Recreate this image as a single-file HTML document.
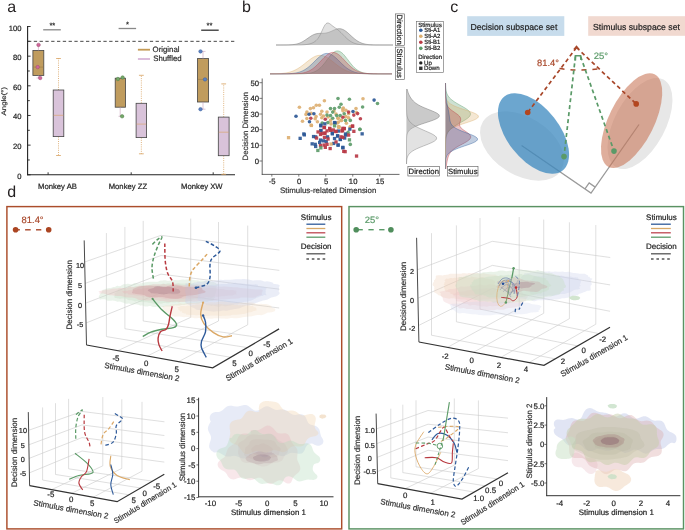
<!DOCTYPE html>
<html><head><meta charset="utf-8"><style>
html,body{margin:0;padding:0;background:#fff;overflow:hidden;width:685px;height:530px;}
svg{display:block;will-change:transform;}
text{font-family:"Liberation Sans",sans-serif;text-rendering:geometricPrecision;}
</style></head><body>
<svg width="685" height="530" viewBox="0 0 685 530" font-family="Liberation Sans, sans-serif">
<defs><filter id="bl" x="-20%" y="-40%" width="140%" height="180%"><feGaussianBlur stdDeviation="0.8"/></filter></defs>
<rect width="685" height="530" fill="#fff"/>
<text x="7.30" y="11.90" font-size="16" text-anchor="start" fill="#231f20" >a</text>
<line x1="27.60" y1="26.00" x2="27.60" y2="175.30" stroke="#222" stroke-width="1.1" />
<line x1="27.10" y1="174.70" x2="235.00" y2="174.70" stroke="#222" stroke-width="1.1" />
<line x1="27.60" y1="174.80" x2="30.60" y2="174.80" stroke="#222" stroke-width="0.9" />
<text x="21.40" y="178.80" font-size="7.6" text-anchor="end" fill="#222"  stroke="#222" stroke-width="0.2">0</text>
<line x1="27.60" y1="159.97" x2="29.80" y2="159.97" stroke="#222" stroke-width="0.9" />
<line x1="27.60" y1="145.14" x2="30.60" y2="145.14" stroke="#222" stroke-width="0.9" />
<text x="21.40" y="149.14" font-size="7.6" text-anchor="end" fill="#222"  stroke="#222" stroke-width="0.2">20</text>
<line x1="27.60" y1="130.31" x2="29.80" y2="130.31" stroke="#222" stroke-width="0.9" />
<line x1="27.60" y1="115.48" x2="30.60" y2="115.48" stroke="#222" stroke-width="0.9" />
<text x="21.40" y="119.48" font-size="7.6" text-anchor="end" fill="#222"  stroke="#222" stroke-width="0.2">40</text>
<line x1="27.60" y1="100.65" x2="29.80" y2="100.65" stroke="#222" stroke-width="0.9" />
<line x1="27.60" y1="85.82" x2="30.60" y2="85.82" stroke="#222" stroke-width="0.9" />
<text x="21.40" y="89.82" font-size="7.6" text-anchor="end" fill="#222"  stroke="#222" stroke-width="0.2">60</text>
<line x1="27.60" y1="70.99" x2="29.80" y2="70.99" stroke="#222" stroke-width="0.9" />
<line x1="27.60" y1="56.16" x2="30.60" y2="56.16" stroke="#222" stroke-width="0.9" />
<text x="21.40" y="60.16" font-size="7.6" text-anchor="end" fill="#222"  stroke="#222" stroke-width="0.2">80</text>
<line x1="27.60" y1="41.33" x2="29.80" y2="41.33" stroke="#222" stroke-width="0.9" />
<line x1="27.60" y1="26.50" x2="30.60" y2="26.50" stroke="#222" stroke-width="0.9" />
<text x="21.40" y="30.50" font-size="7.6" text-anchor="end" fill="#222"  stroke="#222" stroke-width="0.2">100</text>
<line x1="48.10" y1="174.70" x2="48.10" y2="172.30" stroke="#222" stroke-width="0.9" />
<line x1="131.20" y1="174.70" x2="131.20" y2="172.30" stroke="#222" stroke-width="0.9" />
<line x1="213.20" y1="174.70" x2="213.20" y2="172.30" stroke="#222" stroke-width="0.9" />
<line x1="28.00" y1="41.33" x2="234.50" y2="41.33" stroke="#333" stroke-width="0.9" stroke-dasharray="3.3 2.5"/>
<text transform="translate(5.8,101.2) rotate(-90)" font-size="6.6" text-anchor="middle" fill="#333" textLength="28.4" lengthAdjust="spacingAndGlyphs" stroke="#333" stroke-width="0.2">Angle(°)</text>
<text x="57.50" y="188.70" font-size="7.7" text-anchor="middle" fill="#222"  stroke="#222" stroke-width="0.2">Monkey AB</text>
<text x="127.90" y="188.70" font-size="7.7" text-anchor="middle" fill="#222"  stroke="#222" stroke-width="0.2">Monkey ZZ</text>
<text x="201.80" y="188.70" font-size="7.7" text-anchor="middle" fill="#222"  stroke="#222" stroke-width="0.2">Monkey XW</text>
<line x1="43.20" y1="29.80" x2="60.80" y2="29.80" stroke="#888" stroke-width="1.3" />
<text x="52.30" y="28.00" font-size="7.5" text-anchor="middle" fill="#222"  stroke="#222" stroke-width="0.2">**</text>
<line x1="118.60" y1="28.50" x2="136.10" y2="28.50" stroke="#888" stroke-width="1.3" />
<text x="127.40" y="26.60" font-size="7.5" text-anchor="middle" fill="#222"  stroke="#222" stroke-width="0.2">*</text>
<line x1="201.20" y1="30.20" x2="218.70" y2="30.20" stroke="#333" stroke-width="1.3" />
<text x="209.50" y="28.30" font-size="7.5" text-anchor="middle" fill="#222"  stroke="#222" stroke-width="0.2">**</text>
<line x1="137.90" y1="49.70" x2="150.00" y2="49.70" stroke="#c49a55" stroke-width="1.8" />
<text x="152.60" y="52.30" font-size="7.8" text-anchor="start" fill="#2a2a2a"  stroke="#2a2a2a" stroke-width="0.2">Original</text>
<line x1="137.90" y1="59.00" x2="150.00" y2="59.00" stroke="#d8b6d8" stroke-width="1.8" />
<text x="153.20" y="60.80" font-size="7.8" text-anchor="start" fill="#2a2a2a"  stroke="#2a2a2a" stroke-width="0.2">Shuffled</text>
<line x1="58.50" y1="90.00" x2="58.50" y2="58.50" stroke="#d8a160" stroke-width="0.8" stroke-dasharray="1 1.2"/>
<line x1="56.10" y1="58.50" x2="60.90" y2="58.50" stroke="#d8a160" stroke-width="0.8" />
<line x1="58.50" y1="136.60" x2="58.50" y2="155.50" stroke="#d8a160" stroke-width="0.8" stroke-dasharray="1 1.2"/>
<line x1="56.10" y1="155.50" x2="60.90" y2="155.50" stroke="#d8a160" stroke-width="0.8" />
<rect x="53.20" y="90.00" width="10.60" height="46.60" fill="#d9c3da" stroke="#444" stroke-width="0.8"/>
<line x1="53.60" y1="115.30" x2="63.40" y2="115.30" stroke="#d8a160" stroke-width="0.6" />
<line x1="141.35" y1="103.30" x2="141.35" y2="75.30" stroke="#d8a160" stroke-width="0.8" stroke-dasharray="1 1.2"/>
<line x1="138.95" y1="75.30" x2="143.75" y2="75.30" stroke="#d8a160" stroke-width="0.8" />
<line x1="141.35" y1="137.60" x2="141.35" y2="153.80" stroke="#d8a160" stroke-width="0.8" stroke-dasharray="1 1.2"/>
<line x1="138.95" y1="153.80" x2="143.75" y2="153.80" stroke="#d8a160" stroke-width="0.8" />
<rect x="136.10" y="103.30" width="10.50" height="34.30" fill="#d9c3da" stroke="#444" stroke-width="0.8"/>
<line x1="136.50" y1="124.10" x2="146.20" y2="124.10" stroke="#d8a160" stroke-width="0.6" />
<line x1="223.70" y1="117.10" x2="223.70" y2="83.90" stroke="#d8a160" stroke-width="0.8" stroke-dasharray="1 1.2"/>
<line x1="221.30" y1="83.90" x2="226.10" y2="83.90" stroke="#d8a160" stroke-width="0.8" />
<line x1="223.70" y1="155.70" x2="223.70" y2="174.30" stroke="#d8a160" stroke-width="0.8" stroke-dasharray="1 1.2"/>
<line x1="221.30" y1="174.30" x2="226.10" y2="174.30" stroke="#d8a160" stroke-width="0.8" />
<rect x="218.30" y="117.10" width="10.80" height="38.60" fill="#d9c3da" stroke="#444" stroke-width="0.8"/>
<line x1="218.70" y1="132.20" x2="228.70" y2="132.20" stroke="#d8a160" stroke-width="0.6" />
<rect x="32.90" y="50.50" width="10.90" height="24.90" fill="#c09c5e" stroke="#444" stroke-width="0.8"/>
<line x1="33.30" y1="67.10" x2="43.40" y2="67.10" stroke="#9a7a48" stroke-width="0.6" />
<rect x="115.20" y="78.20" width="10.30" height="29.00" fill="#c09c5e" stroke="#444" stroke-width="0.8"/>
<rect x="197.50" y="58.60" width="11.10" height="43.40" fill="#c09c5e" stroke="#444" stroke-width="0.8"/>
<line x1="197.90" y1="79.40" x2="208.20" y2="79.40" stroke="#9a7a48" stroke-width="0.6" />
<line x1="120.20" y1="107.20" x2="120.20" y2="116.30" stroke="#c8a0b8" stroke-width="0.6" />
<line x1="118.50" y1="116.30" x2="124.00" y2="116.30" stroke="#c8a0b8" stroke-width="0.6" />
<line x1="38.40" y1="75.40" x2="38.40" y2="78.00" stroke="#c8a0b8" stroke-width="0.6" />
<line x1="36.50" y1="78.00" x2="41.00" y2="78.00" stroke="#c8a0b8" stroke-width="0.6" />
<line x1="38.40" y1="50.50" x2="38.40" y2="44.90" stroke="#c8a0b8" stroke-width="0.6" />
<line x1="36.50" y1="44.90" x2="41.00" y2="44.90" stroke="#c8a0b8" stroke-width="0.6" />
<line x1="203.00" y1="58.60" x2="203.00" y2="51.40" stroke="#c8a0b8" stroke-width="0.6" />
<line x1="200.50" y1="51.40" x2="205.50" y2="51.40" stroke="#c8a0b8" stroke-width="0.6" />
<line x1="203.00" y1="102.00" x2="203.00" y2="109.20" stroke="#c8a0b8" stroke-width="0.6" />
<line x1="200.50" y1="109.20" x2="205.50" y2="109.20" stroke="#c8a0b8" stroke-width="0.6" />
<circle cx="38.50" cy="44.90" r="1.75" fill="#d0679a" stroke="#a04a70" stroke-width="0.5"/>
<circle cx="37.70" cy="67.10" r="1.75" fill="#d0679a" stroke="#a04a70" stroke-width="0.5"/>
<circle cx="40.20" cy="78.00" r="1.75" fill="#d0679a" stroke="#a04a70" stroke-width="0.5"/>
<circle cx="117.90" cy="79.00" r="1.75" fill="#74a868" stroke="#4f7d48" stroke-width="0.5"/>
<circle cx="122.60" cy="77.50" r="1.75" fill="#74a868" stroke="#4f7d48" stroke-width="0.5"/>
<circle cx="122.10" cy="116.30" r="1.75" fill="#74a868" stroke="#4f7d48" stroke-width="0.5"/>
<circle cx="200.50" cy="51.40" r="1.75" fill="#5a82c4" stroke="#3d5f9a" stroke-width="0.5"/>
<circle cx="205.00" cy="79.40" r="1.75" fill="#5a82c4" stroke="#3d5f9a" stroke-width="0.5"/>
<circle cx="200.50" cy="109.20" r="1.75" fill="#5a82c4" stroke="#3d5f9a" stroke-width="0.5"/>
<text x="242.00" y="11.90" font-size="16" text-anchor="start" fill="#231f20" >b</text>
<line x1="262.20" y1="78.50" x2="262.20" y2="174.80" stroke="#444" stroke-width="0.8" />
<line x1="261.80" y1="174.40" x2="399.50" y2="174.40" stroke="#444" stroke-width="0.8" />
<line x1="259.40" y1="161.00" x2="262.20" y2="161.00" stroke="#444" stroke-width="0.7" />
<text x="259.10" y="163.80" font-size="7.7" text-anchor="end" fill="#222"  stroke="#222" stroke-width="0.2">0</text>
<line x1="259.40" y1="145.34" x2="262.20" y2="145.34" stroke="#444" stroke-width="0.7" />
<text x="259.10" y="148.14" font-size="7.7" text-anchor="end" fill="#222"  stroke="#222" stroke-width="0.2">10</text>
<line x1="259.40" y1="129.68" x2="262.20" y2="129.68" stroke="#444" stroke-width="0.7" />
<text x="259.10" y="132.48" font-size="7.7" text-anchor="end" fill="#222"  stroke="#222" stroke-width="0.2">20</text>
<line x1="259.40" y1="114.02" x2="262.20" y2="114.02" stroke="#444" stroke-width="0.7" />
<text x="259.10" y="116.82" font-size="7.7" text-anchor="end" fill="#222"  stroke="#222" stroke-width="0.2">30</text>
<line x1="259.40" y1="98.36" x2="262.20" y2="98.36" stroke="#444" stroke-width="0.7" />
<text x="259.10" y="101.16" font-size="7.7" text-anchor="end" fill="#222"  stroke="#222" stroke-width="0.2">40</text>
<line x1="259.40" y1="82.70" x2="262.20" y2="82.70" stroke="#444" stroke-width="0.7" />
<text x="259.10" y="85.50" font-size="7.7" text-anchor="end" fill="#222"  stroke="#222" stroke-width="0.2">50</text>
<line x1="271.82" y1="174.40" x2="271.82" y2="176.60" stroke="#444" stroke-width="0.7" />
<text x="272.22" y="184.00" font-size="7.7" text-anchor="middle" fill="#222"  stroke="#222" stroke-width="0.2">-5</text>
<line x1="298.80" y1="174.40" x2="298.80" y2="176.60" stroke="#444" stroke-width="0.7" />
<text x="299.20" y="184.00" font-size="7.7" text-anchor="middle" fill="#222"  stroke="#222" stroke-width="0.2">0</text>
<line x1="325.78" y1="174.40" x2="325.78" y2="176.60" stroke="#444" stroke-width="0.7" />
<text x="326.18" y="184.00" font-size="7.7" text-anchor="middle" fill="#222"  stroke="#222" stroke-width="0.2">5</text>
<line x1="352.75" y1="174.40" x2="352.75" y2="176.60" stroke="#444" stroke-width="0.7" />
<text x="353.15" y="184.00" font-size="7.7" text-anchor="middle" fill="#222"  stroke="#222" stroke-width="0.2">10</text>
<line x1="379.73" y1="174.40" x2="379.73" y2="176.60" stroke="#444" stroke-width="0.7" />
<text x="380.12" y="184.00" font-size="7.7" text-anchor="middle" fill="#222"  stroke="#222" stroke-width="0.2">15</text>
<text x="328.25" y="193.30" font-size="7.8" text-anchor="middle" fill="#333" textLength="96.3" lengthAdjust="spacingAndGlyphs"  stroke="#333" stroke-width="0.2">Stimulus-related Dimension</text>
<text transform="translate(247.9,126.2) rotate(-90)" font-size="7.8" text-anchor="middle" fill="#333" textLength="68.5" lengthAdjust="spacingAndGlyphs" stroke="#333" stroke-width="0.2">Decision Dimension</text>
<circle cx="324.4" cy="100.7" r="1.8" fill="#ddb073" fill-opacity="0.92"/>
<circle cx="299.4" cy="107.3" r="1.8" fill="#ddb073" fill-opacity="0.92"/>
<circle cx="310.4" cy="108.6" r="1.8" fill="#ddb073" fill-opacity="0.92"/>
<circle cx="313.5" cy="107.7" r="1.8" fill="#ddb073" fill-opacity="0.92"/>
<circle cx="316.3" cy="105.3" r="1.8" fill="#ddb073" fill-opacity="0.92"/>
<circle cx="319.4" cy="105.3" r="1.8" fill="#ddb073" fill-opacity="0.92"/>
<circle cx="306.9" cy="112.1" r="1.8" fill="#ddb073" fill-opacity="0.92"/>
<circle cx="306.0" cy="114.4" r="1.8" fill="#ddb073" fill-opacity="0.92"/>
<circle cx="311.1" cy="113.4" r="1.8" fill="#ddb073" fill-opacity="0.92"/>
<circle cx="321.8" cy="111.2" r="1.8" fill="#ddb073" fill-opacity="0.92"/>
<circle cx="320.5" cy="114.3" r="1.8" fill="#ddb073" fill-opacity="0.92"/>
<circle cx="316.1" cy="116.5" r="1.8" fill="#ddb073" fill-opacity="0.92"/>
<circle cx="315.2" cy="118.8" r="1.8" fill="#ddb073" fill-opacity="0.92"/>
<circle cx="306.9" cy="118.5" r="1.8" fill="#ddb073" fill-opacity="0.92"/>
<circle cx="302.5" cy="121.3" r="1.8" fill="#ddb073" fill-opacity="0.92"/>
<circle cx="311.3" cy="125.2" r="1.8" fill="#ddb073" fill-opacity="0.92"/>
<circle cx="317.4" cy="121.7" r="1.8" fill="#ddb073" fill-opacity="0.92"/>
<circle cx="321.8" cy="117.8" r="1.8" fill="#ddb073" fill-opacity="0.92"/>
<circle cx="323.5" cy="116.0" r="1.8" fill="#ddb073" fill-opacity="0.92"/>
<circle cx="330.5" cy="120.4" r="1.8" fill="#ddb073" fill-opacity="0.92"/>
<circle cx="331.0" cy="123.9" r="1.8" fill="#ddb073" fill-opacity="0.92"/>
<circle cx="338.0" cy="118.2" r="1.8" fill="#ddb073" fill-opacity="0.92"/>
<circle cx="341.0" cy="120.4" r="1.8" fill="#ddb073" fill-opacity="0.92"/>
<circle cx="342.8" cy="109.0" r="1.8" fill="#ddb073" fill-opacity="0.92"/>
<circle cx="337.5" cy="123.0" r="1.8" fill="#ddb073" fill-opacity="0.92"/>
<circle cx="338.9" cy="127.0" r="1.8" fill="#ddb073" fill-opacity="0.92"/>
<circle cx="363.0" cy="98.7" r="1.8" fill="#ddb073" fill-opacity="0.92"/>
<circle cx="343.3" cy="108.1" r="1.8" fill="#ddb073" fill-opacity="0.92"/>
<circle cx="342.9" cy="110.8" r="1.8" fill="#ddb073" fill-opacity="0.92"/>
<circle cx="345.9" cy="110.3" r="1.8" fill="#ddb073" fill-opacity="0.92"/>
<circle cx="356.0" cy="108.6" r="1.8" fill="#ddb073" fill-opacity="0.92"/>
<circle cx="356.5" cy="112.5" r="1.8" fill="#ddb073" fill-opacity="0.92"/>
<circle cx="348.6" cy="113.8" r="1.8" fill="#ddb073" fill-opacity="0.92"/>
<circle cx="345.9" cy="116.5" r="1.8" fill="#ddb073" fill-opacity="0.92"/>
<circle cx="348.6" cy="117.9" r="1.8" fill="#ddb073" fill-opacity="0.92"/>
<circle cx="338.1" cy="118.2" r="1.8" fill="#ddb073" fill-opacity="0.92"/>
<circle cx="341.6" cy="120.4" r="1.8" fill="#ddb073" fill-opacity="0.92"/>
<circle cx="338.5" cy="122.1" r="1.8" fill="#ddb073" fill-opacity="0.92"/>
<circle cx="346.4" cy="123.2" r="1.8" fill="#ddb073" fill-opacity="0.92"/>
<circle cx="338.9" cy="127.0" r="1.8" fill="#ddb073" fill-opacity="0.92"/>
<circle cx="350.3" cy="127.0" r="1.8" fill="#ddb073" fill-opacity="0.92"/>
<circle cx="338.5" cy="126.8" r="1.8" fill="#ddb073" fill-opacity="0.92"/>
<circle cx="350.3" cy="126.8" r="1.8" fill="#ddb073" fill-opacity="0.92"/>
<circle cx="327.0" cy="112.0" r="1.8" fill="#ddb073" fill-opacity="0.92"/>
<circle cx="334.0" cy="111.0" r="1.8" fill="#ddb073" fill-opacity="0.92"/>
<circle cx="336.0" cy="114.0" r="1.8" fill="#ddb073" fill-opacity="0.92"/>
<circle cx="328.0" cy="117.0" r="1.8" fill="#ddb073" fill-opacity="0.92"/>
<circle cx="338.0" cy="98.5" r="1.8" fill="#5e9c6b" fill-opacity="0.92"/>
<circle cx="341.0" cy="104.2" r="1.8" fill="#5e9c6b" fill-opacity="0.92"/>
<circle cx="339.3" cy="107.3" r="1.8" fill="#5e9c6b" fill-opacity="0.92"/>
<circle cx="330.5" cy="108.6" r="1.8" fill="#5e9c6b" fill-opacity="0.92"/>
<circle cx="334.5" cy="108.6" r="1.8" fill="#5e9c6b" fill-opacity="0.92"/>
<circle cx="332.7" cy="112.1" r="1.8" fill="#5e9c6b" fill-opacity="0.92"/>
<circle cx="327.0" cy="115.1" r="1.8" fill="#5e9c6b" fill-opacity="0.92"/>
<circle cx="330.5" cy="115.6" r="1.8" fill="#5e9c6b" fill-opacity="0.92"/>
<circle cx="336.7" cy="115.6" r="1.8" fill="#5e9c6b" fill-opacity="0.92"/>
<circle cx="340.2" cy="115.6" r="1.8" fill="#5e9c6b" fill-opacity="0.92"/>
<circle cx="332.7" cy="118.2" r="1.8" fill="#5e9c6b" fill-opacity="0.92"/>
<circle cx="327.9" cy="122.6" r="1.8" fill="#5e9c6b" fill-opacity="0.92"/>
<circle cx="322.2" cy="123.0" r="1.8" fill="#5e9c6b" fill-opacity="0.92"/>
<circle cx="349.4" cy="99.2" r="1.8" fill="#5e9c6b" fill-opacity="0.92"/>
<circle cx="377.5" cy="103.5" r="1.8" fill="#5e9c6b" fill-opacity="0.92"/>
<circle cx="362.6" cy="107.0" r="1.8" fill="#5e9c6b" fill-opacity="0.92"/>
<circle cx="344.2" cy="113.8" r="1.8" fill="#5e9c6b" fill-opacity="0.92"/>
<circle cx="345.5" cy="120.4" r="1.8" fill="#5e9c6b" fill-opacity="0.92"/>
<circle cx="350.3" cy="120.4" r="1.8" fill="#5e9c6b" fill-opacity="0.92"/>
<circle cx="360.0" cy="129.3" r="1.8" fill="#5e9c6b" fill-opacity="0.92"/>
<circle cx="359.8" cy="129.4" r="1.8" fill="#5e9c6b" fill-opacity="0.92"/>
<circle cx="350.3" cy="144.4" r="1.8" fill="#5e9c6b" fill-opacity="0.92"/>
<circle cx="348.1" cy="132.4" r="1.8" fill="#5e9c6b" fill-opacity="0.92"/>
<circle cx="296.0" cy="116.3" r="1.8" fill="#2c5896" fill-opacity="0.92"/>
<circle cx="309.1" cy="114.3" r="1.8" fill="#2c5896" fill-opacity="0.92"/>
<circle cx="313.9" cy="113.8" r="1.8" fill="#2c5896" fill-opacity="0.92"/>
<circle cx="309.5" cy="121.7" r="1.8" fill="#2c5896" fill-opacity="0.92"/>
<circle cx="374.1" cy="100.1" r="1.8" fill="#2c5896" fill-opacity="0.92"/>
<circle cx="353.0" cy="111.5" r="1.8" fill="#2c5896" fill-opacity="0.92"/>
<circle cx="310.8" cy="118.2" r="1.8" fill="#b83a47" fill-opacity="0.92"/>
<circle cx="325.3" cy="119.3" r="1.8" fill="#b83a47" fill-opacity="0.92"/>
<circle cx="360.4" cy="118.8" r="1.8" fill="#b83a47" fill-opacity="0.92"/>
<circle cx="353.8" cy="115.1" r="1.8" fill="#b83a47" fill-opacity="0.92"/>
<circle cx="357.6" cy="113.6" r="1.8" fill="#b83a47" fill-opacity="0.92"/>
<circle cx="348.6" cy="112.1" r="1.8" fill="#b83a47" fill-opacity="0.92"/>
<circle cx="342.9" cy="117.3" r="1.8" fill="#b83a47" fill-opacity="0.92"/>
<rect x="323.2" y="122.2" width="3.3" height="3.3" fill="#2c5896" fill-opacity="0.92"/>
<rect x="332.9" y="120.9" width="3.3" height="3.3" fill="#2c5896" fill-opacity="0.92"/>
<rect x="319.2" y="123.5" width="3.3" height="3.3" fill="#2c5896" fill-opacity="0.92"/>
<rect x="319.2" y="128.8" width="3.3" height="3.3" fill="#2c5896" fill-opacity="0.92"/>
<rect x="302.2" y="132.3" width="3.3" height="3.3" fill="#2c5896" fill-opacity="0.92"/>
<rect x="330.7" y="131.4" width="3.3" height="3.3" fill="#2c5896" fill-opacity="0.92"/>
<rect x="302.7" y="133.2" width="3.3" height="3.3" fill="#2c5896" fill-opacity="0.92"/>
<rect x="298.5" y="136.7" width="3.3" height="3.3" fill="#2c5896" fill-opacity="0.92"/>
<rect x="311.9" y="134.9" width="3.3" height="3.3" fill="#2c5896" fill-opacity="0.92"/>
<rect x="314.0" y="135.2" width="3.3" height="3.3" fill="#2c5896" fill-opacity="0.92"/>
<rect x="319.2" y="129.0" width="3.3" height="3.3" fill="#2c5896" fill-opacity="0.92"/>
<rect x="318.9" y="138.4" width="3.3" height="3.3" fill="#2c5896" fill-opacity="0.92"/>
<rect x="318.0" y="140.8" width="3.3" height="3.3" fill="#2c5896" fill-opacity="0.92"/>
<rect x="310.5" y="142.2" width="3.3" height="3.3" fill="#2c5896" fill-opacity="0.92"/>
<rect x="313.6" y="142.7" width="3.3" height="3.3" fill="#2c5896" fill-opacity="0.92"/>
<rect x="314.0" y="144.8" width="3.3" height="3.3" fill="#2c5896" fill-opacity="0.92"/>
<rect x="325.9" y="135.2" width="3.3" height="3.3" fill="#2c5896" fill-opacity="0.92"/>
<rect x="330.7" y="132.2" width="3.3" height="3.3" fill="#2c5896" fill-opacity="0.92"/>
<rect x="332.9" y="136.9" width="3.3" height="3.3" fill="#2c5896" fill-opacity="0.92"/>
<rect x="335.9" y="134.2" width="3.3" height="3.3" fill="#2c5896" fill-opacity="0.92"/>
<rect x="338.6" y="137.8" width="3.3" height="3.3" fill="#2c5896" fill-opacity="0.92"/>
<rect x="336.4" y="143.4" width="3.3" height="3.3" fill="#2c5896" fill-opacity="0.92"/>
<rect x="341.2" y="145.7" width="3.3" height="3.3" fill="#2c5896" fill-opacity="0.92"/>
<rect x="324.6" y="139.9" width="3.3" height="3.3" fill="#2c5896" fill-opacity="0.92"/>
<rect x="321.9" y="139.2" width="3.3" height="3.3" fill="#2c5896" fill-opacity="0.92"/>
<rect x="332.0" y="141.8" width="3.3" height="3.3" fill="#2c5896" fill-opacity="0.92"/>
<rect x="319.2" y="124.2" width="3.3" height="3.3" fill="#2c5896" fill-opacity="0.92"/>
<rect x="360.5" y="132.2" width="3.3" height="3.3" fill="#2c5896" fill-opacity="0.92"/>
<rect x="348.2" y="127.5" width="3.3" height="3.3" fill="#2c5896" fill-opacity="0.92"/>
<rect x="343.9" y="133.4" width="3.3" height="3.3" fill="#2c5896" fill-opacity="0.92"/>
<rect x="338.8" y="137.8" width="3.3" height="3.3" fill="#2c5896" fill-opacity="0.92"/>
<rect x="336.5" y="143.4" width="3.3" height="3.3" fill="#2c5896" fill-opacity="0.92"/>
<rect x="341.2" y="146.2" width="3.3" height="3.3" fill="#2c5896" fill-opacity="0.92"/>
<rect x="336.0" y="134.3" width="3.3" height="3.3" fill="#2c5896" fill-opacity="0.92"/>
<rect x="336.9" y="129.4" width="3.3" height="3.3" fill="#2c5896" fill-opacity="0.92"/>
<rect x="343.0" y="136.4" width="3.3" height="3.3" fill="#2c5896" fill-opacity="0.92"/>
<rect x="343.9" y="132.3" width="3.3" height="3.3" fill="#2c5896" fill-opacity="0.92"/>
<rect x="333.4" y="121.3" width="3.3" height="3.3" fill="#2c5896" fill-opacity="0.92"/>
<rect x="322.8" y="125.8" width="3.3" height="3.3" fill="#b83a47" fill-opacity="0.92"/>
<rect x="328.1" y="126.7" width="3.3" height="3.3" fill="#b83a47" fill-opacity="0.92"/>
<rect x="331.6" y="128.3" width="3.3" height="3.3" fill="#b83a47" fill-opacity="0.92"/>
<rect x="325.4" y="129.2" width="3.3" height="3.3" fill="#b83a47" fill-opacity="0.92"/>
<rect x="320.2" y="131.8" width="3.3" height="3.3" fill="#b83a47" fill-opacity="0.92"/>
<rect x="323.2" y="131.4" width="3.3" height="3.3" fill="#b83a47" fill-opacity="0.92"/>
<rect x="341.2" y="126.7" width="3.3" height="3.3" fill="#b83a47" fill-opacity="0.92"/>
<rect x="322.4" y="125.9" width="3.3" height="3.3" fill="#b83a47" fill-opacity="0.92"/>
<rect x="328.1" y="127.2" width="3.3" height="3.3" fill="#b83a47" fill-opacity="0.92"/>
<rect x="334.2" y="129.9" width="3.3" height="3.3" fill="#b83a47" fill-opacity="0.92"/>
<rect x="318.9" y="132.8" width="3.3" height="3.3" fill="#b83a47" fill-opacity="0.92"/>
<rect x="323.2" y="131.7" width="3.3" height="3.3" fill="#b83a47" fill-opacity="0.92"/>
<rect x="314.9" y="136.4" width="3.3" height="3.3" fill="#b83a47" fill-opacity="0.92"/>
<rect x="322.8" y="135.7" width="3.3" height="3.3" fill="#b83a47" fill-opacity="0.92"/>
<rect x="318.9" y="143.9" width="3.3" height="3.3" fill="#b83a47" fill-opacity="0.92"/>
<rect x="322.4" y="143.4" width="3.3" height="3.3" fill="#b83a47" fill-opacity="0.92"/>
<rect x="323.7" y="145.7" width="3.3" height="3.3" fill="#b83a47" fill-opacity="0.92"/>
<rect x="328.5" y="146.9" width="3.3" height="3.3" fill="#b83a47" fill-opacity="0.92"/>
<rect x="328.9" y="128.7" width="3.3" height="3.3" fill="#b83a47" fill-opacity="0.92"/>
<rect x="340.8" y="128.7" width="3.3" height="3.3" fill="#b83a47" fill-opacity="0.92"/>
<rect x="342.1" y="149.7" width="3.3" height="3.3" fill="#b83a47" fill-opacity="0.92"/>
<rect x="339.4" y="135.2" width="3.3" height="3.3" fill="#b83a47" fill-opacity="0.92"/>
<rect x="325.4" y="142.7" width="3.3" height="3.3" fill="#b83a47" fill-opacity="0.92"/>
<rect x="354.9" y="154.4" width="3.3" height="3.3" fill="#b83a47" fill-opacity="0.92"/>
<rect x="343.5" y="150.0" width="3.3" height="3.3" fill="#b83a47" fill-opacity="0.92"/>
<rect x="352.2" y="129.7" width="3.3" height="3.3" fill="#b83a47" fill-opacity="0.92"/>
<rect x="342.6" y="126.8" width="3.3" height="3.3" fill="#b83a47" fill-opacity="0.92"/>
<rect x="347.0" y="133.4" width="3.3" height="3.3" fill="#b83a47" fill-opacity="0.92"/>
<rect x="340.4" y="129.4" width="3.3" height="3.3" fill="#b83a47" fill-opacity="0.92"/>
<rect x="334.2" y="129.7" width="3.3" height="3.3" fill="#b83a47" fill-opacity="0.92"/>
<rect x="341.2" y="135.7" width="3.3" height="3.3" fill="#b83a47" fill-opacity="0.92"/>
<rect x="350.9" y="124.6" width="3.3" height="3.3" fill="#b83a47" fill-opacity="0.92"/>
<rect x="350.9" y="124.4" width="3.3" height="3.3" fill="#b83a47" fill-opacity="0.92"/>
<rect x="342.6" y="127.0" width="3.3" height="3.3" fill="#b83a47" fill-opacity="0.92"/>
<rect x="340.8" y="128.8" width="3.3" height="3.3" fill="#b83a47" fill-opacity="0.92"/>
<rect x="326.4" y="137.3" width="3.3" height="3.3" fill="#b83a47" fill-opacity="0.92"/>
<rect x="334.4" y="140.3" width="3.3" height="3.3" fill="#b83a47" fill-opacity="0.92"/>
<rect x="316.4" y="130.3" width="3.3" height="3.3" fill="#b83a47" fill-opacity="0.92"/>
<rect x="319.2" y="146.2" width="3.3" height="3.3" fill="#5e9c6b" fill-opacity="0.92"/>
<rect x="316.2" y="148.8" width="3.3" height="3.3" fill="#5e9c6b" fill-opacity="0.92"/>
<rect x="332.9" y="124.2" width="3.3" height="3.3" fill="#5e9c6b" fill-opacity="0.92"/>
<rect x="347.8" y="138.2" width="3.3" height="3.3" fill="#5e9c6b" fill-opacity="0.92"/>
<rect x="286.9" y="136.0" width="3.3" height="3.3" fill="#ddb073" fill-opacity="0.92"/>
<rect x="329.4" y="142.4" width="3.3" height="3.3" fill="#ddb073" fill-opacity="0.92"/>
<rect x="309.7" y="123.8" width="3.3" height="3.3" fill="#ddb073" fill-opacity="0.92"/>
<rect x="337.2" y="125.5" width="3.3" height="3.3" fill="#ddb073" fill-opacity="0.92"/>
<path d="M276.00,45.00 L276.00,45.00 L277.00,45.00 L278.00,45.00 L279.00,45.00 L280.00,45.00 L281.00,44.99 L282.00,44.99 L283.00,44.99 L284.00,44.98 L285.00,44.97 L286.00,44.96 L287.00,44.94 L288.00,44.92 L289.00,44.89 L290.00,44.85 L291.00,44.79 L292.00,44.71 L293.00,44.62 L294.00,44.49 L295.00,44.34 L296.00,44.15 L297.00,43.92 L298.00,43.64 L299.00,43.31 L300.00,42.93 L301.00,42.49 L302.00,41.99 L303.00,41.44 L304.00,40.84 L305.00,40.20 L306.00,39.52 L307.00,38.82 L308.00,38.11 L309.00,37.41 L310.00,36.72 L311.00,36.08 L312.00,35.48 L313.00,34.95 L314.00,34.50 L315.00,34.12 L316.00,33.83 L317.00,33.61 L318.00,33.46 L319.00,33.38 L320.00,33.33 L321.00,33.32 L322.00,33.31 L323.00,33.30 L324.00,33.25 L325.00,33.17 L326.00,33.03 L327.00,32.83 L328.00,32.56 L329.00,32.23 L330.00,31.85 L331.00,31.43 L332.00,30.97 L333.00,30.51 L334.00,30.06 L335.00,29.64 L336.00,29.27 L337.00,28.98 L338.00,28.78 L339.00,28.69 L340.00,28.71 L341.00,28.86 L342.00,29.13 L343.00,29.53 L344.00,30.04 L345.00,30.66 L346.00,31.37 L347.00,32.16 L348.00,33.01 L349.00,33.91 L350.00,34.83 L351.00,35.75 L352.00,36.67 L353.00,37.56 L354.00,38.42 L355.00,39.23 L356.00,39.99 L357.00,40.69 L358.00,41.32 L359.00,41.89 L360.00,42.39 L361.00,42.83 L362.00,43.22 L363.00,43.55 L364.00,43.83 L365.00,44.06 L366.00,44.25 L367.00,44.41 L368.00,44.54 L369.00,44.65 L370.00,44.73 L371.00,44.80 L372.00,44.85 L373.00,44.89 L374.00,44.92 L375.00,44.94 L376.00,44.96 L377.00,44.97 L378.00,44.98 L379.00,44.98 L380.00,44.99 L381.00,44.99 L382.00,44.99 L383.00,45.00 L384.00,45.00 L385.00,45.00 L386.00,45.00 L387.00,45.00 L388.00,45.00 L389.00,45.00 L390.00,45.00 L391.00,45.00 L392.00,45.00 L393.00,45.00 L393.00,45.00Z" fill="#aaa" fill-opacity="0.62" stroke="none"/>
<path d="M276.00,45.00 L277.00,45.00 L278.00,45.00 L279.00,45.00 L280.00,45.00 L281.00,44.99 L282.00,44.99 L283.00,44.99 L284.00,44.98 L285.00,44.97 L286.00,44.96 L287.00,44.94 L288.00,44.92 L289.00,44.89 L290.00,44.85 L291.00,44.79 L292.00,44.71 L293.00,44.62 L294.00,44.49 L295.00,44.34 L296.00,44.15 L297.00,43.92 L298.00,43.64 L299.00,43.31 L300.00,42.93 L301.00,42.49 L302.00,41.99 L303.00,41.44 L304.00,40.84 L305.00,40.20 L306.00,39.52 L307.00,38.82 L308.00,38.11 L309.00,37.41 L310.00,36.72 L311.00,36.08 L312.00,35.48 L313.00,34.95 L314.00,34.50 L315.00,34.12 L316.00,33.83 L317.00,33.61 L318.00,33.46 L319.00,33.38 L320.00,33.33 L321.00,33.32 L322.00,33.31 L323.00,33.30 L324.00,33.25 L325.00,33.17 L326.00,33.03 L327.00,32.83 L328.00,32.56 L329.00,32.23 L330.00,31.85 L331.00,31.43 L332.00,30.97 L333.00,30.51 L334.00,30.06 L335.00,29.64 L336.00,29.27 L337.00,28.98 L338.00,28.78 L339.00,28.69 L340.00,28.71 L341.00,28.86 L342.00,29.13 L343.00,29.53 L344.00,30.04 L345.00,30.66 L346.00,31.37 L347.00,32.16 L348.00,33.01 L349.00,33.91 L350.00,34.83 L351.00,35.75 L352.00,36.67 L353.00,37.56 L354.00,38.42 L355.00,39.23 L356.00,39.99 L357.00,40.69 L358.00,41.32 L359.00,41.89 L360.00,42.39 L361.00,42.83 L362.00,43.22 L363.00,43.55 L364.00,43.83 L365.00,44.06 L366.00,44.25 L367.00,44.41 L368.00,44.54 L369.00,44.65 L370.00,44.73 L371.00,44.80 L372.00,44.85 L373.00,44.89 L374.00,44.92 L375.00,44.94 L376.00,44.96 L377.00,44.97 L378.00,44.98 L379.00,44.98 L380.00,44.99 L381.00,44.99 L382.00,44.99 L383.00,45.00 L384.00,45.00 L385.00,45.00 L386.00,45.00 L387.00,45.00 L388.00,45.00 L389.00,45.00 L390.00,45.00 L391.00,45.00 L392.00,45.00 L393.00,45.00" fill="none" stroke="#7a7a7a" stroke-width="0.5" stroke-opacity="1.0"/>
<path d="M276.00,45.00 L276.00,45.00 L277.00,45.00 L278.00,45.00 L279.00,45.00 L280.00,45.00 L281.00,45.00 L282.00,45.00 L283.00,45.00 L284.00,45.00 L285.00,45.00 L286.00,45.00 L287.00,45.00 L288.00,45.00 L289.00,45.00 L290.00,45.00 L291.00,45.00 L292.00,45.00 L293.00,44.99 L294.00,44.99 L295.00,44.99 L296.00,44.98 L297.00,44.97 L298.00,44.96 L299.00,44.95 L300.00,44.93 L301.00,44.90 L302.00,44.86 L303.00,44.81 L304.00,44.75 L305.00,44.66 L306.00,44.56 L307.00,44.42 L308.00,44.25 L309.00,44.04 L310.00,43.79 L311.00,43.48 L312.00,43.11 L313.00,42.66 L314.00,42.12 L315.00,41.45 L316.00,40.64 L317.00,39.64 L318.00,38.40 L319.00,36.89 L320.00,35.10 L321.00,33.06 L322.00,30.86 L323.00,28.65 L324.00,26.60 L325.00,24.90 L326.00,23.69 L327.00,23.05 L328.00,22.94 L329.00,23.27 L330.00,23.90 L331.00,24.67 L332.00,25.49 L333.00,26.27 L334.00,27.00 L335.00,27.70 L336.00,28.40 L337.00,29.12 L338.00,29.91 L339.00,30.76 L340.00,31.68 L341.00,32.65 L342.00,33.66 L343.00,34.69 L344.00,35.72 L345.00,36.73 L346.00,37.70 L347.00,38.62 L348.00,39.48 L349.00,40.27 L350.00,40.99 L351.00,41.64 L352.00,42.20 L353.00,42.70 L354.00,43.13 L355.00,43.49 L356.00,43.79 L357.00,44.05 L358.00,44.25 L359.00,44.42 L360.00,44.56 L361.00,44.66 L362.00,44.75 L363.00,44.81 L364.00,44.86 L365.00,44.90 L366.00,44.93 L367.00,44.95 L368.00,44.96 L369.00,44.97 L370.00,44.98 L371.00,44.99 L372.00,44.99 L373.00,44.99 L374.00,45.00 L375.00,45.00 L376.00,45.00 L377.00,45.00 L378.00,45.00 L379.00,45.00 L380.00,45.00 L381.00,45.00 L382.00,45.00 L383.00,45.00 L384.00,45.00 L385.00,45.00 L386.00,45.00 L387.00,45.00 L388.00,45.00 L389.00,45.00 L390.00,45.00 L391.00,45.00 L392.00,45.00 L393.00,45.00 L393.00,45.00Z" fill="#bbb" fill-opacity="0.42" stroke="none"/>
<path d="M276.00,45.00 L277.00,45.00 L278.00,45.00 L279.00,45.00 L280.00,45.00 L281.00,45.00 L282.00,45.00 L283.00,45.00 L284.00,45.00 L285.00,45.00 L286.00,45.00 L287.00,45.00 L288.00,45.00 L289.00,45.00 L290.00,45.00 L291.00,45.00 L292.00,45.00 L293.00,44.99 L294.00,44.99 L295.00,44.99 L296.00,44.98 L297.00,44.97 L298.00,44.96 L299.00,44.95 L300.00,44.93 L301.00,44.90 L302.00,44.86 L303.00,44.81 L304.00,44.75 L305.00,44.66 L306.00,44.56 L307.00,44.42 L308.00,44.25 L309.00,44.04 L310.00,43.79 L311.00,43.48 L312.00,43.11 L313.00,42.66 L314.00,42.12 L315.00,41.45 L316.00,40.64 L317.00,39.64 L318.00,38.40 L319.00,36.89 L320.00,35.10 L321.00,33.06 L322.00,30.86 L323.00,28.65 L324.00,26.60 L325.00,24.90 L326.00,23.69 L327.00,23.05 L328.00,22.94 L329.00,23.27 L330.00,23.90 L331.00,24.67 L332.00,25.49 L333.00,26.27 L334.00,27.00 L335.00,27.70 L336.00,28.40 L337.00,29.12 L338.00,29.91 L339.00,30.76 L340.00,31.68 L341.00,32.65 L342.00,33.66 L343.00,34.69 L344.00,35.72 L345.00,36.73 L346.00,37.70 L347.00,38.62 L348.00,39.48 L349.00,40.27 L350.00,40.99 L351.00,41.64 L352.00,42.20 L353.00,42.70 L354.00,43.13 L355.00,43.49 L356.00,43.79 L357.00,44.05 L358.00,44.25 L359.00,44.42 L360.00,44.56 L361.00,44.66 L362.00,44.75 L363.00,44.81 L364.00,44.86 L365.00,44.90 L366.00,44.93 L367.00,44.95 L368.00,44.96 L369.00,44.97 L370.00,44.98 L371.00,44.99 L372.00,44.99 L373.00,44.99 L374.00,45.00 L375.00,45.00 L376.00,45.00 L377.00,45.00 L378.00,45.00 L379.00,45.00 L380.00,45.00 L381.00,45.00 L382.00,45.00 L383.00,45.00 L384.00,45.00 L385.00,45.00 L386.00,45.00 L387.00,45.00 L388.00,45.00 L389.00,45.00 L390.00,45.00 L391.00,45.00 L392.00,45.00 L393.00,45.00" fill="none" stroke="#8a8a8a" stroke-width="0.5" stroke-opacity="1.0"/>
<path d="M270.00,73.90 L270.00,73.90 L271.00,73.90 L272.00,73.90 L273.00,73.90 L274.00,73.90 L275.00,73.90 L276.00,73.90 L277.00,73.90 L278.00,73.90 L279.00,73.90 L280.00,73.90 L281.00,73.90 L282.00,73.90 L283.00,73.90 L284.00,73.90 L285.00,73.90 L286.00,73.90 L287.00,73.90 L288.00,73.90 L289.00,73.90 L290.00,73.90 L291.00,73.90 L292.00,73.90 L293.00,73.90 L294.00,73.90 L295.00,73.89 L296.00,73.89 L297.00,73.89 L298.00,73.88 L299.00,73.87 L300.00,73.86 L301.00,73.85 L302.00,73.82 L303.00,73.80 L304.00,73.76 L305.00,73.71 L306.00,73.64 L307.00,73.56 L308.00,73.46 L309.00,73.32 L310.00,73.15 L311.00,72.95 L312.00,72.69 L313.00,72.39 L314.00,72.02 L315.00,71.58 L316.00,71.07 L317.00,70.48 L318.00,69.80 L319.00,69.03 L320.00,68.16 L321.00,67.21 L322.00,66.16 L323.00,65.04 L324.00,63.84 L325.00,62.58 L326.00,61.27 L327.00,59.95 L328.00,58.63 L329.00,57.33 L330.00,56.08 L331.00,54.91 L332.00,53.85 L333.00,52.92 L334.00,52.14 L335.00,51.54 L336.00,51.13 L337.00,50.93 L338.00,50.93 L339.00,51.13 L340.00,51.54 L341.00,52.14 L342.00,52.92 L343.00,53.85 L344.00,54.91 L345.00,56.08 L346.00,57.33 L347.00,58.63 L348.00,59.95 L349.00,61.27 L350.00,62.58 L351.00,63.84 L352.00,65.04 L353.00,66.16 L354.00,67.21 L355.00,68.16 L356.00,69.03 L357.00,69.80 L358.00,70.48 L359.00,71.07 L360.00,71.58 L361.00,72.02 L362.00,72.39 L363.00,72.69 L364.00,72.95 L365.00,73.15 L366.00,73.32 L367.00,73.46 L368.00,73.56 L369.00,73.64 L370.00,73.71 L371.00,73.76 L372.00,73.80 L373.00,73.82 L374.00,73.85 L375.00,73.86 L376.00,73.87 L377.00,73.88 L378.00,73.89 L379.00,73.89 L380.00,73.89 L381.00,73.90 L382.00,73.90 L383.00,73.90 L384.00,73.90 L385.00,73.90 L386.00,73.90 L387.00,73.90 L388.00,73.90 L389.00,73.90 L390.00,73.90 L391.00,73.90 L392.00,73.90 L392.40,73.90Z" fill="#5b9a69" fill-opacity="0.3" stroke="none"/>
<path d="M270.00,73.90 L271.00,73.90 L272.00,73.90 L273.00,73.90 L274.00,73.90 L275.00,73.90 L276.00,73.90 L277.00,73.90 L278.00,73.90 L279.00,73.90 L280.00,73.90 L281.00,73.90 L282.00,73.90 L283.00,73.90 L284.00,73.90 L285.00,73.90 L286.00,73.90 L287.00,73.90 L288.00,73.90 L289.00,73.90 L290.00,73.90 L291.00,73.90 L292.00,73.90 L293.00,73.90 L294.00,73.90 L295.00,73.89 L296.00,73.89 L297.00,73.89 L298.00,73.88 L299.00,73.87 L300.00,73.86 L301.00,73.85 L302.00,73.82 L303.00,73.80 L304.00,73.76 L305.00,73.71 L306.00,73.64 L307.00,73.56 L308.00,73.46 L309.00,73.32 L310.00,73.15 L311.00,72.95 L312.00,72.69 L313.00,72.39 L314.00,72.02 L315.00,71.58 L316.00,71.07 L317.00,70.48 L318.00,69.80 L319.00,69.03 L320.00,68.16 L321.00,67.21 L322.00,66.16 L323.00,65.04 L324.00,63.84 L325.00,62.58 L326.00,61.27 L327.00,59.95 L328.00,58.63 L329.00,57.33 L330.00,56.08 L331.00,54.91 L332.00,53.85 L333.00,52.92 L334.00,52.14 L335.00,51.54 L336.00,51.13 L337.00,50.93 L338.00,50.93 L339.00,51.13 L340.00,51.54 L341.00,52.14 L342.00,52.92 L343.00,53.85 L344.00,54.91 L345.00,56.08 L346.00,57.33 L347.00,58.63 L348.00,59.95 L349.00,61.27 L350.00,62.58 L351.00,63.84 L352.00,65.04 L353.00,66.16 L354.00,67.21 L355.00,68.16 L356.00,69.03 L357.00,69.80 L358.00,70.48 L359.00,71.07 L360.00,71.58 L361.00,72.02 L362.00,72.39 L363.00,72.69 L364.00,72.95 L365.00,73.15 L366.00,73.32 L367.00,73.46 L368.00,73.56 L369.00,73.64 L370.00,73.71 L371.00,73.76 L372.00,73.80 L373.00,73.82 L374.00,73.85 L375.00,73.86 L376.00,73.87 L377.00,73.88 L378.00,73.89 L379.00,73.89 L380.00,73.89 L381.00,73.90 L382.00,73.90 L383.00,73.90 L384.00,73.90 L385.00,73.90 L386.00,73.90 L387.00,73.90 L388.00,73.90 L389.00,73.90 L390.00,73.90 L391.00,73.90 L392.00,73.90" fill="none" stroke="#5b9a69" stroke-width="0.5" stroke-opacity="0.8"/>
<path d="M270.00,73.90 L270.00,73.87 L271.00,73.86 L272.00,73.85 L273.00,73.83 L274.00,73.82 L275.00,73.79 L276.00,73.77 L277.00,73.73 L278.00,73.69 L279.00,73.64 L280.00,73.59 L281.00,73.52 L282.00,73.43 L283.00,73.33 L284.00,73.22 L285.00,73.08 L286.00,72.93 L287.00,72.74 L288.00,72.54 L289.00,72.30 L290.00,72.03 L291.00,71.72 L292.00,71.38 L293.00,71.00 L294.00,70.58 L295.00,70.12 L296.00,69.62 L297.00,69.08 L298.00,68.49 L299.00,67.86 L300.00,67.20 L301.00,66.49 L302.00,65.76 L303.00,65.00 L304.00,64.22 L305.00,63.42 L306.00,62.62 L307.00,61.81 L308.00,61.02 L309.00,60.24 L310.00,59.49 L311.00,58.77 L312.00,58.10 L313.00,57.49 L314.00,56.93 L315.00,56.45 L316.00,56.04 L317.00,55.72 L318.00,55.49 L319.00,55.35 L320.00,55.30 L321.00,55.35 L322.00,55.49 L323.00,55.72 L324.00,56.04 L325.00,56.45 L326.00,56.93 L327.00,57.49 L328.00,58.10 L329.00,58.77 L330.00,59.49 L331.00,60.24 L332.00,61.02 L333.00,61.81 L334.00,62.62 L335.00,63.42 L336.00,64.22 L337.00,65.00 L338.00,65.76 L339.00,66.49 L340.00,67.20 L341.00,67.86 L342.00,68.49 L343.00,69.08 L344.00,69.62 L345.00,70.12 L346.00,70.58 L347.00,71.00 L348.00,71.38 L349.00,71.72 L350.00,72.03 L351.00,72.30 L352.00,72.54 L353.00,72.74 L354.00,72.93 L355.00,73.08 L356.00,73.22 L357.00,73.33 L358.00,73.43 L359.00,73.52 L360.00,73.59 L361.00,73.64 L362.00,73.69 L363.00,73.73 L364.00,73.77 L365.00,73.79 L366.00,73.82 L367.00,73.83 L368.00,73.85 L369.00,73.86 L370.00,73.87 L371.00,73.88 L372.00,73.88 L373.00,73.89 L374.00,73.89 L375.00,73.89 L376.00,73.89 L377.00,73.90 L378.00,73.90 L379.00,73.90 L380.00,73.90 L381.00,73.90 L382.00,73.90 L383.00,73.90 L384.00,73.90 L385.00,73.90 L386.00,73.90 L387.00,73.90 L388.00,73.90 L389.00,73.90 L390.00,73.90 L391.00,73.90 L392.00,73.90 L392.40,73.90Z" fill="#dcae6e" fill-opacity="0.3" stroke="none"/>
<path d="M270.00,73.87 L271.00,73.86 L272.00,73.85 L273.00,73.83 L274.00,73.82 L275.00,73.79 L276.00,73.77 L277.00,73.73 L278.00,73.69 L279.00,73.64 L280.00,73.59 L281.00,73.52 L282.00,73.43 L283.00,73.33 L284.00,73.22 L285.00,73.08 L286.00,72.93 L287.00,72.74 L288.00,72.54 L289.00,72.30 L290.00,72.03 L291.00,71.72 L292.00,71.38 L293.00,71.00 L294.00,70.58 L295.00,70.12 L296.00,69.62 L297.00,69.08 L298.00,68.49 L299.00,67.86 L300.00,67.20 L301.00,66.49 L302.00,65.76 L303.00,65.00 L304.00,64.22 L305.00,63.42 L306.00,62.62 L307.00,61.81 L308.00,61.02 L309.00,60.24 L310.00,59.49 L311.00,58.77 L312.00,58.10 L313.00,57.49 L314.00,56.93 L315.00,56.45 L316.00,56.04 L317.00,55.72 L318.00,55.49 L319.00,55.35 L320.00,55.30 L321.00,55.35 L322.00,55.49 L323.00,55.72 L324.00,56.04 L325.00,56.45 L326.00,56.93 L327.00,57.49 L328.00,58.10 L329.00,58.77 L330.00,59.49 L331.00,60.24 L332.00,61.02 L333.00,61.81 L334.00,62.62 L335.00,63.42 L336.00,64.22 L337.00,65.00 L338.00,65.76 L339.00,66.49 L340.00,67.20 L341.00,67.86 L342.00,68.49 L343.00,69.08 L344.00,69.62 L345.00,70.12 L346.00,70.58 L347.00,71.00 L348.00,71.38 L349.00,71.72 L350.00,72.03 L351.00,72.30 L352.00,72.54 L353.00,72.74 L354.00,72.93 L355.00,73.08 L356.00,73.22 L357.00,73.33 L358.00,73.43 L359.00,73.52 L360.00,73.59 L361.00,73.64 L362.00,73.69 L363.00,73.73 L364.00,73.77 L365.00,73.79 L366.00,73.82 L367.00,73.83 L368.00,73.85 L369.00,73.86 L370.00,73.87 L371.00,73.88 L372.00,73.88 L373.00,73.89 L374.00,73.89 L375.00,73.89 L376.00,73.89 L377.00,73.90 L378.00,73.90 L379.00,73.90 L380.00,73.90 L381.00,73.90 L382.00,73.90 L383.00,73.90 L384.00,73.90 L385.00,73.90 L386.00,73.90 L387.00,73.90 L388.00,73.90 L389.00,73.90 L390.00,73.90 L391.00,73.90 L392.00,73.90" fill="none" stroke="#dcae6e" stroke-width="0.5" stroke-opacity="0.8"/>
<path d="M270.00,73.90 L270.00,73.90 L271.00,73.90 L272.00,73.90 L273.00,73.90 L274.00,73.90 L275.00,73.90 L276.00,73.90 L277.00,73.89 L278.00,73.89 L279.00,73.89 L280.00,73.88 L281.00,73.88 L282.00,73.87 L283.00,73.86 L284.00,73.84 L285.00,73.83 L286.00,73.81 L287.00,73.78 L288.00,73.74 L289.00,73.70 L290.00,73.64 L291.00,73.58 L292.00,73.49 L293.00,73.39 L294.00,73.27 L295.00,73.13 L296.00,72.95 L297.00,72.75 L298.00,72.51 L299.00,72.23 L300.00,71.91 L301.00,71.54 L302.00,71.13 L303.00,70.65 L304.00,70.13 L305.00,69.54 L306.00,68.90 L307.00,68.20 L308.00,67.44 L309.00,66.63 L310.00,65.77 L311.00,64.86 L312.00,63.92 L313.00,62.95 L314.00,61.96 L315.00,60.97 L316.00,59.98 L317.00,59.01 L318.00,58.08 L319.00,57.20 L320.00,56.38 L321.00,55.63 L322.00,54.98 L323.00,54.42 L324.00,53.98 L325.00,53.66 L326.00,53.47 L327.00,53.40 L328.00,53.47 L329.00,53.66 L330.00,53.98 L331.00,54.42 L332.00,54.98 L333.00,55.63 L334.00,56.38 L335.00,57.20 L336.00,58.08 L337.00,59.01 L338.00,59.98 L339.00,60.97 L340.00,61.96 L341.00,62.95 L342.00,63.92 L343.00,64.86 L344.00,65.77 L345.00,66.63 L346.00,67.44 L347.00,68.20 L348.00,68.90 L349.00,69.54 L350.00,70.13 L351.00,70.65 L352.00,71.13 L353.00,71.54 L354.00,71.91 L355.00,72.23 L356.00,72.51 L357.00,72.75 L358.00,72.95 L359.00,73.13 L360.00,73.27 L361.00,73.39 L362.00,73.49 L363.00,73.58 L364.00,73.64 L365.00,73.70 L366.00,73.74 L367.00,73.78 L368.00,73.81 L369.00,73.83 L370.00,73.84 L371.00,73.86 L372.00,73.87 L373.00,73.88 L374.00,73.88 L375.00,73.89 L376.00,73.89 L377.00,73.89 L378.00,73.90 L379.00,73.90 L380.00,73.90 L381.00,73.90 L382.00,73.90 L383.00,73.90 L384.00,73.90 L385.00,73.90 L386.00,73.90 L387.00,73.90 L388.00,73.90 L389.00,73.90 L390.00,73.90 L391.00,73.90 L392.00,73.90 L392.40,73.90Z" fill="#2d5a98" fill-opacity="0.3" stroke="none"/>
<path d="M270.00,73.90 L271.00,73.90 L272.00,73.90 L273.00,73.90 L274.00,73.90 L275.00,73.90 L276.00,73.90 L277.00,73.89 L278.00,73.89 L279.00,73.89 L280.00,73.88 L281.00,73.88 L282.00,73.87 L283.00,73.86 L284.00,73.84 L285.00,73.83 L286.00,73.81 L287.00,73.78 L288.00,73.74 L289.00,73.70 L290.00,73.64 L291.00,73.58 L292.00,73.49 L293.00,73.39 L294.00,73.27 L295.00,73.13 L296.00,72.95 L297.00,72.75 L298.00,72.51 L299.00,72.23 L300.00,71.91 L301.00,71.54 L302.00,71.13 L303.00,70.65 L304.00,70.13 L305.00,69.54 L306.00,68.90 L307.00,68.20 L308.00,67.44 L309.00,66.63 L310.00,65.77 L311.00,64.86 L312.00,63.92 L313.00,62.95 L314.00,61.96 L315.00,60.97 L316.00,59.98 L317.00,59.01 L318.00,58.08 L319.00,57.20 L320.00,56.38 L321.00,55.63 L322.00,54.98 L323.00,54.42 L324.00,53.98 L325.00,53.66 L326.00,53.47 L327.00,53.40 L328.00,53.47 L329.00,53.66 L330.00,53.98 L331.00,54.42 L332.00,54.98 L333.00,55.63 L334.00,56.38 L335.00,57.20 L336.00,58.08 L337.00,59.01 L338.00,59.98 L339.00,60.97 L340.00,61.96 L341.00,62.95 L342.00,63.92 L343.00,64.86 L344.00,65.77 L345.00,66.63 L346.00,67.44 L347.00,68.20 L348.00,68.90 L349.00,69.54 L350.00,70.13 L351.00,70.65 L352.00,71.13 L353.00,71.54 L354.00,71.91 L355.00,72.23 L356.00,72.51 L357.00,72.75 L358.00,72.95 L359.00,73.13 L360.00,73.27 L361.00,73.39 L362.00,73.49 L363.00,73.58 L364.00,73.64 L365.00,73.70 L366.00,73.74 L367.00,73.78 L368.00,73.81 L369.00,73.83 L370.00,73.84 L371.00,73.86 L372.00,73.87 L373.00,73.88 L374.00,73.88 L375.00,73.89 L376.00,73.89 L377.00,73.89 L378.00,73.90 L379.00,73.90 L380.00,73.90 L381.00,73.90 L382.00,73.90 L383.00,73.90 L384.00,73.90 L385.00,73.90 L386.00,73.90 L387.00,73.90 L388.00,73.90 L389.00,73.90 L390.00,73.90 L391.00,73.90 L392.00,73.90" fill="none" stroke="#2d5a98" stroke-width="0.5" stroke-opacity="0.8"/>
<path d="M270.00,73.90 L270.00,73.90 L271.00,73.90 L272.00,73.90 L273.00,73.90 L274.00,73.90 L275.00,73.90 L276.00,73.90 L277.00,73.90 L278.00,73.90 L279.00,73.90 L280.00,73.90 L281.00,73.90 L282.00,73.90 L283.00,73.90 L284.00,73.89 L285.00,73.89 L286.00,73.89 L287.00,73.89 L288.00,73.88 L289.00,73.87 L290.00,73.86 L291.00,73.85 L292.00,73.84 L293.00,73.82 L294.00,73.79 L295.00,73.76 L296.00,73.71 L297.00,73.66 L298.00,73.59 L299.00,73.51 L300.00,73.41 L301.00,73.29 L302.00,73.14 L303.00,72.96 L304.00,72.74 L305.00,72.49 L306.00,72.19 L307.00,71.84 L308.00,71.45 L309.00,70.99 L310.00,70.47 L311.00,69.90 L312.00,69.25 L313.00,68.54 L314.00,67.76 L315.00,66.92 L316.00,66.02 L317.00,65.06 L318.00,64.06 L319.00,63.01 L320.00,61.94 L321.00,60.86 L322.00,59.78 L323.00,58.71 L324.00,57.67 L325.00,56.68 L326.00,55.76 L327.00,54.93 L328.00,54.19 L329.00,53.56 L330.00,53.06 L331.00,52.70 L332.00,52.47 L333.00,52.40 L334.00,52.47 L335.00,52.70 L336.00,53.06 L337.00,53.56 L338.00,54.19 L339.00,54.93 L340.00,55.76 L341.00,56.68 L342.00,57.67 L343.00,58.71 L344.00,59.78 L345.00,60.86 L346.00,61.94 L347.00,63.01 L348.00,64.06 L349.00,65.06 L350.00,66.02 L351.00,66.92 L352.00,67.76 L353.00,68.54 L354.00,69.25 L355.00,69.90 L356.00,70.47 L357.00,70.99 L358.00,71.45 L359.00,71.84 L360.00,72.19 L361.00,72.49 L362.00,72.74 L363.00,72.96 L364.00,73.14 L365.00,73.29 L366.00,73.41 L367.00,73.51 L368.00,73.59 L369.00,73.66 L370.00,73.71 L371.00,73.76 L372.00,73.79 L373.00,73.82 L374.00,73.84 L375.00,73.85 L376.00,73.86 L377.00,73.87 L378.00,73.88 L379.00,73.89 L380.00,73.89 L381.00,73.89 L382.00,73.89 L383.00,73.90 L384.00,73.90 L385.00,73.90 L386.00,73.90 L387.00,73.90 L388.00,73.90 L389.00,73.90 L390.00,73.90 L391.00,73.90 L392.00,73.90 L392.40,73.90Z" fill="#b83b46" fill-opacity="0.3" stroke="none"/>
<path d="M270.00,73.90 L271.00,73.90 L272.00,73.90 L273.00,73.90 L274.00,73.90 L275.00,73.90 L276.00,73.90 L277.00,73.90 L278.00,73.90 L279.00,73.90 L280.00,73.90 L281.00,73.90 L282.00,73.90 L283.00,73.90 L284.00,73.89 L285.00,73.89 L286.00,73.89 L287.00,73.89 L288.00,73.88 L289.00,73.87 L290.00,73.86 L291.00,73.85 L292.00,73.84 L293.00,73.82 L294.00,73.79 L295.00,73.76 L296.00,73.71 L297.00,73.66 L298.00,73.59 L299.00,73.51 L300.00,73.41 L301.00,73.29 L302.00,73.14 L303.00,72.96 L304.00,72.74 L305.00,72.49 L306.00,72.19 L307.00,71.84 L308.00,71.45 L309.00,70.99 L310.00,70.47 L311.00,69.90 L312.00,69.25 L313.00,68.54 L314.00,67.76 L315.00,66.92 L316.00,66.02 L317.00,65.06 L318.00,64.06 L319.00,63.01 L320.00,61.94 L321.00,60.86 L322.00,59.78 L323.00,58.71 L324.00,57.67 L325.00,56.68 L326.00,55.76 L327.00,54.93 L328.00,54.19 L329.00,53.56 L330.00,53.06 L331.00,52.70 L332.00,52.47 L333.00,52.40 L334.00,52.47 L335.00,52.70 L336.00,53.06 L337.00,53.56 L338.00,54.19 L339.00,54.93 L340.00,55.76 L341.00,56.68 L342.00,57.67 L343.00,58.71 L344.00,59.78 L345.00,60.86 L346.00,61.94 L347.00,63.01 L348.00,64.06 L349.00,65.06 L350.00,66.02 L351.00,66.92 L352.00,67.76 L353.00,68.54 L354.00,69.25 L355.00,69.90 L356.00,70.47 L357.00,70.99 L358.00,71.45 L359.00,71.84 L360.00,72.19 L361.00,72.49 L362.00,72.74 L363.00,72.96 L364.00,73.14 L365.00,73.29 L366.00,73.41 L367.00,73.51 L368.00,73.59 L369.00,73.66 L370.00,73.71 L371.00,73.76 L372.00,73.79 L373.00,73.82 L374.00,73.84 L375.00,73.85 L376.00,73.86 L377.00,73.87 L378.00,73.88 L379.00,73.89 L380.00,73.89 L381.00,73.89 L382.00,73.89 L383.00,73.90 L384.00,73.90 L385.00,73.90 L386.00,73.90 L387.00,73.90 L388.00,73.90 L389.00,73.90 L390.00,73.90 L391.00,73.90 L392.00,73.90" fill="none" stroke="#b83b46" stroke-width="0.5" stroke-opacity="0.8"/>
<path d="M406.50,89.00 L407.18,89.00 L407.38,90.00 L407.63,91.00 L407.92,92.00 L408.26,93.00 L408.66,94.00 L409.11,95.00 L409.63,96.00 L410.20,97.00 L410.84,98.00 L411.57,99.00 L412.38,100.00 L413.30,101.00 L414.36,102.00 L415.58,103.00 L416.99,104.00 L418.62,105.00 L420.48,106.00 L422.57,107.00 L424.87,108.00 L427.33,109.00 L429.85,110.00 L432.34,111.00 L434.65,112.00 L436.64,113.00 L438.17,114.00 L439.11,115.00 L439.38,116.00 L438.93,117.00 L437.77,118.00 L435.96,119.00 L433.62,120.00 L430.87,121.00 L427.87,122.00 L424.80,123.00 L421.79,124.00 L418.96,125.00 L416.41,126.00 L414.19,127.00 L412.32,128.00 L410.79,129.00 L409.59,130.00 L408.67,131.00 L407.99,132.00 L407.49,133.00 L407.15,134.00 L406.91,135.00 L406.76,136.00 L406.65,137.00 L406.59,138.00 L406.55,139.00 L406.53,140.00 L406.52,141.00 L406.51,142.00 L406.50,143.00 L406.50,144.00 L406.50,145.00 L406.50,146.00 L406.50,147.00 L406.50,148.00 L406.50,149.00 L406.50,150.00 L406.50,151.00 L406.50,152.00 L406.50,153.00 L406.50,154.00 L406.50,155.00 L406.50,156.00 L406.50,157.00 L406.50,158.00 L406.50,159.00 L406.50,160.00 L406.50,161.00 L406.50,162.00 L406.50,163.00 L406.50,164.00 L406.50,164.00Z" fill="#aaa" fill-opacity="0.62" stroke="none"/>
<path d="M407.18,89.00 L407.38,90.00 L407.63,91.00 L407.92,92.00 L408.26,93.00 L408.66,94.00 L409.11,95.00 L409.63,96.00 L410.20,97.00 L410.84,98.00 L411.57,99.00 L412.38,100.00 L413.30,101.00 L414.36,102.00 L415.58,103.00 L416.99,104.00 L418.62,105.00 L420.48,106.00 L422.57,107.00 L424.87,108.00 L427.33,109.00 L429.85,110.00 L432.34,111.00 L434.65,112.00 L436.64,113.00 L438.17,114.00 L439.11,115.00 L439.38,116.00 L438.93,117.00 L437.77,118.00 L435.96,119.00 L433.62,120.00 L430.87,121.00 L427.87,122.00 L424.80,123.00 L421.79,124.00 L418.96,125.00 L416.41,126.00 L414.19,127.00 L412.32,128.00 L410.79,129.00 L409.59,130.00 L408.67,131.00 L407.99,132.00 L407.49,133.00 L407.15,134.00 L406.91,135.00 L406.76,136.00 L406.65,137.00 L406.59,138.00 L406.55,139.00 L406.53,140.00 L406.52,141.00 L406.51,142.00 L406.50,143.00 L406.50,144.00 L406.50,145.00 L406.50,146.00 L406.50,147.00 L406.50,148.00 L406.50,149.00 L406.50,150.00 L406.50,151.00 L406.50,152.00 L406.50,153.00 L406.50,154.00 L406.50,155.00 L406.50,156.00 L406.50,157.00 L406.50,158.00 L406.50,159.00 L406.50,160.00 L406.50,161.00 L406.50,162.00 L406.50,163.00 L406.50,164.00" fill="none" stroke="#7a7a7a" stroke-width="0.5" stroke-opacity="1.0"/>
<path d="M406.50,89.00 L406.50,89.00 L406.50,90.00 L406.50,91.00 L406.50,92.00 L406.50,93.00 L406.50,94.00 L406.50,95.00 L406.50,96.00 L406.50,97.00 L406.50,98.00 L406.50,99.00 L406.50,100.00 L406.50,101.00 L406.50,102.00 L406.50,103.00 L406.50,104.00 L406.50,105.00 L406.50,106.00 L406.51,107.00 L406.51,108.00 L406.52,109.00 L406.54,110.00 L406.57,111.00 L406.61,112.00 L406.67,113.00 L406.76,114.00 L406.89,115.00 L407.07,116.00 L407.31,117.00 L407.64,118.00 L408.06,119.00 L408.60,120.00 L409.27,121.00 L410.09,122.00 L411.08,123.00 L412.25,124.00 L413.62,125.00 L415.18,126.00 L416.93,127.00 L418.87,128.00 L420.98,129.00 L423.21,130.00 L425.51,131.00 L427.82,132.00 L430.04,133.00 L432.09,134.00 L433.86,135.00 L435.27,136.00 L436.21,137.00 L436.64,138.00 L436.51,139.00 L435.82,140.00 L434.60,141.00 L432.91,142.00 L430.84,143.00 L428.49,144.00 L425.98,145.00 L423.40,146.00 L420.88,147.00 L418.49,148.00 L416.29,149.00 L414.34,150.00 L412.65,151.00 L411.22,152.00 L410.06,153.00 L409.12,154.00 L408.40,155.00 L407.84,156.00 L407.43,157.00 L407.13,158.00 L406.92,159.00 L406.78,160.00 L406.68,161.00 L406.61,162.00 L406.57,163.00 L406.54,164.00 L406.50,164.00Z" fill="#bbb" fill-opacity="0.42" stroke="none"/>
<path d="M406.50,89.00 L406.50,90.00 L406.50,91.00 L406.50,92.00 L406.50,93.00 L406.50,94.00 L406.50,95.00 L406.50,96.00 L406.50,97.00 L406.50,98.00 L406.50,99.00 L406.50,100.00 L406.50,101.00 L406.50,102.00 L406.50,103.00 L406.50,104.00 L406.50,105.00 L406.50,106.00 L406.51,107.00 L406.51,108.00 L406.52,109.00 L406.54,110.00 L406.57,111.00 L406.61,112.00 L406.67,113.00 L406.76,114.00 L406.89,115.00 L407.07,116.00 L407.31,117.00 L407.64,118.00 L408.06,119.00 L408.60,120.00 L409.27,121.00 L410.09,122.00 L411.08,123.00 L412.25,124.00 L413.62,125.00 L415.18,126.00 L416.93,127.00 L418.87,128.00 L420.98,129.00 L423.21,130.00 L425.51,131.00 L427.82,132.00 L430.04,133.00 L432.09,134.00 L433.86,135.00 L435.27,136.00 L436.21,137.00 L436.64,138.00 L436.51,139.00 L435.82,140.00 L434.60,141.00 L432.91,142.00 L430.84,143.00 L428.49,144.00 L425.98,145.00 L423.40,146.00 L420.88,147.00 L418.49,148.00 L416.29,149.00 L414.34,150.00 L412.65,151.00 L411.22,152.00 L410.06,153.00 L409.12,154.00 L408.40,155.00 L407.84,156.00 L407.43,157.00 L407.13,158.00 L406.92,159.00 L406.78,160.00 L406.68,161.00 L406.61,162.00 L406.57,163.00 L406.54,164.00" fill="none" stroke="#8a8a8a" stroke-width="0.5" stroke-opacity="1.0"/>
<path d="M445.50,83.00 L445.53,83.00 L445.55,84.00 L445.57,85.00 L445.61,86.00 L445.66,87.00 L445.73,88.00 L445.83,89.00 L445.96,90.00 L446.14,91.00 L446.38,92.00 L446.68,93.00 L447.07,94.00 L447.56,95.00 L448.16,96.00 L448.88,97.00 L449.75,98.00 L450.77,99.00 L451.94,100.00 L453.26,101.00 L454.73,102.00 L456.32,103.00 L458.01,104.00 L459.77,105.00 L461.55,106.00 L463.31,107.00 L464.99,108.00 L466.53,109.00 L467.88,110.00 L468.99,111.00 L469.82,112.00 L470.33,113.00 L470.50,114.00 L470.33,115.00 L469.82,116.00 L468.99,117.00 L467.88,118.00 L466.53,119.00 L464.99,120.00 L463.31,121.00 L461.55,122.00 L459.77,123.00 L458.01,124.00 L456.32,125.00 L454.73,126.00 L453.26,127.00 L451.94,128.00 L450.77,129.00 L449.75,130.00 L448.88,131.00 L448.16,132.00 L447.56,133.00 L447.07,134.00 L446.68,135.00 L446.38,136.00 L446.14,137.00 L445.96,138.00 L445.83,139.00 L445.73,140.00 L445.66,141.00 L445.61,142.00 L445.57,143.00 L445.55,144.00 L445.53,145.00 L445.52,146.00 L445.51,147.00 L445.51,148.00 L445.51,149.00 L445.50,150.00 L445.50,151.00 L445.50,152.00 L445.50,153.00 L445.50,154.00 L445.50,155.00 L445.50,156.00 L445.50,157.00 L445.50,158.00 L445.50,159.00 L445.50,160.00 L445.50,161.00 L445.50,162.00 L445.50,163.00 L445.50,164.00 L445.50,165.00 L445.50,166.00 L445.50,167.00 L445.50,168.00 L445.50,169.00 L445.50,169.00Z" fill="#5b9a69" fill-opacity="0.3" stroke="none"/>
<path d="M445.53,83.00 L445.55,84.00 L445.57,85.00 L445.61,86.00 L445.66,87.00 L445.73,88.00 L445.83,89.00 L445.96,90.00 L446.14,91.00 L446.38,92.00 L446.68,93.00 L447.07,94.00 L447.56,95.00 L448.16,96.00 L448.88,97.00 L449.75,98.00 L450.77,99.00 L451.94,100.00 L453.26,101.00 L454.73,102.00 L456.32,103.00 L458.01,104.00 L459.77,105.00 L461.55,106.00 L463.31,107.00 L464.99,108.00 L466.53,109.00 L467.88,110.00 L468.99,111.00 L469.82,112.00 L470.33,113.00 L470.50,114.00 L470.33,115.00 L469.82,116.00 L468.99,117.00 L467.88,118.00 L466.53,119.00 L464.99,120.00 L463.31,121.00 L461.55,122.00 L459.77,123.00 L458.01,124.00 L456.32,125.00 L454.73,126.00 L453.26,127.00 L451.94,128.00 L450.77,129.00 L449.75,130.00 L448.88,131.00 L448.16,132.00 L447.56,133.00 L447.07,134.00 L446.68,135.00 L446.38,136.00 L446.14,137.00 L445.96,138.00 L445.83,139.00 L445.73,140.00 L445.66,141.00 L445.61,142.00 L445.57,143.00 L445.55,144.00 L445.53,145.00 L445.52,146.00 L445.51,147.00 L445.51,148.00 L445.51,149.00 L445.50,150.00 L445.50,151.00 L445.50,152.00 L445.50,153.00 L445.50,154.00 L445.50,155.00 L445.50,156.00 L445.50,157.00 L445.50,158.00 L445.50,159.00 L445.50,160.00 L445.50,161.00 L445.50,162.00 L445.50,163.00 L445.50,164.00 L445.50,165.00 L445.50,166.00 L445.50,167.00 L445.50,168.00 L445.50,169.00" fill="none" stroke="#5b9a69" stroke-width="0.5" stroke-opacity="0.8"/>
<path d="M445.50,83.00 L445.50,83.00 L445.50,84.00 L445.50,85.00 L445.50,86.00 L445.50,87.00 L445.50,88.00 L445.50,89.00 L445.51,90.00 L445.52,91.00 L445.53,92.00 L445.55,93.00 L445.58,94.00 L445.64,95.00 L445.73,96.00 L445.87,97.00 L446.07,98.00 L446.38,99.00 L446.82,100.00 L447.42,101.00 L448.24,102.00 L449.32,103.00 L450.69,104.00 L452.40,105.00 L454.45,106.00 L456.84,107.00 L459.53,108.00 L462.46,109.00 L465.52,110.00 L468.57,111.00 L471.47,112.00 L474.05,113.00 L476.15,114.00 L477.63,115.00 L478.40,116.00 L478.40,117.00 L477.63,118.00 L476.15,119.00 L474.05,120.00 L471.47,121.00 L468.57,122.00 L465.52,123.00 L462.46,124.00 L459.53,125.00 L456.84,126.00 L454.45,127.00 L452.40,128.00 L450.69,129.00 L449.32,130.00 L448.24,131.00 L447.42,132.00 L446.82,133.00 L446.38,134.00 L446.07,135.00 L445.87,136.00 L445.73,137.00 L445.64,138.00 L445.58,139.00 L445.55,140.00 L445.53,141.00 L445.52,142.00 L445.51,143.00 L445.50,144.00 L445.50,145.00 L445.50,146.00 L445.50,147.00 L445.50,148.00 L445.50,149.00 L445.50,150.00 L445.50,151.00 L445.50,152.00 L445.50,153.00 L445.50,154.00 L445.50,155.00 L445.50,156.00 L445.50,157.00 L445.50,158.00 L445.50,159.00 L445.50,160.00 L445.50,161.00 L445.50,162.00 L445.50,163.00 L445.50,164.00 L445.50,165.00 L445.50,166.00 L445.50,167.00 L445.50,168.00 L445.50,169.00 L445.50,169.00Z" fill="#dcae6e" fill-opacity="0.3" stroke="none"/>
<path d="M445.50,83.00 L445.50,84.00 L445.50,85.00 L445.50,86.00 L445.50,87.00 L445.50,88.00 L445.50,89.00 L445.51,90.00 L445.52,91.00 L445.53,92.00 L445.55,93.00 L445.58,94.00 L445.64,95.00 L445.73,96.00 L445.87,97.00 L446.07,98.00 L446.38,99.00 L446.82,100.00 L447.42,101.00 L448.24,102.00 L449.32,103.00 L450.69,104.00 L452.40,105.00 L454.45,106.00 L456.84,107.00 L459.53,108.00 L462.46,109.00 L465.52,110.00 L468.57,111.00 L471.47,112.00 L474.05,113.00 L476.15,114.00 L477.63,115.00 L478.40,116.00 L478.40,117.00 L477.63,118.00 L476.15,119.00 L474.05,120.00 L471.47,121.00 L468.57,122.00 L465.52,123.00 L462.46,124.00 L459.53,125.00 L456.84,126.00 L454.45,127.00 L452.40,128.00 L450.69,129.00 L449.32,130.00 L448.24,131.00 L447.42,132.00 L446.82,133.00 L446.38,134.00 L446.07,135.00 L445.87,136.00 L445.73,137.00 L445.64,138.00 L445.58,139.00 L445.55,140.00 L445.53,141.00 L445.52,142.00 L445.51,143.00 L445.50,144.00 L445.50,145.00 L445.50,146.00 L445.50,147.00 L445.50,148.00 L445.50,149.00 L445.50,150.00 L445.50,151.00 L445.50,152.00 L445.50,153.00 L445.50,154.00 L445.50,155.00 L445.50,156.00 L445.50,157.00 L445.50,158.00 L445.50,159.00 L445.50,160.00 L445.50,161.00 L445.50,162.00 L445.50,163.00 L445.50,164.00 L445.50,165.00 L445.50,166.00 L445.50,167.00 L445.50,168.00 L445.50,169.00" fill="none" stroke="#dcae6e" stroke-width="0.5" stroke-opacity="0.8"/>
<path d="M445.50,83.00 L445.50,83.00 L445.50,84.00 L445.50,85.00 L445.50,86.00 L445.50,87.00 L445.50,88.00 L445.50,89.00 L445.50,90.00 L445.50,91.00 L445.50,92.00 L445.50,93.00 L445.50,94.00 L445.51,95.00 L445.52,96.00 L445.53,97.00 L445.55,98.00 L445.59,99.00 L445.66,100.00 L445.75,101.00 L445.90,102.00 L446.12,103.00 L446.42,104.00 L446.84,105.00 L447.40,106.00 L448.12,107.00 L449.01,108.00 L450.07,109.00 L451.29,110.00 L452.65,111.00 L454.09,112.00 L455.54,113.00 L456.94,114.00 L458.19,115.00 L459.24,116.00 L460.02,117.00 L460.51,118.00 L460.71,119.00 L460.66,120.00 L460.42,121.00 L460.09,122.00 L459.77,123.00 L459.56,124.00 L459.54,125.00 L459.79,126.00 L460.33,127.00 L461.17,128.00 L462.27,129.00 L463.58,130.00 L465.01,131.00 L466.47,132.00 L467.85,133.00 L469.04,134.00 L469.97,135.00 L470.55,136.00 L470.75,137.00 L470.54,138.00 L469.93,139.00 L468.94,140.00 L467.63,141.00 L466.06,142.00 L464.31,143.00 L462.45,144.00 L460.57,145.00 L458.73,146.00 L456.99,147.00 L455.39,148.00 L453.96,149.00 L452.71,150.00 L451.64,151.00 L450.75,152.00 L450.01,153.00 L449.40,154.00 L448.90,155.00 L448.49,156.00 L448.15,157.00 L447.86,158.00 L447.60,159.00 L447.37,160.00 L447.16,161.00 L446.96,162.00 L446.77,163.00 L446.60,164.00 L446.44,165.00 L446.29,166.00 L446.16,167.00 L446.04,168.00 L445.94,169.00 L445.50,169.00Z" fill="#b83b46" fill-opacity="0.3" stroke="none"/>
<path d="M445.50,83.00 L445.50,84.00 L445.50,85.00 L445.50,86.00 L445.50,87.00 L445.50,88.00 L445.50,89.00 L445.50,90.00 L445.50,91.00 L445.50,92.00 L445.50,93.00 L445.50,94.00 L445.51,95.00 L445.52,96.00 L445.53,97.00 L445.55,98.00 L445.59,99.00 L445.66,100.00 L445.75,101.00 L445.90,102.00 L446.12,103.00 L446.42,104.00 L446.84,105.00 L447.40,106.00 L448.12,107.00 L449.01,108.00 L450.07,109.00 L451.29,110.00 L452.65,111.00 L454.09,112.00 L455.54,113.00 L456.94,114.00 L458.19,115.00 L459.24,116.00 L460.02,117.00 L460.51,118.00 L460.71,119.00 L460.66,120.00 L460.42,121.00 L460.09,122.00 L459.77,123.00 L459.56,124.00 L459.54,125.00 L459.79,126.00 L460.33,127.00 L461.17,128.00 L462.27,129.00 L463.58,130.00 L465.01,131.00 L466.47,132.00 L467.85,133.00 L469.04,134.00 L469.97,135.00 L470.55,136.00 L470.75,137.00 L470.54,138.00 L469.93,139.00 L468.94,140.00 L467.63,141.00 L466.06,142.00 L464.31,143.00 L462.45,144.00 L460.57,145.00 L458.73,146.00 L456.99,147.00 L455.39,148.00 L453.96,149.00 L452.71,150.00 L451.64,151.00 L450.75,152.00 L450.01,153.00 L449.40,154.00 L448.90,155.00 L448.49,156.00 L448.15,157.00 L447.86,158.00 L447.60,159.00 L447.37,160.00 L447.16,161.00 L446.96,162.00 L446.77,163.00 L446.60,164.00 L446.44,165.00 L446.29,166.00 L446.16,167.00 L446.04,168.00 L445.94,169.00" fill="none" stroke="#b83b46" stroke-width="0.5" stroke-opacity="0.8"/>
<path d="M445.50,83.00 L445.53,83.00 L445.54,84.00 L445.56,85.00 L445.57,86.00 L445.59,87.00 L445.61,88.00 L445.64,89.00 L445.68,90.00 L445.72,91.00 L445.76,92.00 L445.82,93.00 L445.88,94.00 L445.96,95.00 L446.04,96.00 L446.14,97.00 L446.25,98.00 L446.37,99.00 L446.50,100.00 L446.64,101.00 L446.80,102.00 L446.97,103.00 L447.14,104.00 L447.33,105.00 L447.53,106.00 L447.72,107.00 L447.93,108.00 L448.13,109.00 L448.33,110.00 L448.52,111.00 L448.71,112.00 L448.88,113.00 L449.04,114.00 L449.19,115.00 L449.33,116.00 L449.46,117.00 L449.58,118.00 L449.71,119.00 L449.86,120.00 L450.05,121.00 L450.31,122.00 L450.66,123.00 L451.16,124.00 L451.83,125.00 L452.73,126.00 L453.90,127.00 L455.36,128.00 L457.14,129.00 L459.22,130.00 L461.58,131.00 L464.14,132.00 L466.82,133.00 L469.48,134.00 L471.98,135.00 L474.18,136.00 L475.92,137.00 L477.09,138.00 L477.58,139.00 L477.37,140.00 L476.44,141.00 L474.86,142.00 L472.73,143.00 L470.17,144.00 L467.35,145.00 L464.40,146.00 L461.47,147.00 L458.68,148.00 L456.13,149.00 L453.88,150.00 L451.95,151.00 L450.35,152.00 L449.06,153.00 L448.06,154.00 L447.30,155.00 L446.73,156.00 L446.33,157.00 L446.04,158.00 L445.85,159.00 L445.72,160.00 L445.64,161.00 L445.58,162.00 L445.55,163.00 L445.53,164.00 L445.52,165.00 L445.51,166.00 L445.51,167.00 L445.50,168.00 L445.50,169.00 L445.50,169.00Z" fill="#2d5a98" fill-opacity="0.3" stroke="none"/>
<path d="M445.53,83.00 L445.54,84.00 L445.56,85.00 L445.57,86.00 L445.59,87.00 L445.61,88.00 L445.64,89.00 L445.68,90.00 L445.72,91.00 L445.76,92.00 L445.82,93.00 L445.88,94.00 L445.96,95.00 L446.04,96.00 L446.14,97.00 L446.25,98.00 L446.37,99.00 L446.50,100.00 L446.64,101.00 L446.80,102.00 L446.97,103.00 L447.14,104.00 L447.33,105.00 L447.53,106.00 L447.72,107.00 L447.93,108.00 L448.13,109.00 L448.33,110.00 L448.52,111.00 L448.71,112.00 L448.88,113.00 L449.04,114.00 L449.19,115.00 L449.33,116.00 L449.46,117.00 L449.58,118.00 L449.71,119.00 L449.86,120.00 L450.05,121.00 L450.31,122.00 L450.66,123.00 L451.16,124.00 L451.83,125.00 L452.73,126.00 L453.90,127.00 L455.36,128.00 L457.14,129.00 L459.22,130.00 L461.58,131.00 L464.14,132.00 L466.82,133.00 L469.48,134.00 L471.98,135.00 L474.18,136.00 L475.92,137.00 L477.09,138.00 L477.58,139.00 L477.37,140.00 L476.44,141.00 L474.86,142.00 L472.73,143.00 L470.17,144.00 L467.35,145.00 L464.40,146.00 L461.47,147.00 L458.68,148.00 L456.13,149.00 L453.88,150.00 L451.95,151.00 L450.35,152.00 L449.06,153.00 L448.06,154.00 L447.30,155.00 L446.73,156.00 L446.33,157.00 L446.04,158.00 L445.85,159.00 L445.72,160.00 L445.64,161.00 L445.58,162.00 L445.55,163.00 L445.53,164.00 L445.52,165.00 L445.51,166.00 L445.51,167.00 L445.50,168.00 L445.50,169.00" fill="none" stroke="#2d5a98" stroke-width="0.5" stroke-opacity="0.8"/>
<rect x="395.4" y="13.9" width="9.20" height="31.40" fill="#fff" stroke="#555" stroke-width="0.6"/>
<text transform="translate(397.40,29.60) rotate(90)" font-size="7.7" text-anchor="middle" fill="#222" stroke="#222" stroke-width="0.2">Direction</text>
<rect x="395.4" y="47.1" width="9.20" height="32.20" fill="#fff" stroke="#555" stroke-width="0.6"/>
<text transform="translate(397.40,63.20) rotate(90)" font-size="7.7" text-anchor="middle" fill="#222" stroke="#222" stroke-width="0.2">Stimulus</text>
<rect x="407.9" y="166.5" width="31.70" height="9.50" fill="#fff" stroke="#555" stroke-width="0.6"/>
<text x="423.75" y="174.05" font-size="7.7" text-anchor="middle" fill="#222"  stroke="#222" stroke-width="0.2">Direction</text>
<rect x="447.5" y="166.5" width="30.50" height="9.50" fill="#fff" stroke="#555" stroke-width="0.6"/>
<text x="462.75" y="174.05" font-size="7.7" text-anchor="middle" fill="#222"  stroke="#222" stroke-width="0.2">Stimulus</text>
<rect x="416.3" y="21.6" width="27.1" height="50.9" fill="#fff" stroke="#666" stroke-width="0.6"/>
<text x="418.20" y="26.50" font-size="6.1" text-anchor="start" fill="#222" textLength="23.6" lengthAdjust="spacingAndGlyphs"  stroke="#222" stroke-width="0.2">Stimulus</text>
<circle cx="420.80" cy="30.20" r="1.8" fill="#2d5a98" />
<text x="424.20" y="32.30" font-size="6.1" text-anchor="start" fill="#222" textLength="16.2" lengthAdjust="spacingAndGlyphs"  stroke="#222" stroke-width="0.2">Sti-A1</text>
<circle cx="420.80" cy="36.25" r="1.8" fill="#dcae6e" />
<text x="424.20" y="38.35" font-size="6.1" text-anchor="start" fill="#222" textLength="16.2" lengthAdjust="spacingAndGlyphs"  stroke="#222" stroke-width="0.2">Sti-A2</text>
<circle cx="420.80" cy="42.30" r="1.8" fill="#b83b46" />
<text x="424.20" y="44.40" font-size="6.1" text-anchor="start" fill="#222" textLength="16.2" lengthAdjust="spacingAndGlyphs"  stroke="#222" stroke-width="0.2">Sti-B1</text>
<circle cx="420.80" cy="48.35" r="1.8" fill="#5b9a69" />
<text x="424.20" y="50.45" font-size="6.1" text-anchor="start" fill="#222" textLength="16.2" lengthAdjust="spacingAndGlyphs"  stroke="#222" stroke-width="0.2">Sti-B2</text>
<text x="418.20" y="58.90" font-size="6.1" text-anchor="start" fill="#222" textLength="23.8" lengthAdjust="spacingAndGlyphs"  stroke="#222" stroke-width="0.2">Direction</text>
<circle cx="420.80" cy="62.90" r="1.7" fill="#222" />
<text x="424.00" y="64.80" font-size="6.1" text-anchor="start" fill="#222"  stroke="#222" stroke-width="0.2">Up</text>
<rect x="419.1" y="66.6" width="3.4" height="3.4" fill="#333"/>
<text x="424.00" y="70.10" font-size="6.1" text-anchor="start" fill="#222"  stroke="#222" stroke-width="0.2">Down</text>
<text x="450.30" y="11.90" font-size="16" text-anchor="start" fill="#231f20" >c</text>
<rect x="467.2" y="16.2" width="97.1" height="19.7" fill="#c7dcec"/>
<text x="470.40" y="29.80" font-size="8.7" text-anchor="start" fill="#222" textLength="86.9" lengthAdjust="spacingAndGlyphs"  stroke="#222" stroke-width="0.2">Decision subspace set</text>
<rect x="588.2" y="16.2" width="97" height="19.6" fill="#f1d9d0"/>
<text x="593.00" y="29.80" font-size="8.7" text-anchor="start" fill="#222"  stroke="#222" stroke-width="0.2">Stimulus subspace set</text>
<ellipse cx="0" cy="0" rx="46" ry="29" transform="translate(522,146) rotate(32)" fill="#e7e7e7" fill-opacity="1"/>
<ellipse cx="0" cy="0" rx="49.8" ry="25.4" transform="translate(640,123.5) rotate(-61.8)" fill="#e7e7e7" fill-opacity="1"/>
<polyline points="521.60,145.50 591.00,193.10 639.00,124.50" stroke="#9a9a9a" stroke-width="1.25" fill="none" />
<polyline points="584.98,188.97 589.17,182.99 595.19,187.12" stroke="#9a9a9a" stroke-width="1.25" fill="none" />
<ellipse cx="0" cy="0" rx="47" ry="26" transform="translate(533.5,133.5) rotate(51.7)" fill="rgb(59,136,191)" fill-opacity="0.75"/>
<ellipse cx="0" cy="0" rx="51.7" ry="22.6" transform="translate(631.6,120.6) rotate(-63.6)" fill="rgb(200,115,84)" fill-opacity="0.58"/>
<line x1="576.50" y1="47.50" x2="527.70" y2="112.50" stroke="#a8472a" stroke-width="1.7" stroke-dasharray="4 3"/>
<line x1="576.50" y1="47.50" x2="636.20" y2="103.90" stroke="#a8472a" stroke-width="1.7" stroke-dasharray="4 3"/>
<path d="M574,49.5 L576.5,46.5 L579,49.5" stroke="#a8472a" stroke-width="1.7" fill="none"/>
<path d="M559.5,68.5 Q580,71.5 600.5,68.5" stroke="#a8472a" stroke-width="1.5" fill="none" stroke-dasharray="5 6"/>
<line x1="575.40" y1="56.50" x2="564.00" y2="156.60" stroke="#5a9a68" stroke-width="1.7" stroke-dasharray="4 3"/>
<line x1="580.60" y1="56.50" x2="614.00" y2="151.10" stroke="#5a9a68" stroke-width="1.7" stroke-dasharray="4 3"/>
<path d="M575.4,60.5 L575.4,55.8 L580.6,55.8 L581,60" stroke="#5a9a68" stroke-width="1.6" fill="none"/>
<circle cx="527.70" cy="112.50" r="2.8" fill="#b3461f" />
<circle cx="636.20" cy="103.90" r="2.8" fill="#b3461f" />
<circle cx="564.00" cy="156.60" r="2.8" fill="#5a9a68" />
<circle cx="614.00" cy="151.10" r="2.8" fill="#5a9a68" />
<text x="537.00" y="65.50" font-size="9.2" text-anchor="start" fill="#a8472a" textLength="21.9" lengthAdjust="spacingAndGlyphs"  stroke="#a8472a" stroke-width="0.2">81.4°</text>
<text x="593.70" y="58.60" font-size="9.2" text-anchor="start" fill="#5a9a68" textLength="14.4" lengthAdjust="spacingAndGlyphs"  stroke="#5a9a68" stroke-width="0.2">25°</text>
<text x="7.20" y="196.90" font-size="16" text-anchor="start" fill="#231f20" >d</text>
<rect x="6.9" y="206.6" width="334.8" height="322.3" fill="none" stroke="#ab4d2b" stroke-width="1.45"/>
<rect x="349" y="206.6" width="334.5" height="322.3" fill="none" stroke="#5a9262" stroke-width="1.45"/>
<text x="21.60" y="223.20" font-size="9.3" text-anchor="start" fill="#a8472a" textLength="22.0" lengthAdjust="spacingAndGlyphs"  stroke="#a8472a" stroke-width="0.2">81.4°</text>
<line x1="15.60" y1="229.80" x2="19.90" y2="229.80" stroke="#a8472a" stroke-width="1.4" />
<line x1="25.10" y1="229.80" x2="30.70" y2="229.80" stroke="#a8472a" stroke-width="1.4" />
<line x1="36.00" y1="229.80" x2="41.30" y2="229.80" stroke="#a8472a" stroke-width="1.4" />
<circle cx="15.60" cy="229.80" r="2.8" fill="#ab4522" />
<circle cx="48.70" cy="229.80" r="2.8" fill="#ab4522" />
<text x="364.80" y="222.80" font-size="9.3" text-anchor="start" fill="#5a9a68" textLength="14.3" lengthAdjust="spacingAndGlyphs"  stroke="#5a9a68" stroke-width="0.2">25°</text>
<line x1="356.20" y1="229.70" x2="362.80" y2="229.70" stroke="#5a9a68" stroke-width="1.4" />
<line x1="368.40" y1="229.70" x2="373.70" y2="229.70" stroke="#5a9a68" stroke-width="1.4" />
<line x1="379.20" y1="229.70" x2="384.50" y2="229.70" stroke="#5a9a68" stroke-width="1.4" />
<circle cx="356.20" cy="229.70" r="2.8" fill="#508e5c" />
<circle cx="390.90" cy="229.70" r="2.8" fill="#508e5c" />
<text x="316.20" y="220.10" font-size="8.0" text-anchor="middle" fill="#222"  stroke="#222" stroke-width="0.2">Stimulus</text>
<line x1="306.40" y1="224.20" x2="325.30" y2="224.20" stroke="#2f5a99" stroke-width="1.3" />
<line x1="306.40" y1="228.50" x2="325.30" y2="228.50" stroke="#d8a868" stroke-width="1.3" />
<line x1="306.40" y1="232.80" x2="325.30" y2="232.80" stroke="#bd4651" stroke-width="1.3" />
<line x1="306.40" y1="237.20" x2="325.30" y2="237.20" stroke="#5c9b69" stroke-width="1.3" />
<text x="316.20" y="249.40" font-size="8.0" text-anchor="middle" fill="#222"  stroke="#222" stroke-width="0.2">Decision</text>
<line x1="306.40" y1="253.80" x2="325.30" y2="253.80" stroke="#555" stroke-width="1.3" />
<line x1="306.40" y1="259.00" x2="325.30" y2="259.00" stroke="#555" stroke-width="1.4" stroke-dasharray="2.6 2.8"/>
<text x="661.40" y="220.10" font-size="8.0" text-anchor="middle" fill="#222"  stroke="#222" stroke-width="0.2">Stimulus</text>
<line x1="651.00" y1="224.20" x2="670.80" y2="224.20" stroke="#2f5a99" stroke-width="1.3" />
<line x1="651.00" y1="228.50" x2="670.80" y2="228.50" stroke="#d8a868" stroke-width="1.3" />
<line x1="651.00" y1="232.80" x2="670.80" y2="232.80" stroke="#bd4651" stroke-width="1.3" />
<line x1="651.00" y1="237.20" x2="670.80" y2="237.20" stroke="#5c9b69" stroke-width="1.3" />
<text x="661.40" y="249.40" font-size="8.0" text-anchor="middle" fill="#222"  stroke="#222" stroke-width="0.2">Decision</text>
<line x1="651.00" y1="253.80" x2="670.80" y2="253.80" stroke="#555" stroke-width="1.3" />
<line x1="651.00" y1="259.00" x2="670.80" y2="259.00" stroke="#555" stroke-width="1.4" stroke-dasharray="2.6 2.8"/>
<line x1="106.40" y1="336.59" x2="106.40" y2="233.06" stroke="#c9c9c9" stroke-width="0.6" />
<line x1="106.40" y1="336.59" x2="230.69" y2="357.26" stroke="#c9c9c9" stroke-width="0.6" />
<line x1="124.90" y1="328.76" x2="124.90" y2="226.94" stroke="#c9c9c9" stroke-width="0.6" />
<line x1="124.90" y1="328.76" x2="247.24" y2="347.56" stroke="#c9c9c9" stroke-width="0.6" />
<line x1="143.20" y1="321.03" x2="143.20" y2="220.89" stroke="#c9c9c9" stroke-width="0.6" />
<line x1="143.20" y1="321.03" x2="263.47" y2="338.06" stroke="#c9c9c9" stroke-width="0.6" />
<line x1="190.70" y1="317.37" x2="190.70" y2="218.63" stroke="#c9c9c9" stroke-width="0.6" />
<line x1="190.70" y1="317.37" x2="117.78" y2="350.65" stroke="#c9c9c9" stroke-width="0.6" />
<line x1="218.50" y1="321.00" x2="218.50" y2="222.04" stroke="#c9c9c9" stroke-width="0.6" />
<line x1="218.50" y1="321.00" x2="147.34" y2="355.99" stroke="#c9c9c9" stroke-width="0.6" />
<line x1="247.70" y1="324.81" x2="247.70" y2="225.61" stroke="#c9c9c9" stroke-width="0.6" />
<line x1="247.70" y1="324.81" x2="178.67" y2="361.65" stroke="#c9c9c9" stroke-width="0.6" />
<polyline points="84.67,262.00 161.00,235.34 279.42,250.03" stroke="#c9c9c9" stroke-width="0.6" fill="none" />
<polyline points="85.15,283.40 161.00,255.49 279.34,270.36" stroke="#c9c9c9" stroke-width="0.6" fill="none" />
<polyline points="85.58,303.20 161.00,274.14 279.26,289.18" stroke="#c9c9c9" stroke-width="0.6" fill="none" />
<polyline points="86.02,323.00 161.00,292.78 279.18,307.99" stroke="#c9c9c9" stroke-width="0.6" fill="none" />
<line x1="431.50" y1="335.22" x2="431.50" y2="233.15" stroke="#c9c9c9" stroke-width="0.6" />
<line x1="431.50" y1="335.22" x2="555.31" y2="358.85" stroke="#c9c9c9" stroke-width="0.6" />
<line x1="456.40" y1="321.82" x2="456.40" y2="225.39" stroke="#c9c9c9" stroke-width="0.6" />
<line x1="456.40" y1="321.82" x2="577.69" y2="345.90" stroke="#c9c9c9" stroke-width="0.6" />
<line x1="480.00" y1="309.12" x2="480.00" y2="218.03" stroke="#c9c9c9" stroke-width="0.6" />
<line x1="480.00" y1="309.12" x2="598.93" y2="333.61" stroke="#c9c9c9" stroke-width="0.6" />
<line x1="519.20" y1="308.15" x2="519.20" y2="217.03" stroke="#c9c9c9" stroke-width="0.6" />
<line x1="519.20" y1="308.15" x2="447.53" y2="347.35" stroke="#c9c9c9" stroke-width="0.6" />
<line x1="543.70" y1="313.29" x2="543.70" y2="219.60" stroke="#c9c9c9" stroke-width="0.6" />
<line x1="543.70" y1="313.29" x2="473.58" y2="352.23" stroke="#c9c9c9" stroke-width="0.6" />
<line x1="569.40" y1="318.68" x2="569.40" y2="222.30" stroke="#c9c9c9" stroke-width="0.6" />
<line x1="569.40" y1="318.68" x2="500.89" y2="357.34" stroke="#c9c9c9" stroke-width="0.6" />
<line x1="595.80" y1="324.22" x2="595.80" y2="225.08" stroke="#c9c9c9" stroke-width="0.6" />
<line x1="595.80" y1="324.22" x2="528.93" y2="362.58" stroke="#c9c9c9" stroke-width="0.6" />
<polyline points="417.31,269.80 492.30,241.32 610.21,257.49" stroke="#c9c9c9" stroke-width="0.6" fill="none" />
<polyline points="417.93,298.20 492.30,265.38 610.13,284.91" stroke="#c9c9c9" stroke-width="0.6" fill="none" />
<polyline points="418.54,325.50 492.30,288.52 610.05,311.27" stroke="#c9c9c9" stroke-width="0.6" fill="none" />
<line x1="42.60" y1="480.07" x2="42.60" y2="407.41" stroke="#c9c9c9" stroke-width="0.6" />
<line x1="42.60" y1="480.07" x2="128.95" y2="494.80" stroke="#c9c9c9" stroke-width="0.6" />
<line x1="55.50" y1="474.48" x2="55.50" y2="403.19" stroke="#c9c9c9" stroke-width="0.6" />
<line x1="55.50" y1="474.48" x2="140.62" y2="488.00" stroke="#c9c9c9" stroke-width="0.6" />
<line x1="68.60" y1="468.80" x2="68.60" y2="398.89" stroke="#c9c9c9" stroke-width="0.6" />
<line x1="68.60" y1="468.80" x2="152.37" y2="481.15" stroke="#c9c9c9" stroke-width="0.6" />
<line x1="102.80" y1="465.83" x2="102.80" y2="397.05" stroke="#c9c9c9" stroke-width="0.6" />
<line x1="102.80" y1="465.83" x2="51.45" y2="489.70" stroke="#c9c9c9" stroke-width="0.6" />
<line x1="121.80" y1="468.42" x2="121.80" y2="399.37" stroke="#c9c9c9" stroke-width="0.6" />
<line x1="121.80" y1="468.42" x2="71.57" y2="493.37" stroke="#c9c9c9" stroke-width="0.6" />
<line x1="142.00" y1="471.17" x2="142.00" y2="401.85" stroke="#c9c9c9" stroke-width="0.6" />
<line x1="142.00" y1="471.17" x2="93.12" y2="497.31" stroke="#c9c9c9" stroke-width="0.6" />
<polyline points="28.62,430.30 82.00,411.44 164.45,421.81" stroke="#c9c9c9" stroke-width="0.6" fill="none" />
<polyline points="28.88,444.80 82.00,424.93 164.41,435.52" stroke="#c9c9c9" stroke-width="0.6" fill="none" />
<polyline points="29.12,458.40 82.00,437.59 164.37,448.38" stroke="#c9c9c9" stroke-width="0.6" fill="none" />
<polyline points="29.37,472.90 82.00,451.09 164.33,462.10" stroke="#c9c9c9" stroke-width="0.6" fill="none" />
<line x1="390.80" y1="477.92" x2="390.80" y2="408.70" stroke="#c9c9c9" stroke-width="0.6" />
<line x1="390.80" y1="477.92" x2="474.09" y2="492.09" stroke="#c9c9c9" stroke-width="0.6" />
<line x1="402.80" y1="472.62" x2="402.80" y2="404.70" stroke="#c9c9c9" stroke-width="0.6" />
<line x1="402.80" y1="472.62" x2="485.10" y2="485.80" stroke="#c9c9c9" stroke-width="0.6" />
<line x1="416.00" y1="466.80" x2="416.00" y2="400.30" stroke="#c9c9c9" stroke-width="0.6" />
<line x1="416.00" y1="466.80" x2="497.13" y2="478.92" stroke="#c9c9c9" stroke-width="0.6" />
<line x1="454.30" y1="465.18" x2="454.30" y2="398.47" stroke="#c9c9c9" stroke-width="0.6" />
<line x1="454.30" y1="465.18" x2="405.19" y2="488.69" stroke="#c9c9c9" stroke-width="0.6" />
<line x1="478.40" y1="468.56" x2="478.40" y2="400.46" stroke="#c9c9c9" stroke-width="0.6" />
<line x1="478.40" y1="468.56" x2="430.57" y2="493.30" stroke="#c9c9c9" stroke-width="0.6" />
<polyline points="376.45,428.90 428.00,410.53 508.00,418.13" stroke="#c9c9c9" stroke-width="0.6" fill="none" />
<polyline points="376.78,443.60 428.00,424.20 508.00,432.77" stroke="#c9c9c9" stroke-width="0.6" fill="none" />
<polyline points="377.10,457.40 428.00,437.04 508.00,446.51" stroke="#c9c9c9" stroke-width="0.6" fill="none" />
<polyline points="377.42,471.60 428.00,450.25 508.00,460.65" stroke="#c9c9c9" stroke-width="0.6" fill="none" />
<text x="80.00" y="267.70" font-size="7.3" text-anchor="middle" fill="#222"  stroke="#222" stroke-width="0.2">10</text>
<text x="80.00" y="288.40" font-size="7.3" text-anchor="middle" fill="#222"  stroke="#222" stroke-width="0.2">5</text>
<text x="80.00" y="308.10" font-size="7.3" text-anchor="middle" fill="#222"  stroke="#222" stroke-width="0.2">0</text>
<text x="80.00" y="327.20" font-size="7.3" text-anchor="middle" fill="#222"  stroke="#222" stroke-width="0.2">-5</text>
<text x="116.00" y="360.60" font-size="7.9" text-anchor="middle" fill="#222"  stroke="#222" stroke-width="0.2">-5</text>
<text x="146.30" y="365.80" font-size="7.9" text-anchor="middle" fill="#222"  stroke="#222" stroke-width="0.2">0</text>
<text x="176.70" y="371.50" font-size="7.9" text-anchor="middle" fill="#222"  stroke="#222" stroke-width="0.2">5</text>
<text x="234.50" y="365.80" font-size="7.9" text-anchor="middle" fill="#222"  stroke="#222" stroke-width="0.2">5</text>
<text x="250.60" y="356.40" font-size="7.9" text-anchor="middle" fill="#222"  stroke="#222" stroke-width="0.2">0</text>
<text x="266.80" y="346.90" font-size="7.9" text-anchor="middle" fill="#222"  stroke="#222" stroke-width="0.2">-5</text>
<text transform="translate(141.50,374.50) rotate(10.20)" font-size="8.0" text-anchor="middle" fill="#333" stroke="#333" stroke-width="0.2">Stimulus dimension 2</text>
<text transform="translate(260.50,362.00) rotate(-30.50)" font-size="8.0" text-anchor="middle" fill="#333" stroke="#333" stroke-width="0.2">Stimulus dimension 1</text>
<text transform="translate(71.50,294.80) rotate(-90.00)" font-size="8.0" text-anchor="middle" fill="#333" stroke="#333" stroke-width="0.2">Decision dimension</text>
<text x="412.00" y="273.90" font-size="7.3" text-anchor="middle" fill="#222"  stroke="#222" stroke-width="0.2">2</text>
<text x="412.00" y="302.90" font-size="7.3" text-anchor="middle" fill="#222"  stroke="#222" stroke-width="0.2">0</text>
<text x="412.00" y="331.10" font-size="7.3" text-anchor="middle" fill="#222"  stroke="#222" stroke-width="0.2">-2</text>
<text x="445.20" y="358.50" font-size="7.9" text-anchor="middle" fill="#222"  stroke="#222" stroke-width="0.2">-2</text>
<text x="471.80" y="363.20" font-size="7.9" text-anchor="middle" fill="#222"  stroke="#222" stroke-width="0.2">0</text>
<text x="499.00" y="367.90" font-size="7.9" text-anchor="middle" fill="#222"  stroke="#222" stroke-width="0.2">2</text>
<text x="526.00" y="372.30" font-size="7.9" text-anchor="middle" fill="#222"  stroke="#222" stroke-width="0.2">4</text>
<text x="563.00" y="364.10" font-size="7.9" text-anchor="middle" fill="#222"  stroke="#222" stroke-width="0.2">2</text>
<text x="583.80" y="352.90" font-size="7.9" text-anchor="middle" fill="#222"  stroke="#222" stroke-width="0.2">0</text>
<text x="602.70" y="341.70" font-size="7.9" text-anchor="middle" fill="#222"  stroke="#222" stroke-width="0.2">-2</text>
<text transform="translate(481.80,376.20) rotate(10.60)" font-size="8.0" text-anchor="middle" fill="#333" stroke="#333" stroke-width="0.2">Stimulus dimension 2</text>
<text transform="translate(595.50,358.00) rotate(-30.00)" font-size="8.0" text-anchor="middle" fill="#333" stroke="#333" stroke-width="0.2">Stimulus dimension 1</text>
<text transform="translate(405.80,296.40) rotate(-90.00)" font-size="8.0" text-anchor="middle" fill="#333" stroke="#333" stroke-width="0.2">Decision dimension</text>
<text x="22.90" y="433.30" font-size="7.3" text-anchor="middle" fill="#222"  stroke="#222" stroke-width="0.2">10</text>
<text x="22.90" y="447.90" font-size="7.3" text-anchor="middle" fill="#222"  stroke="#222" stroke-width="0.2">5</text>
<text x="22.90" y="461.50" font-size="7.3" text-anchor="middle" fill="#222"  stroke="#222" stroke-width="0.2">0</text>
<text x="22.90" y="475.90" font-size="7.3" text-anchor="middle" fill="#222"  stroke="#222" stroke-width="0.2">-5</text>
<text x="50.80" y="497.40" font-size="7.9" text-anchor="middle" fill="#222"  stroke="#222" stroke-width="0.2">-5</text>
<text x="71.20" y="502.00" font-size="7.9" text-anchor="middle" fill="#222"  stroke="#222" stroke-width="0.2">0</text>
<text x="92.10" y="505.60" font-size="7.9" text-anchor="middle" fill="#222"  stroke="#222" stroke-width="0.2">5</text>
<text x="133.70" y="503.00" font-size="7.9" text-anchor="middle" fill="#222"  stroke="#222" stroke-width="0.2">5</text>
<text x="144.70" y="496.10" font-size="7.9" text-anchor="middle" fill="#222"  stroke="#222" stroke-width="0.2">0</text>
<text x="156.70" y="489.20" font-size="7.9" text-anchor="middle" fill="#222"  stroke="#222" stroke-width="0.2">-5</text>
<text transform="translate(70.50,512.00) rotate(10.40)" font-size="8.0" text-anchor="middle" fill="#333" stroke="#333" stroke-width="0.2">Stimulus dimension 2</text>
<text transform="translate(146.40,504.90) rotate(-31.50)" font-size="7.6" text-anchor="middle" fill="#333" stroke="#333" stroke-width="0.2">Stimulus dimension 1</text>
<text transform="translate(17.00,452.50) rotate(-90.00)" font-size="8.0" text-anchor="middle" fill="#333" stroke="#333" stroke-width="0.2">Decision dimension</text>
<text x="369.80" y="433.00" font-size="7.3" text-anchor="middle" fill="#222"  stroke="#222" stroke-width="0.2">1.0</text>
<text x="369.80" y="447.70" font-size="7.3" text-anchor="middle" fill="#222"  stroke="#222" stroke-width="0.2">0.5</text>
<text x="369.80" y="461.10" font-size="7.3" text-anchor="middle" fill="#222"  stroke="#222" stroke-width="0.2">0</text>
<text x="369.80" y="473.60" font-size="7.3" text-anchor="middle" fill="#222"  stroke="#222" stroke-width="0.2">-0.5</text>
<text x="405.20" y="497.90" font-size="7.9" text-anchor="middle" fill="#222"  stroke="#222" stroke-width="0.2">0</text>
<text x="432.80" y="504.50" font-size="7.9" text-anchor="middle" fill="#222"  stroke="#222" stroke-width="0.2">1</text>
<text x="478.70" y="500.50" font-size="7.9" text-anchor="middle" fill="#222"  stroke="#222" stroke-width="0.2">1.0</text>
<text x="490.60" y="493.20" font-size="7.9" text-anchor="middle" fill="#222"  stroke="#222" stroke-width="0.2">0.5</text>
<text x="501.00" y="486.10" font-size="7.9" text-anchor="middle" fill="#222"  stroke="#222" stroke-width="0.2">0</text>
<text transform="translate(417.50,510.80) rotate(10.30)" font-size="8.0" text-anchor="middle" fill="#333" stroke="#333" stroke-width="0.2">Stimulus dimension 2</text>
<text transform="translate(493.70,505.50) rotate(-32.50)" font-size="7.75" text-anchor="middle" fill="#333" stroke="#333" stroke-width="0.2">Stimulus dimension 1</text>
<text transform="translate(360.40,450.40) rotate(-90.00)" font-size="8.0" text-anchor="middle" fill="#333" stroke="#333" stroke-width="0.2">Decision dimension</text>
<path d="M98.82,296.31 C98.99,296.02 99.59,295.20 99.82,294.79 C100.05,294.38 99.99,294.14 100.19,293.84 C100.40,293.54 100.78,293.33 101.06,292.99 C101.34,292.66 101.64,292.30 101.87,291.82 C102.10,291.34 102.07,290.50 102.44,290.11 C102.81,289.72 103.43,289.76 104.10,289.47 C104.76,289.19 105.82,288.54 106.45,288.38 C107.09,288.23 107.50,288.59 107.91,288.54 C108.32,288.49 108.25,288.20 108.91,288.08 C109.58,287.96 111.27,287.97 111.90,287.82 C112.52,287.67 112.16,287.31 112.66,287.17 C113.17,287.03 114.18,287.23 114.92,286.98 C115.67,286.73 116.45,285.79 117.15,285.66 C117.85,285.53 118.72,286.12 119.13,286.17 C119.54,286.23 119.29,286.08 119.61,285.99 C119.93,285.90 120.41,285.90 121.06,285.63 C121.71,285.35 122.76,284.55 123.51,284.33 C124.26,284.11 125.02,284.38 125.56,284.31 C126.10,284.23 126.11,283.96 126.73,283.90 C127.35,283.84 128.36,283.90 129.26,283.95 C130.15,284.00 131.19,284.33 132.12,284.19 C133.04,284.05 134.04,283.21 134.79,283.09 C135.54,282.97 135.86,283.40 136.61,283.47 C137.36,283.53 138.10,283.60 139.29,283.48 C140.49,283.36 142.53,282.97 143.78,282.74 C145.04,282.51 145.64,282.26 146.80,282.10 C147.95,281.95 149.74,281.86 150.73,281.80 C151.71,281.74 151.59,281.74 152.69,281.75 C153.79,281.75 156.14,282.00 157.32,281.83 C158.51,281.66 158.93,280.96 159.78,280.73 C160.63,280.49 161.53,280.48 162.43,280.42 C163.33,280.36 164.39,280.31 165.18,280.37 C165.96,280.44 166.20,280.79 167.13,280.80 C168.07,280.82 169.97,280.49 170.80,280.46 C171.63,280.43 171.38,280.70 172.11,280.64 C172.84,280.57 174.16,280.10 175.17,280.06 C176.18,280.01 177.13,280.41 178.16,280.34 C179.19,280.27 180.25,279.73 181.35,279.64 C182.44,279.55 183.68,279.81 184.74,279.81 C185.81,279.80 186.52,279.62 187.73,279.61 C188.94,279.60 190.70,279.64 192.02,279.73 C193.34,279.82 194.64,280.06 195.66,280.16 C196.67,280.26 197.52,280.26 198.11,280.34 C198.70,280.43 198.62,280.64 199.21,280.65 C199.80,280.67 200.58,280.40 201.65,280.41 C202.72,280.42 204.51,280.65 205.61,280.72 C206.71,280.79 207.42,280.82 208.24,280.84 C209.05,280.87 210.02,280.76 210.49,280.89 C210.96,281.02 210.69,281.49 211.05,281.64 C211.41,281.80 212.05,281.72 212.63,281.85 C213.21,281.97 213.94,282.19 214.52,282.39 C215.11,282.58 215.80,282.75 216.13,283.02 C216.46,283.28 216.19,283.83 216.51,283.98 C216.83,284.12 217.84,283.63 218.06,283.88 C218.29,284.14 218.12,285.03 217.86,285.50 C217.60,285.98 216.70,286.20 216.50,286.72 C216.29,287.24 216.61,288.09 216.63,288.62 C216.64,289.15 216.69,289.38 216.59,289.91 C216.50,290.44 216.19,291.34 216.05,291.80 C215.91,292.26 215.90,292.23 215.74,292.67 C215.59,293.12 215.26,294.06 215.13,294.47 C215.01,294.88 215.13,294.90 215.00,295.16 C214.87,295.42 214.26,295.68 214.34,296.02 C214.42,296.35 215.57,296.75 215.49,297.17 C215.41,297.59 214.20,298.02 213.88,298.55 C213.57,299.09 214.08,299.97 213.58,300.38 C213.08,300.78 211.59,300.88 210.87,300.98 C210.16,301.08 209.94,300.82 209.30,300.98 C208.66,301.13 207.90,301.73 207.03,301.90 C206.16,302.07 204.94,301.84 204.06,301.98 C203.19,302.11 202.53,302.47 201.77,302.71 C201.01,302.95 200.20,303.20 199.51,303.39 C198.81,303.58 198.25,303.77 197.62,303.85 C197.00,303.92 196.75,303.83 195.75,303.83 C194.76,303.83 192.54,303.78 191.63,303.87 C190.72,303.96 190.97,304.30 190.31,304.37 C189.65,304.44 188.69,304.19 187.69,304.29 C186.68,304.40 185.10,304.92 184.30,304.98 C183.50,305.05 183.49,304.64 182.86,304.67 C182.23,304.69 181.47,304.98 180.52,305.13 C179.57,305.28 178.08,305.54 177.19,305.58 C176.30,305.61 175.92,305.23 175.19,305.33 C174.45,305.43 173.70,306.00 172.78,306.18 C171.86,306.37 170.33,306.39 169.68,306.45 C169.04,306.51 169.38,306.52 168.89,306.52 C168.40,306.52 167.56,306.43 166.76,306.43 C165.97,306.42 164.55,306.36 164.13,306.48 C163.71,306.61 164.78,307.02 164.23,307.16 C163.69,307.30 161.66,307.38 160.86,307.34 C160.06,307.29 160.07,307.05 159.41,306.92 C158.76,306.79 157.61,306.51 156.91,306.53 C156.21,306.54 155.99,306.98 155.21,307.02 C154.44,307.06 153.12,306.93 152.25,306.76 C151.39,306.59 150.93,306.04 150.02,305.99 C149.11,305.95 147.64,306.41 146.79,306.49 C145.93,306.57 145.69,306.69 144.92,306.49 C144.15,306.28 142.85,305.39 142.15,305.25 C141.44,305.10 141.32,305.70 140.69,305.63 C140.06,305.55 139.21,305.02 138.38,304.81 C137.54,304.60 136.54,304.40 135.67,304.35 C134.80,304.29 134.17,304.61 133.16,304.49 C132.15,304.37 130.53,303.78 129.60,303.64 C128.67,303.51 128.33,303.71 127.56,303.68 C126.80,303.64 125.93,303.65 125.00,303.43 C124.06,303.22 122.93,302.68 121.97,302.37 C121.00,302.07 119.86,301.70 119.21,301.60 C118.56,301.51 118.70,301.93 118.07,301.81 C117.44,301.69 116.35,301.13 115.43,300.90 C114.52,300.67 113.60,300.44 112.56,300.42 C111.52,300.39 110.15,300.73 109.20,300.75 C108.26,300.76 107.49,300.72 106.91,300.51 C106.33,300.31 106.52,299.72 105.72,299.53 C104.93,299.33 103.19,299.29 102.14,299.36 C101.10,299.43 99.77,300.02 99.43,299.97 C99.09,299.92 100.11,299.31 100.11,299.06 C100.12,298.81 99.55,298.73 99.45,298.46 C99.35,298.19 99.61,297.71 99.51,297.44 C99.41,297.18 98.98,297.02 98.86,296.88 C98.74,296.73 98.82,296.68 98.82,296.58 C98.81,296.49 98.65,296.61 98.82,296.31Z" fill="#c8e0c8" fill-opacity="0.38"/>
<path d="M114.79,295.41 C114.95,295.14 114.70,294.85 114.67,294.47 C114.65,294.09 114.48,293.42 114.64,293.13 C114.80,292.85 115.26,292.99 115.64,292.75 C116.03,292.51 116.57,292.06 116.95,291.70 C117.33,291.34 117.75,290.93 117.92,290.59 C118.09,290.24 117.87,289.82 117.98,289.62 C118.09,289.43 118.02,289.41 118.57,289.42 C119.13,289.42 120.75,289.66 121.31,289.68 C121.87,289.71 121.47,289.72 121.92,289.56 C122.37,289.40 123.46,288.94 124.01,288.74 C124.57,288.54 124.84,288.36 125.23,288.34 C125.61,288.31 126.02,288.62 126.32,288.59 C126.61,288.56 126.56,288.37 126.98,288.16 C127.40,287.94 128.33,287.48 128.86,287.31 C129.40,287.15 129.89,287.23 130.17,287.17 C130.46,287.12 130.30,286.92 130.57,286.97 C130.85,287.02 131.35,287.44 131.81,287.46 C132.27,287.48 132.85,287.31 133.33,287.12 C133.81,286.92 134.17,286.42 134.67,286.29 C135.17,286.16 135.45,286.36 136.32,286.34 C137.19,286.33 139.05,286.32 139.89,286.20 C140.72,286.09 140.99,285.75 141.34,285.64 C141.70,285.53 141.34,285.48 142.03,285.52 C142.73,285.55 144.52,285.80 145.51,285.83 C146.51,285.85 147.35,285.83 147.97,285.66 C148.60,285.49 148.53,284.99 149.27,284.79 C150.01,284.60 151.50,284.52 152.40,284.49 C153.30,284.47 153.95,284.60 154.67,284.66 C155.40,284.72 156.05,284.88 156.75,284.86 C157.46,284.85 158.24,284.63 158.91,284.56 C159.57,284.50 160.02,284.66 160.75,284.49 C161.48,284.31 162.49,283.59 163.29,283.50 C164.09,283.42 164.93,283.95 165.55,283.96 C166.17,283.98 166.38,283.71 167.01,283.59 C167.65,283.48 168.78,283.26 169.38,283.26 C169.98,283.25 169.95,283.50 170.61,283.58 C171.28,283.65 172.50,283.72 173.37,283.72 C174.24,283.72 174.99,283.71 175.85,283.61 C176.71,283.50 177.72,283.12 178.53,283.09 C179.34,283.06 179.89,283.35 180.71,283.43 C181.52,283.51 182.47,283.56 183.40,283.58 C184.33,283.61 185.60,283.52 186.26,283.57 C186.92,283.62 186.67,283.90 187.36,283.88 C188.06,283.86 189.62,283.50 190.45,283.47 C191.27,283.44 191.87,283.73 192.30,283.72 C192.73,283.71 192.48,283.33 193.04,283.41 C193.60,283.49 194.92,284.09 195.66,284.19 C196.40,284.30 197.18,284.07 197.49,284.04 C197.79,284.00 197.15,283.81 197.47,283.97 C197.79,284.14 198.82,284.76 199.41,285.03 C200.00,285.30 200.70,285.38 201.02,285.57 C201.33,285.75 201.23,285.97 201.29,286.12 C201.34,286.27 201.00,286.42 201.32,286.45 C201.65,286.49 202.92,286.19 203.22,286.33 C203.53,286.48 203.25,286.89 203.16,287.34 C203.07,287.79 202.77,288.55 202.71,289.02 C202.64,289.49 202.88,289.92 202.79,290.18 C202.71,290.43 202.33,290.19 202.19,290.54 C202.04,290.88 202.06,291.80 201.93,292.26 C201.79,292.71 201.39,292.98 201.36,293.25 C201.33,293.51 201.94,293.54 201.76,293.85 C201.58,294.16 200.50,294.69 200.30,295.09 C200.11,295.49 200.67,295.96 200.59,296.25 C200.51,296.55 199.82,296.56 199.82,296.83 C199.82,297.11 200.44,297.58 200.60,297.90 C200.77,298.22 201.11,298.59 200.82,298.76 C200.53,298.93 199.47,298.81 198.86,298.91 C198.24,299.01 197.78,299.29 197.12,299.36 C196.46,299.44 195.67,299.30 194.91,299.36 C194.16,299.43 193.18,299.54 192.61,299.76 C192.04,299.97 192.05,300.45 191.49,300.66 C190.93,300.88 189.76,301.02 189.23,301.03 C188.70,301.03 188.82,300.61 188.33,300.71 C187.83,300.81 186.86,301.47 186.26,301.62 C185.67,301.78 185.49,301.66 184.77,301.64 C184.04,301.62 182.68,301.50 181.91,301.50 C181.13,301.50 180.72,301.48 180.13,301.64 C179.54,301.80 178.89,302.41 178.37,302.47 C177.84,302.53 177.56,302.02 177.00,302.02 C176.43,302.01 175.80,302.42 174.99,302.46 C174.17,302.49 172.85,302.26 172.10,302.21 C171.36,302.17 170.96,302.07 170.51,302.18 C170.06,302.29 170.00,302.70 169.41,302.89 C168.82,303.08 167.56,303.36 166.96,303.32 C166.35,303.29 166.18,302.72 165.78,302.67 C165.39,302.62 165.06,302.96 164.57,303.03 C164.08,303.10 163.20,303.01 162.87,303.09 C162.54,303.17 163.01,303.40 162.56,303.50 C162.12,303.60 160.67,303.71 160.22,303.66 C159.77,303.61 160.33,303.19 159.87,303.20 C159.41,303.20 158.00,303.64 157.44,303.72 C156.87,303.80 157.08,303.68 156.47,303.67 C155.86,303.66 154.48,303.71 153.78,303.65 C153.08,303.58 152.90,303.42 152.26,303.28 C151.63,303.14 150.69,302.94 149.95,302.81 C149.21,302.67 148.30,302.58 147.80,302.48 C147.30,302.38 147.41,302.22 146.94,302.19 C146.48,302.15 145.73,302.31 144.99,302.29 C144.25,302.27 143.07,302.12 142.50,302.07 C141.93,302.02 142.17,302.04 141.58,301.98 C140.99,301.92 139.67,301.89 138.96,301.71 C138.26,301.52 138.03,300.93 137.34,300.88 C136.65,300.83 135.39,301.41 134.83,301.40 C134.28,301.39 134.41,300.98 134.01,300.82 C133.60,300.66 133.08,300.54 132.41,300.44 C131.73,300.35 130.83,300.43 129.97,300.26 C129.11,300.09 127.82,299.68 127.23,299.43 C126.65,299.19 126.92,298.93 126.44,298.78 C125.96,298.62 125.19,298.52 124.35,298.48 C123.52,298.45 122.04,298.52 121.43,298.58 C120.82,298.64 121.21,298.87 120.70,298.86 C120.19,298.85 119.08,298.69 118.36,298.55 C117.63,298.41 117.08,298.12 116.38,298.01 C115.67,297.89 114.30,297.94 114.14,297.89 C113.97,297.83 115.34,297.80 115.37,297.69 C115.41,297.57 114.49,297.32 114.35,297.19 C114.21,297.06 114.54,297.08 114.52,296.93 C114.50,296.78 114.37,296.43 114.23,296.29 C114.10,296.14 113.61,296.21 113.70,296.07 C113.80,295.92 114.63,295.68 114.79,295.41Z" fill="#c8e0c8" fill-opacity="0.38"/>
<path d="M99.58,291.25 C99.83,291.12 99.40,291.17 100.06,291.02 C100.72,290.86 102.76,290.43 103.51,290.30 C104.27,290.18 104.21,290.39 104.59,290.28 C104.98,290.17 105.30,289.75 105.84,289.65 C106.38,289.54 107.09,289.74 107.82,289.67 C108.55,289.60 109.23,289.45 110.21,289.24 C111.19,289.04 112.51,288.58 113.69,288.45 C114.87,288.31 116.22,288.53 117.30,288.41 C118.38,288.29 119.25,287.80 120.19,287.75 C121.14,287.70 121.83,288.10 122.99,288.10 C124.15,288.11 126.07,288.02 127.17,287.77 C128.26,287.52 128.41,286.70 129.57,286.60 C130.72,286.51 132.83,287.22 134.10,287.18 C135.37,287.14 136.18,286.63 137.18,286.37 C138.19,286.10 139.20,285.65 140.14,285.58 C141.08,285.52 141.86,286.02 142.82,285.97 C143.77,285.92 144.60,285.41 145.86,285.27 C147.13,285.13 149.31,285.26 150.41,285.11 C151.52,284.97 151.41,284.53 152.47,284.40 C153.54,284.27 155.50,284.34 156.81,284.35 C158.11,284.36 159.20,284.51 160.33,284.47 C161.45,284.43 162.55,284.09 163.55,284.11 C164.55,284.13 165.13,284.56 166.33,284.61 C167.53,284.66 169.33,284.51 170.73,284.40 C172.13,284.29 173.09,283.92 174.72,283.96 C176.36,284.00 178.81,284.47 180.54,284.63 C182.27,284.79 183.66,284.88 185.12,284.89 C186.59,284.90 187.76,284.67 189.30,284.68 C190.85,284.68 192.75,284.88 194.41,284.90 C196.06,284.92 197.43,284.72 199.24,284.80 C201.04,284.88 203.29,285.20 205.23,285.37 C207.18,285.55 209.23,285.71 210.90,285.85 C212.57,286.00 213.59,286.11 215.24,286.25 C216.88,286.39 219.08,286.67 220.77,286.70 C222.46,286.74 223.81,286.41 225.38,286.47 C226.95,286.53 228.42,286.92 230.18,287.07 C231.95,287.21 234.33,287.20 235.99,287.34 C237.64,287.48 238.46,287.75 240.13,287.93 C241.80,288.10 244.21,288.21 246.01,288.38 C247.81,288.55 249.24,288.73 250.94,288.94 C252.64,289.14 254.45,289.50 256.21,289.60 C257.96,289.70 260.34,289.27 261.45,289.52 C262.56,289.76 262.80,290.67 262.87,291.07 C262.94,291.47 261.97,291.76 261.87,291.93 C261.77,292.11 262.31,291.88 262.25,292.10 C262.19,292.33 261.54,292.98 261.51,293.29 C261.48,293.61 262.01,293.76 262.05,294.01 C262.10,294.25 262.10,294.52 261.80,294.77 C261.50,295.02 260.74,295.36 260.26,295.50 C259.77,295.63 259.29,295.43 258.88,295.56 C258.47,295.69 258.05,296.20 257.79,296.25 C257.54,296.31 257.60,295.78 257.35,295.90 C257.10,296.02 256.56,296.72 256.27,296.98 C255.99,297.23 256.65,297.28 255.65,297.41 C254.65,297.55 251.65,297.78 250.29,297.79 C248.94,297.80 248.97,297.52 247.54,297.48 C246.12,297.44 243.18,297.43 241.77,297.55 C240.35,297.66 240.29,297.94 239.03,298.15 C237.78,298.36 235.83,298.64 234.25,298.78 C232.66,298.92 231.17,298.88 229.54,298.99 C227.92,299.11 226.06,299.42 224.51,299.50 C222.96,299.57 221.83,299.31 220.24,299.46 C218.64,299.61 216.66,300.21 214.96,300.38 C213.25,300.55 211.82,300.45 210.02,300.48 C208.22,300.52 205.83,300.48 204.14,300.59 C202.45,300.69 201.36,300.93 199.89,301.09 C198.43,301.24 196.97,301.50 195.35,301.52 C193.74,301.54 191.94,301.18 190.18,301.21 C188.43,301.24 186.67,301.59 184.84,301.70 C183.00,301.81 180.71,301.91 179.19,301.89 C177.66,301.87 177.33,301.56 175.69,301.58 C174.05,301.59 171.27,302.04 169.37,301.98 C167.46,301.93 165.77,301.39 164.28,301.24 C162.79,301.09 161.91,301.23 160.41,301.07 C158.91,300.92 157.13,300.42 155.29,300.32 C153.44,300.23 151.01,300.50 149.35,300.51 C147.68,300.53 147.00,300.49 145.30,300.41 C143.60,300.33 140.73,300.38 139.13,300.02 C137.53,299.66 137.13,298.67 135.68,298.26 C134.24,297.84 132.14,297.72 130.45,297.54 C128.76,297.36 127.20,297.42 125.53,297.18 C123.87,296.94 122.28,296.36 120.45,296.11 C118.62,295.86 116.31,295.82 114.58,295.69 C112.84,295.56 110.97,295.49 110.02,295.36 C109.07,295.22 109.45,295.01 108.89,294.87 C108.34,294.72 107.29,294.64 106.68,294.50 C106.07,294.35 105.81,294.19 105.22,294.02 C104.63,293.85 103.76,293.57 103.14,293.50 C102.52,293.43 102.15,293.60 101.51,293.60 C100.87,293.60 99.60,293.65 99.28,293.49 C98.97,293.34 99.52,292.89 99.64,292.67 C99.75,292.46 99.97,292.24 99.98,292.19 C99.99,292.14 99.93,292.39 99.70,292.35 C99.48,292.31 98.82,292.06 98.63,291.97 C98.44,291.87 98.40,291.90 98.56,291.78 C98.71,291.66 99.33,291.37 99.58,291.25Z" fill="#e8b4b8" fill-opacity="0.32"/>
<path d="M122.41,291.96 C122.49,291.79 122.06,291.32 122.58,291.14 C123.10,290.96 124.93,290.94 125.55,290.89 C126.18,290.85 125.90,290.87 126.32,290.86 C126.75,290.85 127.79,290.98 128.11,290.83 C128.43,290.68 128.02,290.05 128.25,289.98 C128.49,289.91 128.71,290.40 129.51,290.42 C130.31,290.44 132.33,290.20 133.06,290.09 C133.79,289.99 133.34,289.89 133.90,289.81 C134.45,289.74 135.58,289.83 136.39,289.66 C137.20,289.50 138.01,288.86 138.77,288.81 C139.52,288.75 140.16,289.41 140.93,289.32 C141.70,289.22 142.60,288.44 143.37,288.25 C144.13,288.07 144.68,288.28 145.52,288.22 C146.36,288.15 147.48,287.82 148.40,287.86 C149.33,287.90 150.19,288.46 151.08,288.47 C151.97,288.48 153.12,288.06 153.76,287.92 C154.39,287.78 154.20,287.80 154.90,287.63 C155.61,287.47 157.03,287.07 158.01,286.93 C159.00,286.79 159.98,286.77 160.80,286.82 C161.62,286.87 162.20,287.14 162.93,287.22 C163.65,287.31 164.53,287.44 165.16,287.34 C165.78,287.23 165.87,286.64 166.66,286.58 C167.44,286.51 169.01,286.93 169.88,286.95 C170.74,286.96 170.98,286.67 171.85,286.68 C172.72,286.69 173.83,287.09 175.08,287.02 C176.33,286.95 178.01,286.21 179.34,286.26 C180.68,286.31 182.14,287.14 183.10,287.31 C184.05,287.48 183.91,287.35 185.07,287.28 C186.24,287.22 188.86,286.85 190.10,286.92 C191.35,286.99 191.44,287.52 192.54,287.69 C193.63,287.85 195.37,287.93 196.66,287.90 C197.96,287.87 199.13,287.41 200.30,287.49 C201.48,287.58 202.74,288.33 203.71,288.41 C204.68,288.50 205.09,288.04 206.11,287.99 C207.12,287.94 208.41,288.05 209.79,288.10 C211.18,288.15 213.01,288.16 214.42,288.29 C215.83,288.43 217.03,288.80 218.25,288.91 C219.48,289.03 220.63,288.85 221.79,288.97 C222.94,289.09 224.14,289.44 225.17,289.64 C226.20,289.83 226.58,290.04 227.95,290.12 C229.31,290.21 231.86,290.00 233.36,290.15 C234.85,290.29 236.50,290.73 236.91,290.99 C237.32,291.26 236.02,291.62 235.83,291.74 C235.63,291.85 235.62,291.55 235.73,291.68 C235.83,291.82 236.38,292.28 236.47,292.53 C236.56,292.77 236.30,292.90 236.27,293.16 C236.24,293.42 236.25,293.81 236.29,294.07 C236.33,294.33 236.72,294.69 236.51,294.71 C236.30,294.74 235.35,294.26 235.04,294.21 C234.72,294.16 234.69,294.32 234.62,294.41 C234.56,294.51 234.84,294.68 234.66,294.78 C234.49,294.88 233.92,294.91 233.56,295.01 C233.20,295.11 232.89,295.31 232.50,295.39 C232.11,295.47 231.79,295.47 231.24,295.49 C230.69,295.51 230.21,295.43 229.21,295.51 C228.21,295.59 226.28,295.83 225.24,295.96 C224.21,296.10 223.82,296.25 223.01,296.33 C222.20,296.42 221.50,296.40 220.39,296.47 C219.27,296.53 217.36,296.70 216.33,296.72 C215.29,296.73 215.02,296.39 214.17,296.55 C213.32,296.71 212.60,297.59 211.23,297.68 C209.86,297.78 207.19,297.08 205.96,297.12 C204.74,297.17 204.97,297.87 203.88,297.98 C202.80,298.09 200.72,297.78 199.45,297.80 C198.18,297.82 197.28,297.99 196.26,298.08 C195.24,298.17 194.48,298.21 193.35,298.32 C192.23,298.42 190.78,298.66 189.50,298.68 C188.22,298.71 187.01,298.42 185.67,298.45 C184.34,298.48 182.61,298.82 181.48,298.87 C180.36,298.92 179.94,298.73 178.91,298.74 C177.88,298.76 176.54,298.96 175.30,298.98 C174.07,298.99 172.71,298.79 171.50,298.83 C170.30,298.87 169.12,299.19 168.06,299.21 C167.01,299.23 166.18,299.09 165.17,298.95 C164.17,298.82 163.15,298.60 162.04,298.39 C160.93,298.18 159.89,297.75 158.51,297.71 C157.14,297.66 155.03,298.14 153.78,298.11 C152.54,298.08 152.05,297.79 151.05,297.52 C150.05,297.25 148.88,296.65 147.78,296.48 C146.69,296.32 145.71,296.67 144.46,296.54 C143.22,296.41 141.61,295.87 140.31,295.70 C139.02,295.53 137.90,295.69 136.69,295.55 C135.49,295.40 134.30,295.01 133.09,294.82 C131.88,294.64 130.20,294.51 129.43,294.44 C128.66,294.37 128.73,294.57 128.48,294.41 C128.24,294.25 128.33,293.68 127.96,293.48 C127.59,293.29 126.70,293.21 126.25,293.23 C125.81,293.26 125.70,293.67 125.29,293.63 C124.89,293.59 124.11,293.18 123.81,293.00 C123.52,292.81 123.56,292.52 123.52,292.51 C123.49,292.51 123.69,292.97 123.62,292.97 C123.55,292.97 123.20,292.66 123.09,292.51 C122.99,292.37 123.10,292.15 122.98,292.12 C122.86,292.09 122.55,292.32 122.40,292.33 C122.25,292.34 122.08,292.25 122.08,292.19 C122.09,292.12 122.33,292.14 122.41,291.96Z" fill="#e8b4b8" fill-opacity="0.32"/>
<path d="M185.60,283.61 C186.08,282.96 187.46,283.51 188.44,283.52 C189.43,283.53 190.61,283.81 191.50,283.67 C192.39,283.53 193.06,282.90 193.78,282.70 C194.50,282.51 195.19,282.69 195.82,282.51 C196.44,282.33 196.75,281.72 197.53,281.63 C198.30,281.53 199.51,281.91 200.47,281.93 C201.44,281.94 202.46,281.93 203.34,281.69 C204.22,281.46 205.04,280.58 205.75,280.51 C206.47,280.43 206.94,281.16 207.65,281.24 C208.35,281.32 209.26,281.08 209.98,280.99 C210.71,280.91 211.10,280.81 212.00,280.73 C212.90,280.65 214.11,280.69 215.39,280.52 C216.68,280.34 218.47,279.77 219.72,279.67 C220.97,279.57 221.46,279.88 222.89,279.91 C224.31,279.94 226.91,279.88 228.28,279.86 C229.65,279.84 229.88,279.89 231.10,279.78 C232.33,279.67 234.03,279.29 235.64,279.21 C237.25,279.13 239.45,279.30 240.78,279.29 C242.10,279.27 242.33,279.07 243.61,279.10 C244.88,279.14 246.91,279.28 248.45,279.50 C249.99,279.73 251.40,280.29 252.85,280.43 C254.31,280.56 255.90,280.33 257.17,280.31 C258.44,280.28 259.25,280.10 260.46,280.29 C261.66,280.48 263.25,281.28 264.38,281.44 C265.50,281.60 266.17,281.13 267.19,281.22 C268.22,281.32 269.65,281.79 270.54,282.00 C271.42,282.21 271.98,282.22 272.49,282.51 C273.00,282.79 272.78,283.42 273.59,283.72 C274.40,284.01 276.33,283.99 277.34,284.29 C278.35,284.59 279.36,285.04 279.65,285.51 C279.93,285.98 279.15,286.69 279.04,287.12 C278.92,287.56 278.94,287.67 278.97,288.14 C278.99,288.60 279.22,289.33 279.16,289.91 C279.11,290.49 278.53,291.09 278.62,291.61 C278.71,292.12 279.63,292.48 279.69,292.98 C279.74,293.47 279.40,294.09 278.94,294.59 C278.49,295.10 277.70,295.64 276.95,295.99 C276.20,296.34 275.40,296.44 274.46,296.71 C273.53,296.97 272.18,297.28 271.33,297.58 C270.49,297.88 270.01,298.19 269.41,298.52 C268.80,298.86 268.33,299.34 267.71,299.61 C267.09,299.88 266.46,299.97 265.70,300.12 C264.95,300.27 264.22,300.22 263.15,300.51 C262.08,300.80 260.12,301.54 259.28,301.84 C258.44,302.14 258.90,302.04 258.13,302.31 C257.36,302.57 255.75,303.06 254.67,303.43 C253.59,303.81 252.43,304.23 251.63,304.57 C250.83,304.91 250.74,305.29 249.86,305.47 C248.98,305.66 247.49,305.46 246.34,305.68 C245.19,305.90 243.96,306.41 242.96,306.79 C241.96,307.17 241.33,307.60 240.33,307.93 C239.34,308.26 238.26,308.53 236.98,308.77 C235.69,309.02 233.69,309.22 232.63,309.40 C231.57,309.58 231.54,309.63 230.62,309.86 C229.71,310.08 228.29,310.63 227.13,310.74 C225.96,310.84 224.89,310.43 223.65,310.49 C222.41,310.55 220.88,310.98 219.69,311.13 C218.50,311.27 217.49,311.26 216.50,311.36 C215.50,311.46 214.70,311.73 213.71,311.72 C212.72,311.70 211.70,311.42 210.56,311.28 C209.41,311.14 207.90,311.03 206.86,310.87 C205.81,310.71 205.14,310.36 204.27,310.30 C203.41,310.24 202.48,310.59 201.66,310.53 C200.83,310.47 200.12,310.06 199.33,309.95 C198.55,309.84 197.63,310.09 196.94,309.87 C196.26,309.66 195.79,309.01 195.22,308.65 C194.65,308.29 194.18,307.98 193.55,307.70 C192.91,307.42 192.08,307.36 191.42,306.97 C190.77,306.59 190.18,305.84 189.59,305.40 C189.01,304.97 188.56,304.72 187.92,304.35 C187.28,303.99 186.23,303.65 185.77,303.20 C185.31,302.75 185.22,302.39 185.17,301.67 C185.12,300.96 185.33,299.87 185.47,298.90 C185.62,297.93 186.05,296.88 186.04,295.87 C186.04,294.86 185.55,293.79 185.44,292.84 C185.33,291.90 185.36,291.12 185.38,290.22 C185.40,289.31 185.53,288.49 185.57,287.39 C185.60,286.29 185.12,284.25 185.60,283.61Z" fill="#c9d0ea" fill-opacity="0.38"/>
<path d="M199.19,287.15 C199.34,286.67 199.67,286.13 200.05,286.06 C200.43,286.00 201.00,286.82 201.48,286.74 C201.96,286.66 202.29,285.72 202.93,285.59 C203.57,285.46 204.74,286.04 205.32,285.94 C205.90,285.85 205.96,285.14 206.42,285.04 C206.88,284.95 207.44,285.34 208.06,285.37 C208.68,285.40 209.46,285.30 210.14,285.21 C210.82,285.11 211.39,284.85 212.14,284.80 C212.90,284.75 214.08,284.92 214.68,284.89 C215.27,284.87 215.29,284.71 215.71,284.62 C216.13,284.54 216.52,284.45 217.22,284.39 C217.93,284.33 218.99,284.30 219.94,284.25 C220.89,284.21 221.88,284.15 222.93,284.11 C223.98,284.07 225.28,284.17 226.22,284.02 C227.16,283.86 227.79,283.24 228.57,283.19 C229.35,283.14 229.80,283.77 230.90,283.71 C232.01,283.65 234.19,282.89 235.21,282.84 C236.22,282.80 236.15,283.35 236.99,283.45 C237.83,283.56 239.09,283.43 240.26,283.48 C241.44,283.52 243.10,283.64 244.06,283.74 C245.03,283.85 245.32,284.08 246.06,284.11 C246.80,284.14 247.33,283.84 248.52,283.92 C249.71,284.00 251.96,284.53 253.19,284.60 C254.42,284.66 255.16,284.26 255.90,284.30 C256.64,284.33 257.25,284.50 257.62,284.80 C257.98,285.11 257.75,285.85 258.09,286.14 C258.43,286.42 258.88,286.42 259.64,286.52 C260.39,286.61 262.06,286.69 262.63,286.72 C263.21,286.75 262.55,286.57 263.10,286.69 C263.64,286.81 265.38,287.02 265.93,287.43 C266.47,287.83 266.44,288.69 266.34,289.12 C266.25,289.55 265.45,289.71 265.36,290.01 C265.27,290.30 265.76,290.47 265.79,290.89 C265.82,291.31 265.60,292.13 265.56,292.53 C265.52,292.92 265.46,292.80 265.58,293.24 C265.69,293.69 266.49,294.89 266.23,295.20 C265.97,295.50 264.61,294.93 264.01,295.07 C263.41,295.20 263.22,295.82 262.62,296.02 C262.01,296.22 261.14,296.04 260.38,296.24 C259.62,296.45 258.69,297.03 258.07,297.23 C257.45,297.43 256.99,297.34 256.68,297.45 C256.38,297.55 256.64,297.61 256.25,297.89 C255.86,298.17 254.99,298.76 254.35,299.11 C253.72,299.46 253.03,299.73 252.45,299.99 C251.86,300.24 251.43,300.49 250.87,300.65 C250.31,300.80 249.86,300.74 249.09,300.93 C248.32,301.11 247.06,301.60 246.24,301.75 C245.42,301.90 244.80,301.74 244.18,301.82 C243.55,301.90 243.33,302.04 242.50,302.23 C241.66,302.43 239.91,302.63 239.18,302.96 C238.44,303.29 238.65,303.95 238.10,304.21 C237.54,304.46 236.82,304.41 235.85,304.50 C234.88,304.60 233.13,304.60 232.29,304.76 C231.46,304.93 231.48,305.30 230.83,305.49 C230.19,305.67 229.32,305.74 228.41,305.87 C227.50,305.99 226.37,306.27 225.35,306.23 C224.33,306.20 222.95,305.72 222.29,305.66 C221.64,305.59 221.96,305.65 221.42,305.84 C220.89,306.03 219.88,306.68 219.08,306.78 C218.29,306.87 217.66,306.56 216.67,306.40 C215.69,306.24 214.03,305.90 213.18,305.83 C212.34,305.77 211.98,306.01 211.60,306.02 C211.21,306.02 211.35,305.99 210.86,305.86 C210.37,305.74 209.46,305.43 208.66,305.29 C207.86,305.15 206.54,305.16 206.05,305.02 C205.55,304.89 206.07,304.72 205.69,304.49 C205.32,304.25 204.45,303.76 203.80,303.61 C203.15,303.46 202.07,303.80 201.78,303.58 C201.48,303.37 202.17,302.66 202.02,302.33 C201.86,302.00 201.44,301.88 200.83,301.59 C200.23,301.30 198.93,300.90 198.38,300.59 C197.84,300.28 197.69,300.16 197.57,299.71 C197.44,299.26 197.47,298.66 197.65,297.88 C197.82,297.10 198.46,295.71 198.62,295.03 C198.78,294.35 198.69,294.36 198.60,293.79 C198.51,293.22 197.99,292.44 198.08,291.63 C198.16,290.82 198.91,289.67 199.10,288.93 C199.28,288.18 199.03,287.63 199.19,287.15Z" fill="#c9d0ea" fill-opacity="0.38"/>
<path d="M162.60,305.81 C162.77,305.60 162.91,306.11 163.57,306.06 C164.24,306.00 165.76,305.58 166.57,305.49 C167.38,305.39 167.71,305.61 168.44,305.49 C169.17,305.37 170.12,304.90 170.96,304.75 C171.80,304.60 172.71,304.66 173.49,304.59 C174.28,304.52 174.91,304.42 175.66,304.33 C176.41,304.24 177.22,304.25 177.98,304.05 C178.74,303.86 179.43,303.21 180.20,303.18 C180.97,303.16 181.71,303.85 182.58,303.92 C183.45,303.99 184.50,303.73 185.41,303.62 C186.32,303.50 187.18,303.36 188.04,303.21 C188.91,303.06 189.53,302.73 190.58,302.72 C191.64,302.70 192.76,303.19 194.36,303.11 C195.96,303.03 198.37,302.25 200.17,302.23 C201.97,302.21 203.44,302.96 205.15,302.98 C206.86,303.01 208.78,302.47 210.42,302.37 C212.07,302.27 213.42,302.52 215.02,302.38 C216.62,302.23 218.28,301.62 220.01,301.50 C221.73,301.38 223.81,301.54 225.37,301.68 C226.93,301.82 227.73,302.12 229.35,302.34 C230.96,302.56 233.19,302.99 235.05,303.01 C236.92,303.03 238.83,302.50 240.54,302.47 C242.25,302.43 243.89,302.81 245.33,302.81 C246.77,302.82 247.78,302.51 249.16,302.51 C250.55,302.52 252.38,302.59 253.66,302.85 C254.94,303.10 255.70,303.88 256.86,304.05 C258.02,304.21 259.68,303.84 260.64,303.84 C261.60,303.83 261.53,303.97 262.62,304.03 C263.70,304.09 265.96,303.99 267.15,304.19 C268.34,304.40 269.02,304.96 269.77,305.27 C270.51,305.58 271.37,305.76 271.60,306.04 C271.83,306.33 271.08,306.69 271.17,306.99 C271.26,307.28 271.73,307.59 272.14,307.82 C272.55,308.05 273.09,308.19 273.62,308.36 C274.15,308.53 275.07,308.56 275.33,308.85 C275.58,309.15 275.29,309.71 275.16,310.12 C275.03,310.54 275.11,311.02 274.54,311.36 C273.97,311.69 272.81,311.93 271.74,312.13 C270.68,312.33 269.05,312.36 268.16,312.56 C267.26,312.76 266.99,313.05 266.35,313.33 C265.72,313.61 265.18,313.91 264.34,314.23 C263.50,314.55 262.42,315.10 261.30,315.25 C260.19,315.39 259.21,314.94 257.65,315.10 C256.08,315.25 253.70,315.91 251.92,316.19 C250.15,316.46 248.74,316.56 247.01,316.77 C245.28,316.98 243.28,317.20 241.57,317.45 C239.86,317.71 238.34,318.19 236.72,318.30 C235.11,318.40 233.42,318.01 231.88,318.07 C230.34,318.13 229.27,318.57 227.49,318.64 C225.72,318.72 223.10,318.59 221.21,318.52 C219.33,318.46 218.04,318.22 216.17,318.26 C214.31,318.29 211.83,318.72 210.01,318.73 C208.20,318.74 206.83,318.40 205.28,318.30 C203.72,318.20 202.35,318.15 200.70,318.13 C199.05,318.10 196.88,318.21 195.39,318.14 C193.91,318.06 193.21,317.86 191.79,317.67 C190.37,317.48 188.22,317.09 186.90,317.00 C185.57,316.92 185.27,317.22 183.84,317.14 C182.41,317.06 179.79,316.60 178.32,316.53 C176.86,316.46 175.96,316.81 175.05,316.71 C174.15,316.61 173.65,316.23 172.90,315.92 C172.15,315.62 171.08,315.31 170.57,314.88 C170.05,314.46 170.26,313.68 169.81,313.35 C169.36,313.02 168.66,313.15 167.86,312.90 C167.06,312.66 165.72,312.20 165.02,311.86 C164.31,311.53 164.10,311.21 163.63,310.89 C163.16,310.58 162.53,310.30 162.22,309.97 C161.91,309.65 161.61,309.20 161.78,308.93 C161.96,308.67 163.09,308.60 163.26,308.38 C163.43,308.15 162.94,307.78 162.82,307.60 C162.71,307.42 162.61,307.60 162.57,307.31 C162.53,307.01 162.44,306.02 162.60,305.81Z" fill="#f0d6b4" fill-opacity="0.26"/>
<path d="M177.32,307.04 C177.63,306.97 178.89,307.16 179.43,306.99 C179.98,306.82 180.07,306.18 180.62,306.02 C181.16,305.86 182.15,306.09 182.72,306.04 C183.29,306.00 183.69,305.73 184.04,305.74 C184.39,305.76 184.24,306.16 184.82,306.14 C185.40,306.12 186.93,305.71 187.53,305.64 C188.13,305.57 187.80,305.69 188.41,305.73 C189.03,305.77 190.60,306.00 191.24,305.90 C191.87,305.80 191.64,305.23 192.21,305.13 C192.78,305.03 194.19,305.32 194.63,305.30 C195.08,305.28 194.42,305.15 194.89,305.03 C195.37,304.90 196.44,304.62 197.49,304.54 C198.54,304.45 200.01,304.47 201.19,304.50 C202.38,304.53 203.55,304.70 204.59,304.72 C205.64,304.75 206.22,304.68 207.48,304.64 C208.74,304.60 210.88,304.45 212.15,304.48 C213.42,304.51 213.99,304.89 215.08,304.82 C216.17,304.75 217.54,304.16 218.72,304.07 C219.90,303.98 221.07,304.20 222.16,304.29 C223.26,304.39 224.31,304.59 225.29,304.66 C226.27,304.73 226.97,304.72 228.03,304.70 C229.10,304.68 230.27,304.49 231.69,304.55 C233.12,304.61 235.18,304.95 236.56,305.08 C237.94,305.20 239.17,305.24 239.97,305.30 C240.78,305.36 240.87,305.47 241.40,305.44 C241.94,305.40 242.38,305.09 243.16,305.10 C243.95,305.11 245.07,305.42 246.14,305.49 C247.20,305.57 248.89,305.41 249.56,305.54 C250.24,305.67 249.58,306.24 250.18,306.30 C250.78,306.35 252.64,305.72 253.17,305.89 C253.71,306.07 253.01,307.08 253.38,307.33 C253.75,307.57 255.08,307.29 255.42,307.36 C255.77,307.44 255.27,307.59 255.45,307.78 C255.63,307.96 256.36,308.23 256.49,308.48 C256.61,308.74 256.10,309.02 256.17,309.31 C256.24,309.60 256.99,310.01 256.91,310.21 C256.82,310.41 255.97,310.42 255.66,310.51 C255.35,310.61 255.54,310.63 255.04,310.79 C254.54,310.95 253.23,311.28 252.64,311.48 C252.05,311.67 252.01,311.85 251.50,311.98 C250.99,312.11 250.36,312.09 249.59,312.24 C248.83,312.39 247.68,312.67 246.91,312.90 C246.14,313.13 246.11,313.40 244.97,313.63 C243.83,313.86 241.29,314.11 240.04,314.29 C238.80,314.47 238.64,314.60 237.51,314.69 C236.37,314.77 234.41,314.68 233.22,314.81 C232.04,314.94 231.30,315.35 230.37,315.45 C229.44,315.56 228.92,315.37 227.63,315.42 C226.35,315.48 223.94,315.68 222.65,315.77 C221.37,315.86 221.25,316.00 219.92,315.96 C218.59,315.93 216.12,315.62 214.68,315.56 C213.24,315.49 212.53,315.51 211.29,315.59 C210.06,315.67 208.52,316.03 207.27,316.05 C206.02,316.07 204.70,315.77 203.79,315.71 C202.88,315.66 202.72,315.83 201.82,315.70 C200.93,315.58 199.31,315.02 198.43,314.94 C197.54,314.86 197.48,315.26 196.51,315.22 C195.54,315.19 193.70,314.75 192.62,314.72 C191.54,314.69 191.07,315.08 190.03,315.05 C189.00,315.02 187.11,314.78 186.41,314.54 C185.72,314.30 186.17,313.79 185.87,313.60 C185.57,313.42 185.28,313.61 184.63,313.43 C183.97,313.25 182.37,312.88 181.95,312.53 C181.53,312.17 182.33,311.50 182.12,311.32 C181.91,311.14 181.12,311.63 180.66,311.44 C180.20,311.25 179.79,310.41 179.36,310.18 C178.93,309.95 178.21,310.21 178.10,310.07 C177.99,309.93 178.63,309.61 178.70,309.33 C178.76,309.04 178.50,308.50 178.48,308.34 C178.45,308.19 178.71,308.57 178.56,308.42 C178.41,308.27 177.79,307.67 177.58,307.45 C177.38,307.22 177.01,307.12 177.32,307.04Z" fill="#f0d6b4" fill-opacity="0.26"/>
<path d="M205.56,291.50 C205.72,291.81 205.55,292.14 205.05,292.43 C204.55,292.73 203.50,293.01 202.57,293.27 C201.64,293.53 200.49,293.76 199.46,293.99 C198.44,294.22 197.50,294.44 196.41,294.64 C195.33,294.83 194.20,295.01 192.97,295.16 C191.73,295.31 190.25,295.40 189.03,295.52 C187.80,295.64 186.55,295.71 185.62,295.89 C184.69,296.07 184.13,296.31 183.44,296.61 C182.75,296.92 182.38,297.38 181.49,297.72 C180.59,298.07 179.47,298.50 178.06,298.68 C176.66,298.86 174.71,298.91 173.03,298.81 C171.36,298.71 169.50,298.35 168.00,298.08 C166.50,297.82 165.33,297.41 164.06,297.22 C162.79,297.03 161.77,296.95 160.37,296.94 C158.98,296.94 157.32,297.13 155.69,297.18 C154.06,297.24 152.04,297.34 150.59,297.27 C149.14,297.19 147.85,296.98 146.99,296.74 C146.13,296.49 145.93,296.10 145.43,295.82 C144.93,295.53 144.79,295.24 144.00,295.02 C143.22,294.80 142.03,294.68 140.72,294.51 C139.42,294.34 137.48,294.22 136.17,294.02 C134.85,293.82 133.51,293.57 132.82,293.30 C132.12,293.03 132.05,292.71 132.01,292.41 C131.98,292.11 132.46,291.80 132.60,291.50 C132.73,291.20 132.81,290.92 132.82,290.61 C132.82,290.31 132.55,290.00 132.63,289.69 C132.70,289.38 132.83,289.05 133.26,288.75 C133.69,288.45 134.45,288.16 135.22,287.88 C135.98,287.60 136.91,287.34 137.84,287.08 C138.77,286.81 139.62,286.52 140.80,286.30 C141.97,286.08 143.25,285.83 144.88,285.74 C146.51,285.65 148.61,285.64 150.59,285.74 C152.57,285.83 154.93,286.12 156.75,286.31 C158.58,286.50 160.21,286.81 161.55,286.90 C162.89,286.98 163.70,286.97 164.78,286.82 C165.85,286.68 166.75,286.30 168.00,286.03 C169.25,285.77 170.83,285.39 172.30,285.25 C173.77,285.12 175.50,285.11 176.83,285.20 C178.16,285.29 179.24,285.61 180.31,285.82 C181.38,286.03 182.06,286.31 183.25,286.45 C184.45,286.59 185.79,286.61 187.48,286.65 C189.16,286.68 191.48,286.60 193.37,286.65 C195.25,286.71 197.44,286.79 198.82,286.98 C200.19,287.17 201.06,287.49 201.61,287.79 C202.16,288.09 201.94,288.48 202.10,288.80 C202.26,289.12 202.22,289.43 202.56,289.73 C202.90,290.03 203.64,290.30 204.14,290.59 C204.64,290.89 205.41,291.19 205.56,291.50Z" fill="#c88890" fill-opacity="0.3"/>
<path d="M179.58,290.50 C179.70,290.66 179.89,290.83 180.01,291.00 C180.12,291.17 180.23,291.35 180.27,291.54 C180.30,291.72 180.27,291.90 180.21,292.09 C180.15,292.29 180.08,292.49 179.92,292.68 C179.75,292.88 179.59,293.10 179.20,293.27 C178.81,293.44 178.29,293.62 177.57,293.72 C176.85,293.82 175.84,293.87 174.88,293.87 C173.92,293.87 172.74,293.77 171.82,293.72 C170.89,293.66 170.02,293.55 169.32,293.55 C168.61,293.54 168.14,293.59 167.58,293.68 C167.03,293.77 166.59,293.96 165.99,294.09 C165.39,294.21 164.69,294.37 164.00,294.42 C163.31,294.46 162.52,294.43 161.86,294.36 C161.21,294.29 160.63,294.10 160.07,293.98 C159.52,293.86 159.11,293.71 158.53,293.64 C157.95,293.56 157.34,293.55 156.61,293.54 C155.88,293.52 154.94,293.57 154.16,293.55 C153.37,293.52 152.49,293.48 151.91,293.37 C151.33,293.27 150.93,293.10 150.67,292.93 C150.41,292.76 150.45,292.55 150.35,292.37 C150.25,292.20 150.24,292.03 150.07,291.87 C149.89,291.71 149.57,291.58 149.29,291.44 C149.00,291.29 148.58,291.15 148.34,290.99 C148.10,290.83 147.92,290.66 147.86,290.50 C147.81,290.34 147.91,290.16 148.03,290.00 C148.16,289.84 148.37,289.68 148.61,289.52 C148.86,289.37 149.14,289.21 149.50,289.07 C149.87,288.94 150.33,288.81 150.80,288.69 C151.27,288.57 151.86,288.48 152.31,288.37 C152.76,288.26 153.20,288.16 153.50,288.01 C153.81,287.85 153.93,287.66 154.16,287.45 C154.38,287.24 154.48,286.96 154.86,286.74 C155.24,286.53 155.76,286.28 156.44,286.17 C157.13,286.05 158.10,286.01 158.97,286.04 C159.85,286.08 160.87,286.24 161.71,286.36 C162.54,286.48 163.28,286.66 164.00,286.75 C164.72,286.84 165.31,286.87 166.01,286.88 C166.70,286.89 167.44,286.82 168.16,286.82 C168.87,286.82 169.70,286.81 170.30,286.89 C170.91,286.97 171.44,287.13 171.80,287.29 C172.16,287.46 172.27,287.70 172.48,287.87 C172.70,288.05 172.77,288.22 173.09,288.34 C173.42,288.46 173.88,288.52 174.44,288.60 C174.99,288.67 175.79,288.71 176.41,288.80 C177.02,288.88 177.68,288.99 178.11,289.11 C178.54,289.24 178.78,289.40 178.97,289.55 C179.16,289.70 179.17,289.86 179.27,290.02 C179.37,290.18 179.45,290.34 179.58,290.50Z" fill="#a07080" fill-opacity="0.3"/>
<path d="M434.00,291.92 C433.66,291.48 434.38,291.32 434.42,290.81 C434.45,290.30 434.21,289.49 434.20,288.89 C434.18,288.28 434.37,287.62 434.32,287.17 C434.26,286.72 434.14,286.55 433.86,286.18 C433.57,285.81 432.69,285.57 432.60,284.97 C432.51,284.36 433.09,283.04 433.32,282.55 C433.54,282.06 433.84,282.42 433.96,282.02 C434.08,281.62 433.91,280.49 434.05,280.15 C434.19,279.82 434.50,280.33 434.79,279.99 C435.07,279.65 435.58,278.65 435.75,278.12 C435.92,277.59 435.75,277.21 435.80,276.81 C435.85,276.41 435.61,275.97 436.04,275.72 C436.47,275.47 437.62,275.40 438.38,275.32 C439.14,275.23 439.91,275.20 440.61,275.22 C441.31,275.23 441.66,275.47 442.58,275.39 C443.50,275.32 445.17,274.92 446.11,274.77 C447.04,274.61 447.46,274.63 448.19,274.46 C448.91,274.29 449.67,273.87 450.46,273.73 C451.25,273.60 451.89,273.64 452.92,273.63 C453.96,273.62 455.38,273.65 456.68,273.68 C457.98,273.72 459.68,273.90 460.74,273.82 C461.80,273.74 461.99,273.27 463.04,273.20 C464.09,273.13 466.00,273.46 467.03,273.42 C468.06,273.37 468.29,272.93 469.19,272.92 C470.10,272.91 471.06,273.36 472.45,273.37 C473.84,273.38 476.25,272.90 477.53,273.00 C478.81,273.10 479.22,273.93 480.13,273.96 C481.04,274.00 481.88,273.20 482.99,273.19 C484.10,273.19 485.60,273.73 486.82,273.93 C488.03,274.13 489.37,274.28 490.28,274.39 C491.20,274.51 491.37,274.58 492.29,274.62 C493.20,274.67 495.04,274.50 495.77,274.66 C496.51,274.83 496.10,275.31 496.70,275.59 C497.30,275.86 498.31,276.16 499.39,276.33 C500.48,276.51 502.21,276.52 503.20,276.66 C504.18,276.80 505.06,276.91 505.29,277.19 C505.53,277.47 504.62,277.72 504.61,278.33 C504.60,278.95 504.79,280.23 505.22,280.89 C505.64,281.54 506.96,281.70 507.16,282.28 C507.37,282.85 506.32,283.64 506.46,284.32 C506.60,285.00 507.89,285.80 508.00,286.35 C508.11,286.90 507.34,286.98 507.14,287.61 C506.94,288.25 506.67,289.62 506.79,290.16 C506.92,290.70 507.84,290.30 507.89,290.86 C507.93,291.42 507.24,292.92 507.06,293.51 C506.89,294.10 506.97,293.99 506.83,294.40 C506.69,294.82 506.70,295.48 506.25,296.00 C505.79,296.53 505.00,297.08 504.10,297.55 C503.20,298.02 501.81,298.59 500.85,298.81 C499.88,299.04 499.31,298.89 498.29,298.93 C497.27,298.97 495.71,299.04 494.70,299.07 C493.69,299.09 493.15,299.07 492.23,299.08 C491.31,299.10 490.28,299.06 489.17,299.14 C488.06,299.23 486.78,299.50 485.55,299.60 C484.32,299.71 482.92,299.76 481.81,299.77 C480.70,299.78 480.06,299.59 478.89,299.67 C477.72,299.74 475.95,300.20 474.79,300.23 C473.62,300.26 473.07,299.79 471.90,299.82 C470.73,299.85 468.88,300.46 467.78,300.40 C466.68,300.35 466.37,299.64 465.30,299.49 C464.23,299.34 462.40,299.59 461.38,299.50 C460.36,299.40 460.14,299.04 459.17,298.91 C458.19,298.78 456.83,298.82 455.54,298.73 C454.26,298.63 452.51,298.34 451.43,298.35 C450.35,298.35 450.16,298.88 449.06,298.78 C447.96,298.68 445.81,297.97 444.81,297.75 C443.81,297.53 443.75,297.80 443.05,297.46 C442.35,297.11 441.32,296.03 440.62,295.68 C439.93,295.34 439.49,295.66 438.89,295.38 C438.30,295.10 437.46,294.33 437.05,294.00 C436.64,293.68 436.94,293.80 436.43,293.45 C435.92,293.10 434.33,292.36 434.00,291.92Z" fill="#f0ccb4" fill-opacity="0.3"/>
<path d="M445.03,289.80 C444.89,289.45 444.71,289.37 444.59,289.08 C444.47,288.78 444.42,288.33 444.31,288.03 C444.20,287.73 443.88,287.66 443.93,287.27 C443.98,286.87 444.52,286.04 444.59,285.68 C444.66,285.32 444.50,285.36 444.35,285.10 C444.20,284.85 443.67,284.43 443.71,284.13 C443.75,283.83 444.45,283.56 444.57,283.31 C444.68,283.06 444.30,282.94 444.42,282.63 C444.55,282.32 445.27,281.82 445.29,281.45 C445.31,281.09 444.56,280.73 444.52,280.44 C444.49,280.15 444.73,280.01 445.08,279.71 C445.42,279.41 446.12,278.77 446.60,278.62 C447.08,278.48 447.58,278.84 447.93,278.86 C448.29,278.88 448.29,278.89 448.72,278.75 C449.15,278.62 449.85,278.12 450.51,278.04 C451.17,277.96 451.99,278.31 452.66,278.26 C453.32,278.22 454.00,277.83 454.52,277.78 C455.04,277.73 455.10,278.05 455.77,277.96 C456.44,277.87 457.82,277.37 458.56,277.23 C459.30,277.08 459.69,277.14 460.24,277.08 C460.78,277.02 460.98,276.90 461.84,276.89 C462.70,276.88 464.55,276.95 465.41,277.04 C466.27,277.12 466.19,277.34 467.01,277.39 C467.82,277.45 469.53,277.52 470.27,277.39 C471.01,277.26 470.87,276.67 471.42,276.62 C471.97,276.56 472.60,276.89 473.56,277.06 C474.52,277.23 476.23,277.53 477.18,277.64 C478.12,277.76 478.51,277.83 479.23,277.74 C479.95,277.66 480.90,277.22 481.50,277.13 C482.10,277.05 482.31,277.06 482.85,277.23 C483.39,277.40 484.03,277.93 484.76,278.13 C485.49,278.33 486.56,278.29 487.24,278.42 C487.92,278.54 488.22,278.76 488.82,278.90 C489.41,279.03 490.26,279.15 490.82,279.24 C491.38,279.33 491.78,279.26 492.19,279.41 C492.59,279.57 492.90,279.97 493.26,280.18 C493.62,280.39 494.01,280.38 494.34,280.67 C494.68,280.96 495.22,281.50 495.28,281.93 C495.35,282.36 494.84,282.78 494.74,283.25 C494.65,283.72 494.54,284.27 494.70,284.75 C494.86,285.22 495.40,285.60 495.70,286.10 C496.01,286.61 496.56,287.43 496.54,287.79 C496.51,288.14 495.60,287.89 495.55,288.22 C495.51,288.55 496.23,289.32 496.27,289.78 C496.32,290.24 495.94,290.66 495.82,290.97 C495.69,291.28 495.83,291.18 495.51,291.63 C495.19,292.07 494.28,293.15 493.91,293.63 C493.54,294.10 493.66,294.26 493.30,294.48 C492.94,294.70 492.33,294.87 491.73,294.95 C491.14,295.03 490.44,295.04 489.72,294.99 C489.00,294.93 488.22,294.57 487.41,294.60 C486.59,294.64 485.63,295.09 484.83,295.20 C484.04,295.31 483.50,295.19 482.64,295.26 C481.78,295.32 480.32,295.50 479.66,295.61 C479.00,295.71 479.47,295.79 478.68,295.87 C477.89,295.96 475.70,296.14 474.92,296.12 C474.13,296.10 474.72,295.84 473.97,295.73 C473.21,295.62 471.36,295.43 470.36,295.48 C469.37,295.53 468.75,295.89 468.02,296.03 C467.29,296.17 466.62,296.46 465.96,296.34 C465.31,296.22 464.82,295.49 464.10,295.31 C463.39,295.12 462.61,295.26 461.68,295.21 C460.75,295.17 459.30,295.00 458.52,295.03 C457.75,295.06 457.69,295.43 457.02,295.42 C456.35,295.41 455.16,295.14 454.50,294.96 C453.83,294.79 453.68,294.56 453.02,294.39 C452.37,294.22 451.06,294.23 450.58,293.93 C450.09,293.63 450.46,292.91 450.12,292.60 C449.78,292.29 449.06,292.17 448.53,292.05 C448.00,291.92 447.46,292.00 446.94,291.86 C446.42,291.72 445.73,291.55 445.41,291.21 C445.09,290.86 445.17,290.16 445.03,289.80Z" fill="#f0ccb4" fill-opacity="0.3"/>
<path d="M439.49,291.82 C439.92,291.38 442.21,291.15 443.52,290.89 C444.83,290.62 446.38,290.55 447.38,290.23 C448.37,289.91 448.36,289.22 449.48,288.99 C450.60,288.76 452.81,289.00 454.10,288.85 C455.38,288.71 456.13,288.47 457.18,288.11 C458.23,287.75 459.27,286.93 460.41,286.70 C461.55,286.48 462.93,286.80 464.03,286.78 C465.14,286.75 465.96,286.66 467.03,286.55 C468.10,286.43 469.53,286.19 470.44,286.09 C471.36,286.00 471.46,286.10 472.52,285.98 C473.58,285.86 475.57,285.63 476.83,285.38 C478.09,285.13 479.12,284.52 480.08,284.49 C481.05,284.45 481.51,285.07 482.61,285.19 C483.72,285.31 485.55,285.31 486.71,285.20 C487.86,285.10 488.51,284.62 489.56,284.54 C490.61,284.47 491.80,284.71 493.03,284.75 C494.25,284.80 495.64,284.75 496.91,284.79 C498.18,284.82 499.63,284.76 500.65,284.97 C501.67,285.19 501.99,285.79 503.05,286.08 C504.11,286.36 505.96,286.56 507.00,286.67 C508.05,286.77 508.26,286.58 509.33,286.71 C510.39,286.83 512.13,287.06 513.37,287.40 C514.60,287.73 515.68,288.45 516.75,288.71 C517.83,288.97 518.97,288.74 519.81,288.96 C520.65,289.18 521.46,289.60 521.80,290.04 C522.13,290.48 521.60,291.03 521.83,291.59 C522.07,292.16 522.74,293.03 523.20,293.44 C523.66,293.84 523.99,293.65 524.59,294.03 C525.20,294.42 526.25,295.30 526.84,295.74 C527.43,296.17 528.16,296.23 528.14,296.63 C528.12,297.03 527.10,297.48 526.74,298.12 C526.37,298.77 526.37,299.97 525.94,300.49 C525.52,301.01 524.70,300.84 524.18,301.23 C523.65,301.63 523.25,302.37 522.77,302.85 C522.30,303.33 521.90,303.59 521.33,304.10 C520.75,304.62 520.13,305.48 519.31,305.95 C518.50,306.42 517.55,306.66 516.45,306.94 C515.34,307.23 513.69,307.50 512.69,307.67 C511.70,307.83 511.34,307.85 510.48,307.95 C509.62,308.04 508.74,307.92 507.55,308.21 C506.36,308.50 504.57,309.43 503.37,309.69 C502.16,309.94 501.44,309.77 500.33,309.74 C499.22,309.71 497.92,309.39 496.70,309.48 C495.47,309.58 494.13,310.24 492.98,310.31 C491.83,310.38 490.73,309.92 489.80,309.91 C488.86,309.90 488.41,310.27 487.38,310.23 C486.34,310.20 484.74,309.74 483.58,309.70 C482.43,309.67 481.65,309.98 480.47,310.03 C479.30,310.08 477.82,310.14 476.53,310.00 C475.25,309.87 473.81,309.38 472.74,309.22 C471.67,309.06 471.11,309.07 470.10,309.02 C469.09,308.97 467.78,309.08 466.70,308.91 C465.63,308.75 464.82,308.09 463.65,308.01 C462.48,307.92 460.76,308.65 459.68,308.42 C458.60,308.19 458.02,306.96 457.16,306.62 C456.31,306.28 455.51,306.70 454.54,306.37 C453.58,306.04 452.32,305.05 451.38,304.64 C450.43,304.24 449.78,304.24 448.88,303.93 C447.98,303.61 446.83,303.13 446.00,302.75 C445.17,302.36 444.38,301.98 443.92,301.61 C443.47,301.24 443.47,301.02 443.27,300.52 C443.07,300.03 442.87,299.26 442.74,298.65 C442.61,298.05 442.85,297.41 442.47,296.91 C442.10,296.40 440.75,296.17 440.49,295.60 C440.24,295.04 441.08,294.17 440.91,293.54 C440.75,292.91 439.06,292.26 439.49,291.82Z" fill="#ecc4c6" fill-opacity="0.32"/>
<path d="M453.04,293.83 C453.31,293.69 454.23,293.83 454.96,293.55 C455.68,293.26 456.57,292.40 457.39,292.12 C458.21,291.83 459.10,291.94 459.87,291.84 C460.63,291.73 461.16,291.60 461.98,291.48 C462.81,291.37 463.91,291.35 464.82,291.15 C465.73,290.94 466.68,290.43 467.44,290.27 C468.20,290.10 468.63,290.20 469.38,290.17 C470.12,290.14 471.11,290.18 471.90,290.08 C472.70,289.97 473.40,289.62 474.12,289.55 C474.84,289.48 475.36,289.77 476.25,289.65 C477.14,289.54 478.46,288.97 479.46,288.88 C480.45,288.78 481.65,289.16 482.23,289.10 C482.81,289.03 482.39,288.60 482.93,288.48 C483.47,288.36 484.58,288.43 485.46,288.39 C486.34,288.34 487.28,288.13 488.20,288.20 C489.13,288.28 490.15,288.73 491.01,288.85 C491.87,288.97 492.61,288.95 493.36,288.92 C494.11,288.88 494.88,288.57 495.49,288.65 C496.11,288.72 496.25,289.18 497.07,289.35 C497.89,289.51 499.68,289.50 500.43,289.64 C501.18,289.77 500.83,290.03 501.54,290.15 C502.26,290.26 503.75,290.12 504.73,290.32 C505.70,290.53 506.63,291.17 507.40,291.36 C508.18,291.54 508.97,291.33 509.38,291.43 C509.78,291.53 509.63,291.64 509.83,291.95 C510.02,292.25 510.11,292.93 510.52,293.25 C510.93,293.56 511.94,293.47 512.28,293.85 C512.61,294.23 512.18,295.15 512.52,295.54 C512.87,295.93 513.91,295.94 514.35,296.20 C514.80,296.46 515.26,296.84 515.18,297.10 C515.10,297.37 514.17,297.42 513.88,297.78 C513.59,298.15 513.80,298.82 513.45,299.30 C513.11,299.78 512.19,300.39 511.83,300.67 C511.47,300.95 511.48,300.72 511.30,300.96 C511.11,301.20 510.99,301.76 510.74,302.10 C510.50,302.44 510.43,302.76 509.82,303.01 C509.20,303.25 507.93,303.31 507.04,303.55 C506.15,303.79 505.26,304.24 504.48,304.45 C503.69,304.65 503.08,304.62 502.33,304.80 C501.57,304.98 500.85,305.36 499.94,305.54 C499.04,305.73 497.76,305.86 496.88,305.92 C496.01,305.99 495.41,305.88 494.70,305.92 C493.99,305.97 493.25,306.21 492.62,306.20 C491.98,306.19 491.60,305.88 490.88,305.88 C490.16,305.88 488.93,306.07 488.27,306.21 C487.61,306.34 487.57,306.73 486.90,306.72 C486.24,306.71 485.32,306.18 484.26,306.15 C483.20,306.11 481.30,306.52 480.56,306.51 C479.82,306.50 480.50,306.29 479.82,306.09 C479.13,305.88 477.33,305.46 476.44,305.28 C475.55,305.10 475.09,305.05 474.47,305.02 C473.85,304.99 473.54,304.99 472.71,305.07 C471.87,305.16 470.31,305.66 469.48,305.54 C468.64,305.41 468.24,304.57 467.71,304.31 C467.18,304.06 466.97,304.11 466.31,304.00 C465.66,303.90 464.44,303.96 463.80,303.67 C463.16,303.37 463.17,302.60 462.47,302.24 C461.77,301.89 460.38,301.66 459.58,301.54 C458.78,301.42 458.28,301.77 457.66,301.55 C457.04,301.33 456.16,300.66 455.87,300.23 C455.58,299.81 455.94,299.39 455.91,299.02 C455.89,298.64 455.79,298.34 455.74,297.98 C455.69,297.63 455.95,297.15 455.60,296.87 C455.25,296.59 454.03,296.71 453.65,296.30 C453.28,295.88 453.43,294.78 453.33,294.37 C453.23,293.96 452.76,293.97 453.04,293.83Z" fill="#ecc4c6" fill-opacity="0.32"/>
<path d="M520.84,280.29 C520.98,279.58 521.61,279.58 521.60,279.13 C521.59,278.68 520.72,278.02 520.77,277.59 C520.82,277.16 521.55,276.90 521.88,276.53 C522.22,276.16 522.46,275.71 522.79,275.38 C523.13,275.04 523.57,274.87 523.91,274.52 C524.24,274.16 524.03,273.54 524.81,273.26 C525.59,272.99 527.29,273.07 528.58,272.89 C529.87,272.71 531.57,272.32 532.54,272.20 C533.51,272.08 533.34,272.26 534.40,272.16 C535.47,272.07 537.81,271.75 538.93,271.63 C540.04,271.51 540.01,271.48 541.10,271.45 C542.18,271.43 544.13,271.54 545.45,271.49 C546.76,271.44 547.99,271.13 548.98,271.18 C549.98,271.23 550.34,271.76 551.43,271.80 C552.52,271.84 554.25,271.45 555.52,271.43 C556.80,271.41 557.93,271.70 559.09,271.70 C560.26,271.69 561.53,271.34 562.52,271.40 C563.52,271.47 564.04,272.02 565.05,272.09 C566.05,272.17 567.40,271.73 568.56,271.85 C569.72,271.98 570.96,272.64 572.02,272.82 C573.08,272.99 573.87,272.82 574.95,272.92 C576.03,273.02 577.51,273.29 578.50,273.42 C579.48,273.55 579.84,273.66 580.87,273.72 C581.89,273.77 583.62,273.52 584.65,273.74 C585.68,273.97 586.46,274.79 587.05,275.07 C587.63,275.34 587.99,275.12 588.16,275.38 C588.33,275.64 587.80,276.34 588.07,276.62 C588.33,276.90 589.43,276.82 589.75,277.06 C590.07,277.30 589.55,277.77 589.98,278.06 C590.41,278.34 592.14,278.34 592.33,278.74 C592.53,279.14 591.32,279.89 591.14,280.47 C590.96,281.05 591.13,281.58 591.24,282.22 C591.35,282.87 591.90,283.69 591.79,284.33 C591.67,284.97 590.75,285.48 590.53,286.05 C590.31,286.62 590.49,287.06 590.49,287.75 C590.49,288.43 591.07,289.66 590.51,290.17 C589.95,290.69 588.00,290.56 587.13,290.83 C586.26,291.09 586.19,291.42 585.31,291.78 C584.44,292.14 582.89,292.64 581.88,292.99 C580.87,293.33 579.98,293.44 579.25,293.86 C578.53,294.27 578.15,295.20 577.51,295.48 C576.88,295.76 576.49,295.33 575.43,295.53 C574.38,295.74 572.50,296.32 571.19,296.68 C569.88,297.05 568.68,297.44 567.56,297.70 C566.45,297.97 565.52,298.15 564.50,298.26 C563.48,298.38 562.45,298.20 561.45,298.38 C560.45,298.56 559.53,299.17 558.51,299.35 C557.49,299.54 556.60,299.38 555.35,299.49 C554.10,299.61 552.06,299.90 551.00,300.03 C549.95,300.16 549.94,300.30 549.02,300.30 C548.09,300.30 546.78,300.03 545.46,300.04 C544.14,300.04 542.35,300.30 541.09,300.35 C539.83,300.40 538.92,300.17 537.91,300.33 C536.89,300.50 535.82,301.22 534.98,301.33 C534.14,301.44 533.61,301.30 532.85,301.02 C532.09,300.74 531.30,299.83 530.40,299.64 C529.50,299.44 528.29,299.97 527.43,299.86 C526.58,299.74 526.11,299.19 525.27,298.96 C524.42,298.74 523.25,298.63 522.34,298.51 C521.43,298.38 520.07,298.83 519.79,298.20 C519.50,297.58 520.65,295.74 520.64,294.77 C520.64,293.79 519.72,293.37 519.74,292.34 C519.76,291.31 520.68,289.68 520.78,288.57 C520.88,287.47 520.36,286.58 520.36,285.72 C520.35,284.86 520.66,284.32 520.74,283.42 C520.82,282.51 520.70,281.01 520.84,280.29Z" fill="#ccd3ec" fill-opacity="0.36"/>
<path d="M530.70,281.65 C530.72,281.27 530.22,281.24 530.35,280.98 C530.49,280.71 531.29,280.33 531.52,280.06 C531.75,279.78 531.46,279.62 531.73,279.34 C532.00,279.06 532.84,278.64 533.13,278.38 C533.42,278.13 533.42,278.15 533.49,277.82 C533.56,277.49 533.12,276.61 533.54,276.40 C533.96,276.19 535.22,276.59 536.00,276.57 C536.79,276.55 537.30,276.31 538.23,276.28 C539.17,276.24 540.87,276.48 541.62,276.34 C542.38,276.20 542.03,275.62 542.78,275.43 C543.53,275.25 545.13,275.30 546.13,275.21 C547.13,275.12 547.98,274.85 548.78,274.89 C549.58,274.92 550.38,275.38 550.92,275.44 C551.46,275.50 551.22,275.13 552.03,275.22 C552.83,275.32 554.90,275.89 555.75,276.03 C556.60,276.17 556.44,276.14 557.11,276.07 C557.77,276.01 558.88,275.71 559.75,275.64 C560.63,275.58 561.50,275.54 562.35,275.67 C563.21,275.79 564.10,276.28 564.89,276.41 C565.68,276.54 566.44,276.33 567.11,276.43 C567.79,276.53 568.35,276.99 568.92,277.02 C569.50,277.04 569.75,276.51 570.58,276.57 C571.40,276.63 573.07,277.28 573.88,277.38 C574.68,277.48 574.80,277.13 575.40,277.15 C576.00,277.18 577.01,277.37 577.48,277.53 C577.95,277.69 578.04,277.79 578.21,278.11 C578.38,278.44 578.40,279.22 578.51,279.48 C578.62,279.74 578.50,279.52 578.88,279.65 C579.26,279.79 580.45,280.13 580.79,280.27 C581.12,280.41 580.85,280.20 580.87,280.51 C580.89,280.81 580.96,281.68 580.89,282.11 C580.83,282.55 580.64,282.64 580.47,283.11 C580.29,283.59 579.77,284.57 579.84,284.96 C579.92,285.36 581.05,285.13 580.92,285.47 C580.79,285.82 579.19,286.55 579.04,287.05 C578.89,287.55 580.21,288.08 580.00,288.48 C579.80,288.88 578.37,289.25 577.84,289.44 C577.30,289.62 577.50,289.44 576.78,289.58 C576.06,289.71 574.23,289.98 573.52,290.24 C572.81,290.49 573.07,290.72 572.52,291.09 C571.96,291.46 570.71,292.22 570.20,292.45 C569.68,292.68 570.16,292.29 569.43,292.45 C568.71,292.62 566.66,293.18 565.84,293.44 C565.03,293.69 565.26,293.88 564.56,293.98 C563.86,294.09 562.50,294.04 561.65,294.07 C560.80,294.10 560.11,294.03 559.46,294.17 C558.82,294.31 558.38,294.67 557.76,294.91 C557.13,295.14 556.63,295.41 555.73,295.58 C554.82,295.76 553.33,296.00 552.33,295.96 C551.34,295.91 550.61,295.37 549.75,295.32 C548.89,295.27 547.82,295.53 547.17,295.66 C546.52,295.79 546.46,296.05 545.84,296.09 C545.22,296.12 544.31,295.87 543.46,295.84 C542.61,295.81 541.47,295.91 540.72,295.91 C539.96,295.91 539.53,295.85 538.94,295.83 C538.36,295.81 537.59,295.90 537.21,295.78 C536.82,295.67 537.27,295.23 536.65,295.15 C536.03,295.06 534.14,295.42 533.49,295.29 C532.85,295.17 533.20,294.55 532.78,294.40 C532.35,294.26 531.44,294.90 530.94,294.43 C530.43,293.96 529.92,292.40 529.73,291.57 C529.54,290.74 529.53,290.02 529.80,289.45 C530.07,288.89 531.16,288.73 531.35,288.17 C531.55,287.60 531.16,286.91 530.97,286.08 C530.78,285.25 530.28,283.94 530.23,283.20 C530.19,282.46 530.68,282.02 530.70,281.65Z" fill="#ccd3ec" fill-opacity="0.36"/>
<path d="M455.28,285.12 C455.35,284.52 456.26,284.15 456.49,283.66 C456.72,283.17 456.37,282.60 456.65,282.15 C456.92,281.70 457.82,281.38 458.13,280.95 C458.44,280.51 458.45,279.90 458.51,279.54 C458.57,279.18 458.38,279.17 458.49,278.80 C458.60,278.42 458.30,277.65 459.15,277.29 C459.99,276.93 462.30,276.92 463.56,276.64 C464.82,276.36 465.70,275.86 466.71,275.61 C467.73,275.36 468.71,275.37 469.67,275.15 C470.62,274.92 471.18,274.56 472.46,274.26 C473.74,273.96 476.09,273.49 477.35,273.35 C478.61,273.20 479.00,273.57 480.01,273.40 C481.02,273.23 482.36,272.52 483.41,272.32 C484.47,272.13 485.23,272.34 486.32,272.24 C487.41,272.13 488.82,271.74 489.97,271.68 C491.13,271.62 492.11,271.94 493.27,271.89 C494.43,271.85 495.96,271.61 496.95,271.43 C497.94,271.24 498.25,270.95 499.22,270.80 C500.18,270.65 501.60,270.45 502.74,270.51 C503.88,270.57 504.93,271.12 506.08,271.18 C507.23,271.24 508.38,270.98 509.62,270.87 C510.85,270.76 512.34,270.59 513.50,270.51 C514.66,270.42 515.51,270.49 516.60,270.37 C517.70,270.26 519.08,269.88 520.08,269.82 C521.08,269.76 521.58,269.96 522.60,270.01 C523.62,270.06 525.09,270.05 526.22,270.12 C527.35,270.19 528.08,270.33 529.38,270.45 C530.68,270.57 532.68,270.94 534.02,270.85 C535.36,270.76 536.43,269.93 537.44,269.92 C538.45,269.91 539.18,270.56 540.09,270.79 C540.99,271.03 541.91,271.00 542.86,271.32 C543.80,271.65 544.59,272.49 545.78,272.75 C546.98,273.02 548.87,272.76 550.03,272.92 C551.19,273.09 551.71,273.34 552.73,273.72 C553.75,274.10 555.07,274.89 556.15,275.22 C557.24,275.55 558.48,275.29 559.25,275.69 C560.02,276.09 560.15,277.07 560.76,277.61 C561.36,278.15 562.39,278.41 562.87,278.94 C563.35,279.47 563.41,280.22 563.66,280.79 C563.91,281.37 564.13,281.75 564.36,282.40 C564.59,283.05 564.81,284.15 565.06,284.70 C565.32,285.25 565.80,285.23 565.89,285.70 C565.98,286.17 565.97,287.09 565.60,287.52 C565.22,287.96 563.94,287.90 563.65,288.34 C563.36,288.78 564.08,289.73 563.86,290.16 C563.63,290.60 562.87,290.54 562.31,290.95 C561.75,291.37 560.96,292.09 560.50,292.65 C560.04,293.21 560.13,294.03 559.55,294.33 C558.98,294.63 558.03,294.26 557.04,294.46 C556.04,294.66 554.64,295.17 553.58,295.53 C552.51,295.88 551.96,296.39 550.66,296.61 C549.36,296.83 546.97,296.60 545.79,296.85 C544.62,297.11 544.46,297.84 543.63,298.15 C542.81,298.47 541.89,298.58 540.84,298.76 C539.79,298.93 538.49,299.01 537.36,299.22 C536.23,299.43 535.18,299.74 534.05,300.00 C532.91,300.26 531.67,300.65 530.56,300.78 C529.44,300.91 528.69,300.62 527.36,300.77 C526.02,300.91 523.87,301.37 522.53,301.64 C521.18,301.91 520.28,302.32 519.29,302.41 C518.31,302.49 517.49,302.16 516.63,302.16 C515.78,302.17 515.34,302.30 514.16,302.42 C512.98,302.54 510.74,302.79 509.56,302.88 C508.38,302.98 508.04,302.97 507.08,303.01 C506.12,303.05 505.09,303.04 503.81,303.12 C502.53,303.19 500.62,303.54 499.42,303.44 C498.22,303.33 497.64,302.62 496.62,302.49 C495.60,302.35 494.26,302.79 493.29,302.64 C492.31,302.49 491.74,301.74 490.76,301.59 C489.77,301.43 488.48,301.76 487.37,301.71 C486.26,301.66 485.46,301.33 484.10,301.27 C482.74,301.21 480.46,301.57 479.22,301.36 C477.98,301.15 477.62,300.38 476.66,300.02 C475.70,299.66 474.52,299.51 473.47,299.19 C472.42,298.87 471.58,298.38 470.37,298.09 C469.16,297.80 467.39,297.59 466.22,297.44 C465.06,297.30 464.51,297.43 463.40,297.21 C462.29,296.98 460.20,296.55 459.58,296.11 C458.97,295.68 459.82,295.16 459.70,294.59 C459.58,294.02 459.18,293.45 458.88,292.72 C458.57,291.99 458.16,290.82 457.88,290.23 C457.60,289.64 457.52,289.67 457.21,289.17 C456.90,288.68 456.36,287.92 456.03,287.25 C455.71,286.57 455.20,285.71 455.28,285.12Z" fill="#c6dcc2" fill-opacity="0.38"/>
<path d="M470.21,284.75 C470.47,284.35 471.60,284.69 471.87,284.42 C472.14,284.15 471.92,283.41 471.84,283.14 C471.76,282.88 471.13,283.17 471.38,282.83 C471.64,282.48 473.02,281.45 473.35,281.06 C473.69,280.68 473.23,280.73 473.38,280.50 C473.53,280.27 473.65,279.89 474.24,279.70 C474.82,279.51 476.21,279.55 476.88,279.35 C477.55,279.14 477.58,278.73 478.26,278.48 C478.95,278.22 480.25,277.94 481.00,277.83 C481.75,277.72 481.88,277.95 482.76,277.82 C483.65,277.68 485.27,277.24 486.29,277.02 C487.32,276.81 488.31,276.58 488.93,276.51 C489.56,276.44 489.33,276.66 490.04,276.60 C490.76,276.55 492.42,276.31 493.23,276.20 C494.03,276.08 493.95,275.91 494.86,275.89 C495.77,275.86 497.77,276.19 498.69,276.05 C499.62,275.92 499.68,275.15 500.40,275.08 C501.13,275.01 502.15,275.59 503.06,275.62 C503.98,275.65 505.00,275.40 505.88,275.26 C506.76,275.12 507.75,274.76 508.35,274.76 C508.95,274.75 508.79,275.29 509.50,275.21 C510.22,275.13 511.87,274.37 512.64,274.28 C513.41,274.19 513.40,274.58 514.12,274.67 C514.85,274.75 515.95,274.89 517.01,274.79 C518.08,274.69 519.71,274.13 520.51,274.06 C521.32,273.98 521.21,274.20 521.83,274.36 C522.44,274.53 523.35,275.05 524.21,275.06 C525.07,275.08 526.17,274.59 526.99,274.47 C527.80,274.36 528.35,274.30 529.11,274.39 C529.86,274.48 530.81,274.79 531.54,275.02 C532.27,275.25 532.63,275.56 533.48,275.77 C534.33,275.98 535.69,276.06 536.66,276.29 C537.63,276.51 538.51,276.91 539.31,277.12 C540.11,277.34 540.63,277.46 541.46,277.59 C542.28,277.73 543.48,277.82 544.25,277.95 C545.01,278.07 545.72,278.04 546.03,278.35 C546.33,278.67 545.75,279.42 546.08,279.84 C546.42,280.26 547.58,280.38 548.02,280.88 C548.46,281.38 548.55,282.45 548.72,282.84 C548.89,283.22 548.84,282.96 549.03,283.20 C549.22,283.44 549.52,283.87 549.89,284.29 C550.25,284.70 551.37,285.23 551.21,285.68 C551.04,286.13 549.27,286.65 548.91,287.00 C548.55,287.35 549.04,287.43 549.06,287.76 C549.08,288.09 549.20,288.55 549.01,288.98 C548.82,289.40 548.43,289.99 547.92,290.31 C547.42,290.64 546.22,290.70 545.99,290.91 C545.76,291.11 547.03,291.39 546.55,291.56 C546.07,291.72 544.11,291.58 543.13,291.89 C542.14,292.20 541.24,293.17 540.64,293.41 C540.04,293.65 540.24,293.20 539.53,293.32 C538.82,293.44 537.35,293.88 536.36,294.12 C535.38,294.36 534.44,294.51 533.60,294.74 C532.76,294.97 531.93,295.44 531.31,295.52 C530.69,295.59 530.64,295.14 529.88,295.19 C529.11,295.24 527.73,295.56 526.72,295.82 C525.71,296.07 524.47,296.56 523.81,296.70 C523.16,296.85 523.42,296.62 522.80,296.68 C522.17,296.73 521.01,296.99 520.07,297.05 C519.13,297.10 517.92,296.85 517.15,297.03 C516.38,297.20 516.10,298.04 515.44,298.09 C514.77,298.14 513.93,297.38 513.15,297.32 C512.37,297.26 511.65,297.68 510.76,297.74 C509.87,297.80 508.70,297.61 507.80,297.70 C506.91,297.79 506.20,298.16 505.38,298.29 C504.56,298.42 503.63,298.60 502.89,298.48 C502.16,298.36 501.80,297.68 500.96,297.57 C500.13,297.45 498.71,297.83 497.89,297.77 C497.08,297.71 496.77,297.27 496.05,297.20 C495.33,297.14 494.55,297.33 493.56,297.38 C492.57,297.43 490.92,297.52 490.09,297.50 C489.27,297.49 489.19,297.46 488.61,297.28 C488.04,297.10 487.48,296.77 486.64,296.42 C485.81,296.07 484.62,295.40 483.62,295.18 C482.62,294.96 481.38,295.23 480.66,295.10 C479.93,294.98 480.11,294.55 479.27,294.42 C478.43,294.29 476.44,294.51 475.64,294.31 C474.84,294.11 474.69,293.61 474.46,293.24 C474.22,292.86 474.49,292.51 474.23,292.08 C473.98,291.65 473.39,291.09 472.95,290.68 C472.51,290.26 471.85,290.01 471.60,289.57 C471.35,289.13 471.67,288.49 471.46,288.04 C471.25,287.58 470.54,287.39 470.34,286.84 C470.13,286.29 469.96,285.15 470.21,284.75Z" fill="#c6dcc2" fill-opacity="0.38"/>
<path d="M449.42,304.32 C449.97,304.14 452.48,303.89 453.68,303.79 C454.88,303.68 455.58,303.74 456.61,303.68 C457.65,303.62 458.85,303.54 459.91,303.43 C460.97,303.31 461.87,303.24 462.97,302.99 C464.07,302.74 465.37,302.04 466.50,301.91 C467.63,301.78 468.45,302.25 469.76,302.23 C471.07,302.21 472.75,301.86 474.35,301.80 C475.95,301.74 477.57,301.91 479.35,301.85 C481.14,301.80 483.37,301.40 485.04,301.49 C486.70,301.58 487.63,302.39 489.37,302.40 C491.11,302.40 493.70,301.54 495.45,301.52 C497.20,301.50 498.16,302.14 499.89,302.28 C501.61,302.43 504.24,302.45 505.79,302.39 C507.33,302.33 507.49,301.86 509.16,301.94 C510.84,302.01 514.04,302.70 515.85,302.86 C517.67,303.03 518.43,302.94 520.08,302.91 C521.72,302.87 524.14,302.65 525.73,302.66 C527.31,302.67 528.67,302.75 529.57,302.98 C530.48,303.20 530.49,303.78 531.18,304.00 C531.87,304.23 532.87,304.19 533.71,304.33 C534.54,304.47 535.59,304.74 536.20,304.83 C536.82,304.92 536.75,304.74 537.39,304.86 C538.03,304.99 539.40,305.33 540.05,305.60 C540.70,305.86 540.96,306.27 541.30,306.44 C541.63,306.61 542.30,306.29 542.06,306.62 C541.82,306.94 540.18,307.95 539.86,308.39 C539.54,308.84 540.23,309.06 540.16,309.28 C540.09,309.50 539.77,309.43 539.46,309.69 C539.15,309.96 538.42,310.52 538.30,310.86 C538.18,311.19 539.29,311.46 538.73,311.71 C538.17,311.96 536.40,312.15 534.96,312.33 C533.51,312.51 531.44,312.52 530.04,312.78 C528.63,313.03 527.79,313.63 526.55,313.86 C525.30,314.10 523.74,314.14 522.59,314.18 C521.45,314.23 520.94,314.09 519.67,314.15 C518.40,314.21 516.75,314.45 514.99,314.55 C513.24,314.66 510.93,314.64 509.13,314.76 C507.34,314.89 506.25,315.33 504.23,315.30 C502.20,315.27 499.10,314.56 496.98,314.56 C494.86,314.56 493.47,315.19 491.51,315.30 C489.55,315.41 487.15,315.28 485.21,315.23 C483.28,315.17 481.39,315.13 479.92,314.98 C478.44,314.84 477.72,314.50 476.38,314.38 C475.03,314.27 473.22,314.41 471.87,314.30 C470.52,314.18 469.22,313.83 468.28,313.68 C467.34,313.54 467.23,313.55 466.23,313.43 C465.24,313.31 463.60,312.99 462.31,312.98 C461.01,312.96 459.49,313.54 458.45,313.35 C457.42,313.16 456.66,312.19 456.10,311.83 C455.54,311.46 455.40,311.38 455.11,311.17 C454.82,310.95 454.61,310.73 454.36,310.53 C454.10,310.33 454.08,310.03 453.56,309.96 C453.05,309.89 451.72,310.23 451.27,310.10 C450.83,309.96 450.90,309.43 450.90,309.14 C450.89,308.86 451.22,308.66 451.22,308.38 C451.22,308.09 450.92,307.77 450.88,307.44 C450.84,307.11 451.07,306.66 450.96,306.38 C450.86,306.09 450.37,306.00 450.27,305.74 C450.17,305.49 450.50,305.10 450.36,304.86 C450.21,304.62 448.87,304.50 449.42,304.32Z" fill="#ccd3ec" fill-opacity="0.28"/>
<path d="M545.88,285.50 C546.57,285.84 547.34,286.24 547.46,286.60 C547.58,286.96 547.19,287.35 546.60,287.67 C546.01,287.99 544.79,288.25 543.92,288.52 C543.05,288.78 542.04,288.98 541.39,289.26 C540.75,289.54 540.48,289.85 540.07,290.19 C539.65,290.52 539.53,290.96 538.90,291.25 C538.26,291.55 537.41,291.85 536.27,291.95 C535.13,292.05 533.48,291.98 532.05,291.85 C530.63,291.73 528.98,291.38 527.73,291.18 C526.48,290.98 525.46,290.73 524.56,290.68 C523.66,290.63 523.09,290.74 522.33,290.90 C521.57,291.06 520.88,291.41 520.00,291.65 C519.12,291.88 518.08,292.18 517.05,292.32 C516.03,292.46 514.88,292.51 513.85,292.48 C512.83,292.46 511.82,292.33 510.91,292.18 C510.00,292.04 509.15,291.83 508.39,291.62 C507.63,291.41 506.95,291.16 506.36,290.91 C505.77,290.66 505.32,290.37 504.84,290.11 C504.37,289.85 504.03,289.58 503.50,289.35 C502.97,289.12 502.39,288.93 501.66,288.72 C500.93,288.52 499.93,288.35 499.15,288.13 C498.37,287.90 497.42,287.66 496.96,287.38 C496.50,287.10 496.31,286.76 496.38,286.45 C496.45,286.13 497.04,285.80 497.37,285.50 C497.70,285.20 498.24,284.93 498.34,284.63 C498.44,284.33 498.21,284.04 497.98,283.70 C497.75,283.36 497.08,282.96 496.95,282.59 C496.83,282.23 496.76,281.80 497.22,281.50 C497.69,281.19 498.72,280.95 499.74,280.77 C500.75,280.59 502.24,280.55 503.31,280.42 C504.37,280.29 505.36,280.22 506.11,279.99 C506.86,279.77 507.22,279.42 507.81,279.07 C508.39,278.72 508.82,278.20 509.63,277.88 C510.44,277.56 511.51,277.24 512.66,277.16 C513.80,277.08 515.28,277.20 516.50,277.41 C517.72,277.62 518.98,278.06 520.00,278.41 C521.02,278.76 521.82,279.20 522.59,279.50 C523.37,279.81 523.96,280.05 524.63,280.24 C525.31,280.42 525.95,280.51 526.66,280.61 C527.37,280.70 528.10,280.75 528.89,280.81 C529.68,280.87 530.52,280.91 531.42,280.97 C532.32,281.03 533.34,281.06 534.31,281.15 C535.27,281.23 536.35,281.33 537.19,281.49 C538.03,281.64 538.79,281.86 539.33,282.10 C539.88,282.34 540.11,282.65 540.46,282.92 C540.80,283.20 540.93,283.48 541.40,283.75 C541.87,284.03 542.53,284.28 543.28,284.57 C544.02,284.86 545.18,285.16 545.88,285.50Z" fill="#c8a0a0" fill-opacity="0.3"/>
<path d="M532.27,285.00 C531.92,285.14 531.68,285.25 531.53,285.37 C531.38,285.49 531.43,285.61 531.38,285.74 C531.34,285.87 531.34,286.00 531.25,286.13 C531.16,286.25 531.01,286.38 530.84,286.49 C530.68,286.61 530.47,286.72 530.27,286.84 C530.07,286.96 529.89,287.08 529.66,287.20 C529.43,287.31 529.20,287.44 528.89,287.53 C528.58,287.62 528.20,287.70 527.81,287.75 C527.42,287.80 526.97,287.81 526.56,287.84 C526.16,287.87 525.76,287.88 525.38,287.93 C524.99,287.97 524.64,288.05 524.24,288.12 C523.85,288.18 523.43,288.29 523.00,288.33 C522.57,288.38 522.08,288.41 521.65,288.40 C521.21,288.38 520.78,288.30 520.37,288.24 C519.96,288.18 519.61,288.09 519.19,288.03 C518.77,287.98 518.35,287.96 517.87,287.93 C517.39,287.91 516.80,287.92 516.31,287.88 C515.83,287.83 515.28,287.77 514.96,287.65 C514.64,287.54 514.47,287.35 514.42,287.17 C514.36,287.00 514.58,286.77 514.63,286.59 C514.69,286.42 514.86,286.26 514.75,286.13 C514.64,286.00 514.35,285.91 513.98,285.80 C513.60,285.69 512.94,285.59 512.50,285.46 C512.06,285.32 511.55,285.16 511.34,285.00 C511.13,284.84 511.12,284.65 511.25,284.49 C511.38,284.33 511.77,284.17 512.11,284.04 C512.45,283.90 512.91,283.79 513.29,283.67 C513.67,283.56 514.04,283.46 514.41,283.36 C514.78,283.27 515.14,283.18 515.53,283.11 C515.92,283.04 516.35,282.99 516.74,282.93 C517.13,282.88 517.53,282.85 517.87,282.80 C518.21,282.74 518.50,282.67 518.79,282.59 C519.08,282.51 519.32,282.40 519.63,282.32 C519.94,282.23 520.27,282.13 520.63,282.08 C521.00,282.03 521.41,282.02 521.81,282.01 C522.20,282.01 522.60,282.05 523.00,282.04 C523.40,282.04 523.77,282.03 524.20,282.00 C524.62,281.97 525.08,281.89 525.56,281.85 C526.03,281.81 526.59,281.76 527.06,281.77 C527.53,281.78 528.00,281.84 528.38,281.92 C528.76,282.01 529.03,282.16 529.35,282.27 C529.67,282.38 529.91,282.50 530.32,282.58 C530.73,282.67 531.24,282.71 531.80,282.77 C532.35,282.84 533.12,282.87 533.65,282.97 C534.18,283.07 534.75,283.20 534.96,283.36 C535.17,283.53 535.12,283.75 534.91,283.95 C534.69,284.14 534.11,284.36 533.67,284.54 C533.23,284.71 532.63,284.86 532.27,285.00Z" fill="#a07080" fill-opacity="0.3"/>
<path d="M580.20,298.00 C580.18,298.09 580.12,298.19 580.04,298.28 C579.97,298.37 579.86,298.46 579.77,298.54 C579.68,298.63 579.58,298.71 579.51,298.80 C579.44,298.88 579.40,298.98 579.34,299.07 C579.28,299.17 579.25,299.27 579.16,299.37 C579.07,299.46 578.97,299.57 578.81,299.64 C578.66,299.72 578.45,299.79 578.23,299.84 C578.02,299.90 577.77,299.93 577.53,299.96 C577.30,300.00 577.06,300.02 576.83,300.05 C576.59,300.08 576.37,300.12 576.14,300.15 C575.91,300.19 575.68,300.23 575.44,300.25 C575.20,300.27 574.95,300.29 574.70,300.29 C574.45,300.29 574.20,300.28 573.96,300.25 C573.72,300.23 573.48,300.20 573.25,300.16 C573.02,300.13 572.80,300.09 572.58,300.04 C572.37,300.00 572.15,299.95 571.96,299.90 C571.76,299.85 571.57,299.78 571.40,299.72 C571.24,299.65 571.09,299.58 570.95,299.50 C570.81,299.42 570.69,299.34 570.57,299.27 C570.45,299.19 570.33,299.11 570.22,299.03 C570.11,298.96 570.00,298.88 569.90,298.79 C569.81,298.71 569.72,298.63 569.66,298.54 C569.59,298.45 569.55,298.36 569.50,298.27 C569.45,298.18 569.42,298.09 569.38,298.00 C569.33,297.91 569.27,297.81 569.24,297.71 C569.20,297.61 569.14,297.51 569.15,297.41 C569.16,297.30 569.19,297.20 569.27,297.10 C569.36,297.01 569.51,296.92 569.67,296.84 C569.84,296.76 570.06,296.70 570.25,296.63 C570.44,296.57 570.65,296.52 570.83,296.45 C571.01,296.39 571.17,296.32 571.34,296.25 C571.51,296.18 571.67,296.10 571.86,296.03 C572.06,295.97 572.26,295.91 572.49,295.87 C572.72,295.83 572.97,295.80 573.22,295.79 C573.47,295.78 573.73,295.79 573.97,295.79 C574.22,295.80 574.46,295.81 574.70,295.82 C574.94,295.83 575.17,295.84 575.41,295.85 C575.64,295.87 575.88,295.88 576.10,295.91 C576.33,295.93 576.55,295.97 576.76,296.01 C576.98,296.05 577.18,296.10 577.38,296.14 C577.58,296.19 577.77,296.25 577.96,296.30 C578.15,296.36 578.34,296.41 578.53,296.47 C578.71,296.53 578.89,296.60 579.04,296.67 C579.20,296.74 579.34,296.82 579.46,296.90 C579.58,296.98 579.67,297.07 579.76,297.16 C579.85,297.25 579.93,297.34 579.99,297.43 C580.06,297.52 580.13,297.62 580.16,297.71 C580.20,297.81 580.22,297.91 580.20,298.00Z" fill="#d0e4cc" fill-opacity="0.95"/>
<path d="M210.03,419.88 L209.77,418.37 L209.78,416.86 L210.17,415.45 L210.96,414.23 L212.11,413.14 L213.63,412.38 L215.28,412.04 L216.88,412.00 L218.37,412.00 L219.77,411.78 L221.17,411.11 L222.78,409.92 L224.43,408.39 L226.14,406.99 L227.98,406.03 L229.93,405.67 L231.94,405.85 L233.98,406.27 L235.99,406.61 L237.99,406.58 L239.99,406.11 L241.99,405.45 L244.02,404.96 L246.05,405.00 L248.05,405.76 L249.99,407.13 L251.86,408.75 L253.73,410.13 L255.69,410.82 L257.67,410.62 L259.67,409.71 L261.63,408.47 L263.53,407.30 L265.34,406.52 L267.04,406.29 L268.65,406.57 L270.24,407.25 L271.85,408.16 L273.47,409.06 L275.14,409.71 L276.90,409.98 L278.77,409.87 L280.73,409.59 L282.72,409.42 L284.63,409.64 L286.46,410.39 L288.16,411.58 L289.81,412.93 L291.49,414.09 L293.30,414.76 L295.30,414.88 L297.47,414.59 L299.69,414.23 L301.77,414.29 L303.56,415.00 L304.99,416.32 L306.05,418.05 L306.85,419.90 L307.54,421.61 L308.35,423.06 L309.49,424.10 L310.79,424.72 L312.20,425.10 L313.65,425.41 L315.04,425.79 L316.30,426.31 L317.35,427.02 L318.12,427.80 L318.71,428.55 L319.20,429.36 L319.58,430.28 L319.87,431.34 L320.11,432.52 L320.36,433.78 L320.69,435.09 L321.18,436.38 L321.85,437.56 L322.48,438.60 L322.99,439.57 L323.32,440.57 L323.40,441.62 L323.16,442.69 L322.59,443.69 L321.81,444.47 L320.98,445.10 L319.96,445.56 L318.83,445.78 L317.63,445.74 L316.41,445.45 L315.19,444.98 L313.99,444.41 L312.74,443.85 L311.35,443.56 L309.92,443.67 L308.60,444.18 L307.42,445.05 L306.43,446.20 L305.64,447.52 L305.02,448.92 L304.50,450.29 L303.83,451.57 L302.82,452.68 L301.53,453.47 L299.96,453.84 L298.19,453.76 L296.29,453.36 L294.32,452.89 L292.34,452.68 L290.47,453.02 L288.60,453.84 L286.66,454.93 L284.59,455.85 L282.34,456.18 L279.95,455.78 L277.47,454.94 L274.94,454.32 L272.45,454.53 L269.99,455.55 L267.53,456.77 L265.04,457.38 L262.52,456.89 L259.99,455.47 L257.49,453.92 L255.00,453.15 L252.50,453.68 L250.05,455.25 L247.66,457.06 L245.32,458.29 L243.04,458.55 L240.80,457.96 L238.62,457.00 L236.50,456.19 L234.38,455.86 L232.30,456.02 L230.28,456.39 L228.30,456.62 L226.39,456.42 L224.55,455.75 L222.81,454.73 L221.13,453.63 L219.53,452.76 L218.29,452.28 L217.25,452.17 L216.33,452.27 L215.46,452.43 L214.56,452.47 L213.61,452.22 L212.70,451.59 L211.80,450.89 L210.96,450.16 L210.24,449.37 L209.68,448.51 L209.30,447.59 L209.13,446.59 L209.15,445.53 L209.34,444.42 L209.64,443.26 L210.03,442.07 L210.45,440.87 L210.80,439.67 L211.02,438.48 L211.04,437.30 L210.83,436.12 L210.39,434.91 L209.78,433.72 L209.12,432.51 L208.53,431.27 L208.10,430.00 L207.91,428.71 L207.98,427.43 L208.31,426.16 L208.85,424.93 L209.48,423.73 L210.18,422.57 L210.85,421.43Z" fill="#b3bde6" fill-opacity="0.31"/>
<path d="M258.70,408.21 L258.95,407.03 L259.11,405.97 L259.34,405.02 L259.83,404.02 L260.76,402.99 L261.94,402.17 L263.20,401.59 L264.44,401.22 L265.57,401.01 L266.55,400.94 L267.35,400.99 L268.07,401.08 L268.71,401.11 L269.15,401.18 L269.49,401.25 L269.80,401.29 L270.13,401.31 L270.54,401.31 L271.06,401.34 L271.78,401.44 L272.59,401.55 L273.48,401.65 L274.44,401.79 L275.45,401.98 L276.48,402.28 L277.47,402.71 L278.40,403.33 L279.23,404.14 L279.90,405.08 L280.58,406.13 L281.37,407.28 L282.32,408.44 L283.48,409.47 L284.87,410.24 L286.50,410.64 L288.29,410.67 L290.11,410.54 L291.90,410.46 L293.60,410.63 L295.19,411.18 L296.69,412.07 L298.14,413.17 L299.61,414.25 L301.14,415.06 L302.75,415.43 L304.31,415.36 L305.83,415.01 L307.29,414.57 L308.65,414.20 L309.90,413.98 L311.03,413.97 L311.94,414.11 L312.83,414.36 L313.77,414.89 L314.57,415.61 L315.19,416.50 L315.61,417.53 L315.81,418.65 L315.78,419.85 L315.55,421.05 L315.24,422.22 L314.95,423.41 L314.73,424.61 L314.63,425.79 L314.71,426.93 L314.98,428.01 L315.46,429.01 L316.13,429.94 L316.89,430.70 L317.51,431.31 L317.99,431.91 L318.29,432.51 L318.41,433.13 L318.32,433.76 L317.99,434.37 L317.43,434.91 L316.80,435.40 L316.05,435.81 L315.18,436.13 L314.21,436.36 L313.16,436.54 L312.05,436.72 L310.89,437.00 L309.69,437.46 L308.52,438.17 L307.51,439.09 L306.69,440.12 L306.04,441.17 L305.54,442.16 L305.15,443.03 L304.83,443.76 L304.45,444.45 L303.80,445.18 L302.88,445.84 L301.77,446.29 L300.48,446.52 L299.04,446.54 L297.50,446.40 L295.90,446.20 L294.30,446.11 L292.92,446.26 L291.61,446.71 L290.25,447.62 L288.77,448.98 L287.05,450.53 L285.02,451.78 L282.67,452.20 L280.06,451.62 L277.44,450.63 L274.89,450.00 L272.41,450.23 L269.97,451.16 L267.51,452.18 L265.01,452.61 L262.50,452.20 L260.00,451.32 L257.52,450.75 L255.13,450.99 L252.75,452.00 L250.34,453.26 L247.96,454.10 L245.73,454.05 L243.77,453.02 L242.16,451.27 L240.70,449.24 L239.47,447.41 L238.38,446.06 L237.32,445.20 L236.22,444.69 L235.07,444.37 L233.89,444.02 L232.71,443.47 L231.54,442.81 L230.58,441.95 L229.90,440.87 L229.52,439.63 L229.45,438.29 L229.62,436.92 L229.93,435.52 L230.23,434.06 L230.27,432.58 L230.13,431.09 L229.88,429.52 L229.64,427.85 L229.58,426.13 L229.85,424.44 L230.55,422.91 L231.68,421.72 L233.13,420.80 L234.90,420.16 L236.76,419.79 L238.52,419.53 L240.09,419.13 L241.43,418.40 L242.61,417.21 L243.79,415.62 L244.95,413.85 L246.19,412.35 L247.58,411.31 L249.11,410.80 L250.71,410.74 L252.30,411.01 L253.79,411.44 L255.18,411.88 L256.62,412.16 L258.06,412.04 L259.39,411.52Z" fill="#efcfa6" fill-opacity="0.34"/>
<path d="M326.23,416.50 C326.23,416.59 326.22,416.68 326.19,416.76 C326.17,416.85 326.13,416.94 326.07,417.02 C326.01,417.10 325.92,417.17 325.84,417.24 C325.75,417.31 325.64,417.38 325.55,417.44 C325.46,417.51 325.37,417.57 325.28,417.63 C325.20,417.70 325.13,417.77 325.04,417.83 C324.95,417.90 324.85,417.97 324.74,418.02 C324.63,418.08 324.51,418.12 324.38,418.16 C324.25,418.20 324.11,418.22 323.97,418.25 C323.84,418.29 323.71,418.32 323.57,418.36 C323.44,418.40 323.31,418.46 323.16,418.51 C323.02,418.56 322.86,418.62 322.70,418.66 C322.54,418.69 322.36,418.71 322.19,418.70 C322.03,418.69 321.86,418.65 321.72,418.60 C321.57,418.55 321.44,418.48 321.31,418.42 C321.18,418.36 321.07,418.29 320.94,418.24 C320.81,418.19 320.68,418.15 320.55,418.10 C320.41,418.06 320.26,418.02 320.14,417.96 C320.02,417.91 319.90,417.84 319.81,417.77 C319.72,417.69 319.66,417.60 319.61,417.52 C319.56,417.43 319.53,417.34 319.50,417.26 C319.47,417.17 319.44,417.09 319.42,417.00 C319.40,416.92 319.37,416.83 319.36,416.75 C319.35,416.67 319.35,416.58 319.36,416.50 C319.38,416.42 319.40,416.34 319.43,416.25 C319.45,416.17 319.48,416.09 319.51,416.01 C319.53,415.93 319.55,415.84 319.58,415.76 C319.61,415.68 319.63,415.59 319.69,415.51 C319.74,415.42 319.81,415.34 319.90,415.27 C319.99,415.20 320.11,415.14 320.22,415.08 C320.33,415.02 320.45,414.97 320.57,414.92 C320.69,414.86 320.80,414.80 320.93,414.74 C321.05,414.69 321.17,414.62 321.31,414.58 C321.45,414.54 321.60,414.50 321.75,414.48 C321.91,414.47 322.08,414.48 322.24,414.50 C322.40,414.51 322.55,414.56 322.70,414.58 C322.85,414.60 322.98,414.63 323.13,414.63 C323.28,414.64 323.42,414.63 323.58,414.62 C323.74,414.62 323.91,414.60 324.08,414.60 C324.24,414.61 324.41,414.63 324.56,414.66 C324.70,414.70 324.83,414.77 324.94,414.83 C325.05,414.90 325.13,414.98 325.22,415.06 C325.31,415.13 325.39,415.21 325.48,415.28 C325.57,415.35 325.67,415.42 325.76,415.49 C325.84,415.56 325.94,415.64 326.01,415.72 C326.07,415.80 326.13,415.88 326.16,415.97 C326.20,416.06 326.21,416.15 326.23,416.23 C326.24,416.32 326.24,416.41 326.23,416.50Z" fill="#f0d8bc" fill-opacity="0.72"/>
<path d="M250.94,430.24 L253.01,429.96 L255.27,430.09 L257.61,430.15 L260.06,429.55 L262.45,428.08 L264.83,426.47 L267.26,425.51 L269.63,425.68 L271.81,426.95 L273.70,428.87 L275.31,430.86 L276.85,432.45 L278.54,433.31 L280.21,433.52 L281.95,433.38 L283.70,433.24 L285.37,433.33 L286.86,433.77 L288.07,434.56 L288.95,435.61 L289.65,436.77 L290.19,438.03 L290.63,439.28 L291.07,440.49 L291.58,441.64 L292.20,442.73 L292.97,443.80 L293.83,444.90 L294.76,445.97 L295.68,447.02 L296.48,448.10 L297.08,449.25 L297.44,450.52 L297.55,451.92 L297.49,453.45 L297.36,455.07 L297.25,456.64 L297.16,458.01 L297.20,459.20 L297.44,460.27 L297.87,461.33 L298.45,462.45 L299.07,463.72 L299.61,465.12 L300.07,466.52 L300.31,467.90 L300.25,469.23 L299.84,470.49 L299.11,471.66 L298.10,472.74 L296.94,473.77 L295.73,474.77 L294.65,475.77 L293.80,476.64 L293.19,477.45 L292.78,478.21 L292.50,478.94 L292.29,479.66 L292.08,480.35 L291.76,481.08 L291.45,481.83 L291.01,482.46 L290.35,483.01 L289.46,483.40 L288.41,483.57 L287.26,483.46 L286.06,483.05 L284.86,482.34 L283.73,481.55 L282.47,480.86 L281.05,480.41 L279.49,480.32 L277.86,480.69 L276.21,481.50 L274.57,482.57 L272.85,483.59 L270.92,484.09 L268.76,483.73 L266.60,482.46 L264.51,480.63 L262.47,478.84 L260.36,477.79 L257.98,477.85 L255.25,478.77 L252.45,479.79 L249.91,480.13 L247.64,479.64 L245.51,478.68 L243.43,477.83 L241.37,477.47 L239.38,477.70 L237.50,478.35 L235.59,479.09 L233.73,479.45 L231.97,479.30 L230.41,478.66 L229.11,477.66 L228.09,476.47 L227.33,475.25 L226.70,474.07 L225.97,473.06 L225.23,472.26 L224.39,471.61 L223.42,471.03 L222.34,470.44 L221.20,469.77 L220.07,468.93 L219.08,467.97 L218.25,466.91 L217.75,465.68 L217.62,464.38 L217.85,463.11 L218.41,461.92 L219.22,460.88 L220.21,460.03 L221.30,459.30 L222.31,458.61 L223.24,458.01 L224.04,457.40 L224.71,456.70 L225.25,455.85 L225.69,454.80 L226.10,453.56 L226.57,452.16 L227.09,450.73 L227.70,449.33 L228.49,448.05 L229.52,446.94 L230.78,445.99 L232.20,445.10 L233.66,444.16 L235.00,443.00 L236.08,441.58 L236.94,439.95 L237.70,438.23 L238.55,436.60 L239.63,435.25 L241.04,434.30 L242.75,433.77 L244.68,433.60 L246.68,433.61 L248.65,433.86 L250.45,434.02Z" fill="#e7adb5" fill-opacity="0.29"/>
<path d="M231.75,437.73 L232.86,435.95 L234.27,434.62 L235.99,433.92 L237.97,433.84 L240.08,434.15 L242.12,434.58 L243.94,434.85 L245.51,434.81 L246.85,434.41 L248.02,433.73 L249.11,432.87 L250.20,431.98 L251.30,431.08 L252.43,430.40 L253.60,430.00 L254.77,429.88 L255.89,430.04 L256.93,430.44 L257.86,431.03 L258.65,431.73 L259.42,432.42 L260.26,433.06 L261.22,433.60 L262.28,433.98 L263.46,434.19 L264.74,434.20 L266.08,434.06 L267.50,433.85 L268.90,433.71 L270.31,433.78 L271.67,434.17 L272.97,434.98 L274.19,436.23 L275.36,437.83 L276.54,439.59 L277.82,441.22 L279.26,442.41 L280.92,442.98 L282.74,442.92 L284.63,442.40 L286.52,441.66 L288.34,440.98 L290.06,440.61 L291.71,440.65 L293.30,441.14 L294.82,441.92 L296.32,442.78 L297.81,443.52 L299.33,443.98 L300.88,444.11 L302.47,443.95 L304.06,443.63 L305.69,443.32 L307.26,443.30 L308.71,443.64 L309.96,444.33 L310.98,445.29 L311.73,446.42 L312.24,447.63 L312.58,448.86 L312.97,450.02 L313.40,451.05 L313.92,451.96 L314.58,452.77 L315.36,453.51 L316.25,454.23 L317.20,454.97 L318.16,455.75 L319.10,456.61 L319.80,457.62 L320.19,458.74 L320.25,459.92 L319.95,461.08 L319.31,462.08 L318.41,462.83 L317.44,463.17 L316.59,463.28 L315.83,463.39 L315.07,463.65 L314.36,464.10 L313.74,464.77 L313.25,465.66 L312.96,466.71 L312.83,467.72 L312.76,468.56 L312.78,469.38 L312.95,470.19 L313.26,471.00 L313.74,471.80 L314.38,472.60 L315.15,473.41 L316.01,474.25 L316.88,475.05 L317.37,475.92 L317.43,476.96 L317.00,478.03 L316.13,478.95 L314.89,479.60 L313.36,479.90 L311.63,479.82 L309.93,479.68 L308.23,479.62 L306.53,479.77 L304.79,480.19 L302.97,480.78 L301.07,481.29 L299.12,481.43 L297.24,480.95 L295.52,479.86 L293.84,478.52 L292.05,477.28 L290.15,476.46 L288.24,476.25 L286.46,476.73 L284.98,477.82 L283.98,479.31 L283.29,480.90 L282.45,482.48 L281.30,483.89 L279.84,484.91 L278.13,485.36 L276.28,485.21 L274.39,484.57 L272.50,483.71 L270.64,483.13 L268.90,482.96 L267.21,483.15 L265.54,483.52 L263.90,483.85 L262.30,483.95 L260.81,483.74 L259.52,483.20 L258.38,482.45 L257.23,481.49 L256.02,480.40 L254.68,479.33 L253.16,478.50 L251.42,478.09 L249.47,478.16 L247.35,478.58 L245.22,478.95 L243.23,478.84 L241.47,478.06 L240.00,476.66 L238.77,474.87 L237.70,473.01 L236.63,471.40 L235.40,470.21 L233.92,469.58 L232.34,469.41 L230.64,469.45 L228.90,469.46 L227.22,469.28 L225.72,468.81 L224.47,468.05 L223.56,467.08 L222.89,466.03 L222.38,464.95 L221.94,463.86 L221.51,462.82 L221.05,461.87 L220.52,461.03 L219.94,460.31 L219.30,459.70 L218.57,459.13 L217.88,458.44 L217.28,457.60 L216.78,456.61 L216.45,455.46 L216.32,454.18 L216.48,452.84 L216.99,451.55 L217.76,450.34 L218.95,449.29 L220.42,448.51 L222.04,447.96 L223.66,447.50 L225.12,446.91 L226.33,445.92 L227.36,444.31 L228.13,442.23 L228.85,440.06 L229.80,438.11Z" fill="#b5dbbc" fill-opacity="0.36"/>
<path d="M287.75,450.00 C287.84,450.64 287.81,451.32 287.57,451.94 C287.34,452.57 286.80,453.18 286.34,453.76 C285.88,454.35 285.25,454.87 284.82,455.45 C284.40,456.04 284.10,456.62 283.78,457.26 C283.47,457.89 283.35,458.62 282.92,459.26 C282.49,459.90 281.99,460.59 281.21,461.09 C280.44,461.58 279.34,461.95 278.28,462.24 C277.22,462.53 275.94,462.62 274.86,462.85 C273.77,463.08 272.76,463.27 271.78,463.62 C270.79,463.96 269.95,464.50 268.93,464.93 C267.92,465.36 266.85,465.95 265.70,466.20 C264.54,466.45 263.20,466.56 262.00,466.42 C260.80,466.29 259.57,465.80 258.49,465.39 C257.40,464.99 256.49,464.36 255.50,464.00 C254.50,463.65 253.59,463.39 252.50,463.24 C251.40,463.08 250.14,463.17 248.91,463.08 C247.68,462.99 246.24,462.96 245.13,462.68 C244.01,462.41 242.97,461.95 242.22,461.41 C241.47,460.87 241.05,460.12 240.65,459.45 C240.25,458.78 240.09,458.05 239.82,457.39 C239.54,456.73 239.26,456.12 238.99,455.50 C238.73,454.88 238.41,454.28 238.25,453.67 C238.09,453.06 238.05,452.43 238.06,451.82 C238.07,451.21 238.27,450.60 238.33,450.00 C238.38,449.40 238.44,448.82 238.40,448.21 C238.36,447.59 238.13,446.95 238.10,446.31 C238.08,445.66 237.99,444.95 238.24,444.32 C238.49,443.69 238.99,443.08 239.61,442.54 C240.22,442.01 241.17,441.58 241.93,441.12 C242.70,440.65 243.52,440.25 244.20,439.73 C244.88,439.21 245.37,438.59 246.02,437.98 C246.66,437.37 247.22,436.61 248.06,436.07 C248.91,435.54 249.95,435.04 251.09,434.80 C252.22,434.55 253.61,434.58 254.85,434.61 C256.10,434.64 257.38,434.93 258.57,434.98 C259.76,435.03 260.83,435.05 262.00,434.94 C263.17,434.82 264.34,434.45 265.59,434.28 C266.84,434.10 268.25,433.81 269.49,433.88 C270.72,433.95 272.01,434.22 273.00,434.68 C273.99,435.13 274.74,435.93 275.41,436.60 C276.07,437.28 276.43,438.11 276.99,438.73 C277.54,439.35 278.06,439.87 278.74,440.34 C279.43,440.81 280.32,441.12 281.11,441.54 C281.90,441.96 282.80,442.36 283.47,442.85 C284.14,443.34 284.68,443.90 285.13,444.47 C285.57,445.04 285.83,445.66 286.16,446.27 C286.48,446.87 286.79,447.47 287.06,448.10 C287.32,448.72 287.66,449.36 287.75,450.00Z" fill="#c0a0a0" fill-opacity="0.13"/>
<path d="M280.45,450.00 C280.31,450.46 279.93,450.90 279.72,451.35 C279.51,451.79 279.30,452.20 279.17,452.65 C279.04,453.10 279.07,453.58 278.94,454.05 C278.80,454.51 278.71,455.03 278.35,455.45 C277.99,455.86 277.44,456.26 276.78,456.54 C276.13,456.83 275.21,457.00 274.41,457.16 C273.61,457.32 272.72,457.37 271.98,457.50 C271.24,457.64 270.59,457.76 269.98,457.97 C269.36,458.18 268.87,458.47 268.29,458.76 C267.71,459.05 267.15,459.41 266.51,459.70 C265.86,459.99 265.15,460.29 264.40,460.52 C263.65,460.75 262.83,460.95 262.00,461.07 C261.17,461.20 260.28,461.28 259.43,461.28 C258.57,461.27 257.68,461.19 256.88,461.03 C256.07,460.86 255.30,460.59 254.60,460.30 C253.90,460.02 253.30,459.64 252.67,459.32 C252.04,459.01 251.47,458.69 250.80,458.42 C250.13,458.15 249.38,457.96 248.64,457.71 C247.89,457.46 247.00,457.26 246.34,456.93 C245.67,456.61 245.00,456.23 244.64,455.78 C244.28,455.34 244.17,454.78 244.17,454.26 C244.17,453.75 244.48,453.18 244.63,452.68 C244.79,452.19 245.04,451.73 245.12,451.28 C245.20,450.83 245.12,450.43 245.09,450.00 C245.07,449.57 244.90,449.13 244.97,448.71 C245.04,448.28 245.21,447.84 245.52,447.45 C245.84,447.07 246.40,446.72 246.86,446.38 C247.32,446.05 247.90,445.78 248.28,445.43 C248.66,445.08 248.92,444.74 249.14,444.31 C249.37,443.88 249.40,443.36 249.62,442.86 C249.83,442.36 250.03,441.77 250.44,441.31 C250.86,440.85 251.43,440.41 252.10,440.11 C252.77,439.80 253.62,439.61 254.44,439.47 C255.26,439.34 256.17,439.31 257.03,439.29 C257.88,439.26 258.74,439.30 259.56,439.33 C260.39,439.36 261.20,439.42 262.00,439.48 C262.80,439.53 263.57,439.62 264.35,439.68 C265.14,439.75 265.90,439.81 266.71,439.87 C267.51,439.92 268.34,439.94 269.18,440.01 C270.01,440.08 270.92,440.12 271.71,440.30 C272.50,440.47 273.31,440.71 273.91,441.04 C274.51,441.38 274.97,441.86 275.32,442.31 C275.67,442.77 275.79,443.33 276.03,443.79 C276.26,444.25 276.39,444.70 276.72,445.10 C277.05,445.49 277.52,445.81 277.99,446.18 C278.47,446.54 279.14,446.88 279.57,447.28 C280.00,447.69 280.41,448.14 280.56,448.59 C280.71,449.04 280.59,449.54 280.45,450.00Z" fill="#c0a0a0" fill-opacity="0.13"/>
<path d="M272.62,450.00 C272.56,450.27 272.40,450.52 272.31,450.78 C272.22,451.04 272.16,451.30 272.10,451.56 C272.04,451.83 272.04,452.11 271.94,452.38 C271.83,452.64 271.71,452.92 271.47,453.15 C271.23,453.39 270.88,453.59 270.53,453.77 C270.18,453.96 269.73,454.09 269.37,454.25 C269.01,454.42 268.67,454.57 268.34,454.76 C268.01,454.96 267.75,455.20 267.40,455.40 C267.06,455.60 266.70,455.83 266.27,455.94 C265.84,456.05 265.31,456.10 264.82,456.07 C264.32,456.03 263.77,455.86 263.31,455.72 C262.84,455.59 262.41,455.37 262.00,455.26 C261.59,455.15 261.24,455.09 260.84,455.08 C260.44,455.07 260.02,455.17 259.57,455.22 C259.13,455.27 258.61,455.37 258.14,455.37 C257.67,455.38 257.18,455.33 256.75,455.25 C256.32,455.16 255.93,455.00 255.55,454.85 C255.17,454.70 254.82,454.52 254.47,454.34 C254.12,454.17 253.75,453.99 253.43,453.79 C253.12,453.59 252.79,453.38 252.57,453.14 C252.34,452.91 252.18,452.64 252.06,452.37 C251.95,452.11 251.93,451.83 251.86,451.57 C251.79,451.30 251.74,451.05 251.66,450.79 C251.57,450.52 251.42,450.27 251.34,450.00 C251.27,449.73 251.16,449.45 251.19,449.18 C251.22,448.91 251.35,448.63 251.54,448.38 C251.72,448.13 252.04,447.91 252.31,447.68 C252.58,447.46 252.89,447.27 253.14,447.05 C253.39,446.83 253.58,446.60 253.81,446.38 C254.05,446.15 254.25,445.90 254.56,445.71 C254.87,445.52 255.25,445.34 255.67,445.24 C256.08,445.13 256.61,445.11 257.06,445.06 C257.52,445.02 257.99,445.05 258.40,444.98 C258.81,444.92 259.15,444.82 259.52,444.67 C259.90,444.51 260.23,444.26 260.65,444.07 C261.06,443.88 261.53,443.64 262.00,443.54 C262.47,443.44 263.02,443.41 263.49,443.47 C263.96,443.53 264.42,443.73 264.83,443.90 C265.24,444.08 265.58,444.33 265.93,444.52 C266.29,444.71 266.61,444.88 266.97,445.04 C267.32,445.19 267.70,445.31 268.05,445.45 C268.40,445.60 268.76,445.75 269.07,445.92 C269.39,446.09 269.65,446.29 269.92,446.49 C270.19,446.69 270.42,446.90 270.68,447.11 C270.94,447.32 271.23,447.51 271.50,447.73 C271.77,447.95 272.08,448.17 272.28,448.41 C272.48,448.65 272.65,448.92 272.70,449.19 C272.76,449.45 272.69,449.73 272.62,450.00Z" fill="#c0a0a0" fill-opacity="0.13"/>
<path d="M277.46,458.00 C277.52,458.26 277.66,458.51 277.74,458.78 C277.82,459.04 277.98,459.33 277.92,459.60 C277.87,459.87 277.71,460.15 277.41,460.39 C277.10,460.64 276.57,460.85 276.09,461.05 C275.61,461.25 275.02,461.42 274.54,461.61 C274.06,461.80 273.64,462.00 273.20,462.20 C272.76,462.40 272.40,462.65 271.88,462.83 C271.37,463.01 270.77,463.18 270.11,463.27 C269.44,463.35 268.62,463.34 267.88,463.33 C267.15,463.31 266.38,463.20 265.71,463.19 C265.03,463.18 264.47,463.17 263.85,463.26 C263.23,463.35 262.67,463.56 262.00,463.73 C261.33,463.89 260.56,464.15 259.80,464.25 C259.05,464.36 258.18,464.41 257.46,464.35 C256.74,464.29 256.07,464.09 255.49,463.90 C254.91,463.71 254.48,463.42 253.98,463.21 C253.48,463.00 253.04,462.81 252.48,462.65 C251.93,462.49 251.27,462.40 250.65,462.26 C250.03,462.12 249.32,461.99 248.78,461.80 C248.24,461.62 247.77,461.40 247.41,461.16 C247.05,460.92 246.85,460.65 246.62,460.39 C246.39,460.13 246.22,459.87 246.05,459.60 C245.87,459.34 245.65,459.08 245.57,458.81 C245.48,458.54 245.43,458.26 245.55,458.00 C245.67,457.74 245.97,457.47 246.29,457.22 C246.61,456.98 247.10,456.76 247.45,456.54 C247.80,456.32 248.14,456.11 248.40,455.89 C248.65,455.66 248.76,455.42 248.99,455.18 C249.22,454.95 249.40,454.69 249.75,454.48 C250.11,454.27 250.60,454.08 251.12,453.92 C251.63,453.76 252.29,453.66 252.84,453.52 C253.39,453.38 253.92,453.26 254.42,453.08 C254.92,452.89 255.31,452.63 255.82,452.41 C256.34,452.18 256.86,451.87 257.50,451.71 C258.15,451.54 258.94,451.41 259.69,451.41 C260.44,451.41 261.28,451.56 262.00,451.70 C262.72,451.84 263.37,452.10 264.02,452.25 C264.66,452.40 265.20,452.54 265.86,452.60 C266.52,452.66 267.22,452.60 267.96,452.60 C268.71,452.60 269.59,452.54 270.33,452.59 C271.08,452.64 271.84,452.74 272.43,452.91 C273.01,453.07 273.43,453.33 273.82,453.57 C274.20,453.81 274.43,454.09 274.73,454.34 C275.04,454.58 275.34,454.81 275.66,455.04 C275.97,455.27 276.36,455.49 276.63,455.73 C276.90,455.96 277.13,456.21 277.26,456.47 C277.39,456.72 277.38,456.98 277.41,457.24 C277.44,457.49 277.41,457.74 277.46,458.00Z" fill="#a07880" fill-opacity="0.2"/>
<path d="M270.88,458.00 C270.79,458.15 270.61,458.29 270.48,458.43 C270.35,458.57 270.19,458.70 270.08,458.84 C269.97,458.98 269.90,459.12 269.82,459.26 C269.74,459.40 269.70,459.56 269.58,459.70 C269.47,459.85 269.33,460.00 269.12,460.12 C268.92,460.25 268.64,460.37 268.36,460.47 C268.07,460.58 267.74,460.66 267.42,460.75 C267.10,460.83 266.78,460.91 266.45,461.00 C266.13,461.08 265.81,461.17 265.46,461.25 C265.12,461.33 264.76,461.40 264.38,461.45 C264.00,461.50 263.60,461.53 263.20,461.55 C262.80,461.56 262.40,461.55 262.00,461.54 C261.60,461.53 261.21,461.51 260.82,461.49 C260.43,461.46 260.04,461.45 259.65,461.42 C259.26,461.39 258.86,461.36 258.48,461.30 C258.10,461.25 257.73,461.19 257.39,461.11 C257.05,461.03 256.73,460.92 256.43,460.82 C256.12,460.72 255.84,460.61 255.57,460.50 C255.29,460.39 255.01,460.28 254.76,460.16 C254.51,460.04 254.27,459.91 254.08,459.78 C253.89,459.64 253.73,459.50 253.62,459.35 C253.51,459.20 253.47,459.05 253.42,458.89 C253.36,458.74 253.34,458.59 253.30,458.45 C253.25,458.30 253.17,458.15 253.12,458.00 C253.07,457.85 252.98,457.69 252.97,457.54 C252.97,457.38 252.99,457.22 253.10,457.07 C253.21,456.92 253.41,456.78 253.63,456.65 C253.85,456.52 254.15,456.41 254.42,456.30 C254.68,456.18 254.96,456.08 255.21,455.97 C255.47,455.87 255.68,455.75 255.93,455.64 C256.17,455.53 256.40,455.40 256.67,455.30 C256.95,455.20 257.25,455.10 257.57,455.02 C257.90,454.94 258.26,454.88 258.62,454.83 C258.98,454.77 259.35,454.74 259.72,454.69 C260.09,454.65 260.46,454.60 260.84,454.56 C261.22,454.52 261.60,454.47 262.00,454.45 C262.40,454.42 262.81,454.40 263.21,454.41 C263.62,454.42 264.02,454.45 264.41,454.50 C264.80,454.54 265.18,454.60 265.55,454.67 C265.92,454.73 266.28,454.80 266.63,454.88 C266.99,454.96 267.34,455.03 267.67,455.13 C268.00,455.22 268.32,455.32 268.59,455.44 C268.87,455.55 269.10,455.68 269.32,455.82 C269.53,455.95 269.70,456.09 269.88,456.23 C270.05,456.37 270.22,456.51 270.37,456.65 C270.53,456.79 270.70,456.93 270.81,457.08 C270.91,457.23 271.01,457.39 271.02,457.54 C271.03,457.69 270.97,457.85 270.88,458.00Z" fill="#805a70" fill-opacity="0.22"/>
<line x1="198.60" y1="397.70" x2="198.60" y2="497.20" stroke="#333" stroke-width="1.0" />
<line x1="198.20" y1="496.80" x2="333.50" y2="496.80" stroke="#333" stroke-width="1.0" />
<line x1="196.40" y1="399.70" x2="198.60" y2="399.70" stroke="#333" stroke-width="0.7" />
<text x="195.40" y="402.50" font-size="7.9" text-anchor="end" fill="#222"  stroke="#222" stroke-width="0.2">15</text>
<line x1="196.40" y1="416.00" x2="198.60" y2="416.00" stroke="#333" stroke-width="0.7" />
<text x="195.40" y="418.80" font-size="7.9" text-anchor="end" fill="#222"  stroke="#222" stroke-width="0.2">10</text>
<line x1="196.40" y1="432.30" x2="198.60" y2="432.30" stroke="#333" stroke-width="0.7" />
<text x="195.40" y="435.10" font-size="7.9" text-anchor="end" fill="#222"  stroke="#222" stroke-width="0.2">5</text>
<line x1="196.40" y1="448.60" x2="198.60" y2="448.60" stroke="#333" stroke-width="0.7" />
<text x="195.40" y="451.40" font-size="7.9" text-anchor="end" fill="#222"  stroke="#222" stroke-width="0.2">0</text>
<line x1="196.40" y1="464.90" x2="198.60" y2="464.90" stroke="#333" stroke-width="0.7" />
<text x="195.40" y="467.70" font-size="7.9" text-anchor="end" fill="#222"  stroke="#222" stroke-width="0.2">-5</text>
<line x1="196.40" y1="481.20" x2="198.60" y2="481.20" stroke="#333" stroke-width="0.7" />
<text x="195.40" y="484.00" font-size="7.9" text-anchor="end" fill="#222"  stroke="#222" stroke-width="0.2">-10</text>
<line x1="196.40" y1="497.50" x2="198.60" y2="497.50" stroke="#333" stroke-width="0.7" />
<text x="195.40" y="500.30" font-size="7.9" text-anchor="end" fill="#222"  stroke="#222" stroke-width="0.2">-15</text>
<text x="210.40" y="505.90" font-size="7.9" text-anchor="middle" fill="#222"  stroke="#222" stroke-width="0.2">-10</text>
<text x="238.75" y="505.90" font-size="7.9" text-anchor="middle" fill="#222"  stroke="#222" stroke-width="0.2">-5</text>
<text x="267.10" y="505.90" font-size="7.9" text-anchor="middle" fill="#222"  stroke="#222" stroke-width="0.2">0</text>
<text x="295.45" y="505.90" font-size="7.9" text-anchor="middle" fill="#222"  stroke="#222" stroke-width="0.2">5</text>
<text x="323.80" y="505.90" font-size="7.9" text-anchor="middle" fill="#222"  stroke="#222" stroke-width="0.2">10</text>
<text x="268.50" y="515.00" font-size="7.9" text-anchor="middle" fill="#222" textLength="74.8" lengthAdjust="spacingAndGlyphs"  stroke="#222" stroke-width="0.2">Stimulus dimension 1</text>
<text transform="translate(184.60,447.00) rotate(-90.00)" font-size="7.9" text-anchor="middle" fill="#333" stroke="#333" stroke-width="0.2">Stimulus dimension</text>
<path d="M555.51,427.89 L554.82,427.05 L554.25,426.07 L553.91,424.94 L553.86,423.76 L553.96,422.59 L554.40,421.49 L555.11,420.59 L556.05,419.93 L557.12,419.53 L558.27,419.40 L559.44,419.48 L560.66,419.70 L561.82,419.82 L562.97,419.88 L564.16,419.79 L565.43,419.52 L566.81,419.10 L568.32,418.61 L569.95,418.21 L571.64,418.10 L573.23,418.34 L574.60,418.77 L575.88,419.21 L577.13,419.53 L578.35,419.58 L579.52,419.30 L580.56,418.66 L581.25,417.83 L581.67,417.13 L582.03,416.41 L582.41,415.54 L582.84,414.49 L583.38,413.29 L584.07,411.97 L584.95,410.65 L586.00,409.49 L587.15,408.65 L588.46,408.19 L589.84,408.12 L591.24,408.37 L592.61,408.84 L593.89,409.43 L595.07,410.07 L596.15,410.66 L597.14,411.14 L597.94,411.53 L598.63,411.82 L599.26,411.99 L599.88,412.09 L600.53,412.13 L601.25,412.18 L602.12,412.32 L603.11,412.51 L604.16,412.68 L605.21,412.84 L606.25,413.05 L607.28,413.33 L608.31,413.72 L609.34,414.22 L610.40,414.81 L611.46,415.44 L612.67,416.00 L614.04,416.38 L615.55,416.45 L617.17,416.13 L618.88,415.42 L620.65,414.47 L622.50,413.58 L624.40,413.19 L626.37,413.54 L628.35,414.64 L630.32,416.22 L632.30,417.77 L634.35,418.75 L636.53,418.82 L638.88,418.06 L641.28,416.97 L643.54,416.27 L645.61,416.30 L647.49,416.99 L649.21,418.06 L650.79,419.15 L652.30,420.01 L653.75,420.52 L655.22,420.67 L656.61,420.62 L657.99,420.51 L659.33,420.49 L660.61,420.65 L661.77,421.04 L662.77,421.67 L663.52,422.48 L664.15,423.36 L664.69,424.39 L665.14,425.51 L665.56,426.67 L666.02,427.84 L666.61,428.95 L667.39,429.96 L668.44,430.87 L669.72,431.64 L671.13,432.33 L672.57,433.02 L673.90,433.77 L675.03,434.66 L675.86,435.73 L676.35,436.98 L676.50,438.39 L676.43,440.01 L676.07,441.49 L675.45,442.55 L674.70,443.09 L673.99,443.17 L673.34,443.01 L672.64,442.82 L671.60,442.79 L670.48,443.11 L669.40,443.71 L668.32,444.57 L667.20,445.62 L665.99,446.73 L664.68,447.74 L663.21,448.50 L661.60,448.92 L659.91,449.05 L658.17,449.04 L656.43,449.11 L654.71,449.45 L653.01,450.17 L651.33,451.22 L649.60,452.36 L647.80,453.26 L645.87,453.65 L643.40,453.11 L640.53,451.45 L637.32,449.63 L633.70,449.61 L629.54,451.83 L624.92,452.95 L620.03,450.49 L615.10,448.94 L610.18,450.40 L605.48,450.87 L601.11,449.39 L596.81,449.11 L592.48,450.74 L588.40,451.29 L584.87,448.98 L581.55,445.48 L578.45,443.77 L575.33,444.14 L572.29,445.09 L569.59,445.39 L567.43,444.79 L565.85,443.60 L564.80,442.25 L563.80,440.94 L562.74,439.76 L561.54,438.76 L560.19,437.91 L558.72,437.14 L557.24,436.32 L555.89,435.34 L554.84,434.16 L554.08,432.74 L553.74,431.14 L553.81,429.58Z" fill="#b9c3e6" fill-opacity="0.43"/>
<path d="M569.44,428.93 L569.94,427.66 L570.38,426.30 L570.86,424.87 L571.49,423.49 L572.27,422.20 L573.40,421.15 L574.85,420.49 L576.55,420.25 L578.38,420.39 L580.24,420.72 L582.02,420.94 L583.78,420.73 L585.38,419.82 L586.84,418.32 L588.28,416.49 L589.79,414.70 L591.46,413.33 L593.29,412.64 L595.26,412.68 L597.27,413.26 L599.29,414.01 L601.29,414.66 L603.25,414.96 L605.21,414.83 L607.23,414.48 L609.31,414.25 L611.40,414.48 L613.46,415.34 L615.47,416.56 L617.48,417.73 L619.58,418.35 L621.82,418.12 L624.20,417.12 L626.66,415.85 L629.10,414.97 L631.41,415.03 L633.56,416.13 L635.55,417.90 L637.44,419.65 L639.39,420.82 L641.52,421.18 L643.84,420.95 L646.23,420.60 L648.51,420.64 L650.58,421.30 L652.29,422.61 L653.68,424.21 L654.88,425.74 L656.03,427.03 L657.24,428.02 L658.52,428.84 L659.85,429.63 L661.23,430.44 L662.39,431.46 L663.20,432.71 L663.58,434.14 L663.50,435.64 L663.01,437.10 L662.24,438.46 L661.38,439.82 L660.80,441.19 L660.56,442.43 L660.65,443.72 L660.98,445.16 L661.42,446.78 L661.77,448.57 L661.86,450.43 L661.62,452.15 L661.07,453.64 L660.04,454.87 L658.62,455.76 L656.92,456.30 L655.09,456.60 L653.26,456.82 L651.54,457.12 L649.97,457.66 L648.61,458.54 L647.39,459.59 L646.19,460.70 L644.90,461.69 L643.48,462.42 L641.93,462.82 L640.29,462.91 L638.61,462.82 L636.93,462.79 L635.34,463.00 L633.89,463.56 L632.59,464.50 L631.42,465.76 L630.33,467.18 L629.27,468.59 L628.16,469.82 L626.91,470.73 L625.43,471.22 L623.76,471.25 L621.95,470.87 L620.07,470.27 L618.20,469.71 L616.39,469.49 L614.64,469.81 L613.03,470.71 L611.50,471.88 L609.90,473.02 L608.21,473.86 L606.48,474.20 L604.78,473.98 L603.21,473.26 L601.82,472.21 L600.51,471.10 L599.27,470.08 L598.08,469.25 L596.89,468.66 L595.66,468.23 L594.41,467.89 L593.15,467.53 L591.96,467.06 L590.82,466.49 L589.76,465.78 L588.80,464.88 L587.93,463.79 L587.10,462.54 L586.26,461.24 L585.31,460.00 L584.21,458.99 L582.94,458.32 L581.49,457.99 L579.81,457.92 L577.96,457.99 L576.04,458.04 L574.19,457.89 L572.53,457.41 L571.23,456.55 L570.23,455.28 L569.57,453.63 L569.25,451.84 L569.15,450.06 L569.13,448.42 L569.06,446.95 L568.85,445.65 L568.43,444.43 L567.77,443.31 L567.06,442.24 L566.40,441.07 L565.91,439.78 L565.69,438.39 L565.84,436.96 L566.36,435.55 L567.20,434.17 L568.06,432.84 L568.84,431.62 L569.44,430.41Z" fill="#d9a9a8" fill-opacity="0.38"/>
<path d="M595.51,471.30 L596.72,470.61 L598.09,470.28 L599.55,470.32 L601.05,470.67 L602.49,471.04 L603.86,471.41 L605.16,471.66 L606.42,471.71 L607.69,471.51 L609.01,471.06 L610.43,470.46 L611.97,469.83 L613.53,469.26 L615.07,468.95 L616.55,468.95 L617.96,469.25 L619.29,469.80 L620.54,470.50 L621.72,471.24 L622.87,471.94 L624.03,472.51 L625.07,472.98 L626.06,473.39 L627.01,473.82 L627.93,474.33 L628.81,474.97 L629.61,475.78 L630.24,476.72 L630.80,477.72 L631.10,478.84 L631.12,479.97 L630.85,481.06 L630.33,482.03 L629.60,482.88 L628.70,483.59 L627.68,484.22 L626.74,484.88 L625.83,485.47 L624.92,486.11 L623.96,486.86 L622.91,487.74 L621.71,488.71 L620.30,489.68 L618.72,490.46 L617.10,490.92 L615.40,490.92 L613.72,490.46 L612.11,489.68 L610.59,488.76 L609.16,487.86 L607.80,487.16 L606.38,486.73 L604.92,486.67 L603.57,486.81 L602.21,486.98 L600.85,487.06 L599.52,486.94 L598.27,486.57 L597.17,485.94 L596.28,485.11 L595.51,484.19 L594.94,483.12 L594.59,482.01 L594.42,480.89 L594.40,479.80 L594.48,478.71 L594.62,477.60 L594.80,476.46 L594.87,475.26 L595.05,474.07 L595.41,472.90Z" fill="#f0d6bc" fill-opacity="0.53"/>
<path d="M573.34,453.97 L573.80,453.39 L574.73,452.93 L576.02,452.71 L577.46,452.86 L578.73,453.28 L579.94,453.95 L581.11,454.83 L582.29,455.79 L583.54,456.70 L584.90,457.40 L586.39,457.83 L588.01,457.98 L589.70,457.95 L591.33,457.99 L592.83,458.24 L594.16,458.77 L595.27,459.57 L596.13,460.57 L596.75,461.70 L597.14,462.86 L597.47,463.99 L597.60,464.96 L597.57,465.71 L597.45,466.25 L597.29,466.63 L597.15,466.98 L597.00,467.43 L596.73,468.15 L596.56,468.99 L596.37,469.81 L596.00,470.71 L595.38,471.67 L594.48,472.60 L593.33,473.39 L591.95,473.91 L590.50,474.01 L589.08,473.72 L587.70,473.03 L586.44,472.06 L585.34,470.96 L584.36,469.87 L583.46,468.91 L582.58,468.15 L581.58,467.58 L580.47,467.29 L579.40,467.19 L578.27,467.13 L577.08,466.98 L575.88,466.68 L574.75,466.17 L573.74,465.43 L572.96,464.52 L572.35,463.54 L571.94,462.44 L571.73,461.32 L571.66,460.19 L571.70,459.09 L571.78,458.03 L571.86,457.01 L571.91,456.00 L571.84,454.98 L571.89,454.10 L572.19,453.31Z" fill="#e6b5bf" fill-opacity="0.3"/>
<path d="M571.17,425.89 L572.53,425.05 L573.71,424.06 L574.82,422.87 L576.03,421.56 L577.30,420.26 L578.85,419.26 L580.67,418.71 L582.71,418.64 L584.85,418.85 L586.98,418.95 L589.06,418.53 L591.15,417.41 L593.20,415.82 L595.38,414.44 L597.71,413.89 L600.16,414.41 L602.62,415.70 L605.02,417.01 L607.42,417.55 L609.93,416.92 L612.51,415.43 L615.15,414.00 L617.76,413.48 L620.27,414.18 L622.64,415.72 L624.95,417.32 L627.35,418.31 L629.89,418.57 L632.49,418.53 L634.93,418.94 L637.06,420.10 L638.89,421.75 L640.55,423.37 L642.28,424.46 L644.25,424.86 L646.57,424.76 L649.13,424.37 L651.58,424.26 L653.67,424.74 L655.26,425.86 L656.29,427.48 L656.81,429.36 L656.96,431.28 L656.91,433.05 L656.99,434.66 L657.15,435.98 L657.45,437.12 L657.86,438.18 L658.33,439.27 L658.75,440.46 L659.01,441.78 L658.99,443.15 L658.79,444.48 L658.24,445.72 L657.39,446.78 L656.33,447.66 L655.14,448.36 L653.92,448.96 L652.74,449.57 L651.59,450.33 L650.61,451.34 L649.74,452.55 L648.86,453.93 L647.87,455.33 L646.69,456.60 L645.26,457.52 L643.57,457.97 L641.67,457.94 L639.70,457.65 L637.75,457.34 L635.91,457.31 L634.22,457.81 L632.67,458.93 L631.17,460.53 L629.62,462.30 L627.96,463.80 L626.19,464.71 L624.28,464.88 L622.24,464.43 L620.13,463.66 L618.04,462.96 L616.03,462.65 L614.12,462.86 L612.30,463.51 L610.53,464.34 L608.82,464.90 L607.14,465.04 L605.56,464.75 L604.14,464.15 L602.92,463.39 L601.87,462.65 L600.81,461.98 L599.56,461.55 L598.19,461.40 L596.68,461.49 L595.02,461.75 L593.27,462.05 L591.51,462.24 L589.84,462.16 L588.38,461.71 L587.16,460.86 L586.16,459.57 L585.35,457.94 L584.66,456.14 L583.94,454.35 L583.06,452.79 L581.89,451.59 L580.40,450.77 L578.67,450.28 L576.88,449.87 L575.17,449.31 L573.69,448.45 L572.52,447.27 L571.67,445.81 L571.07,444.19 L570.56,442.55 L569.97,441.07 L569.41,439.84 L568.75,438.72 L568.02,437.55 L567.29,436.21 L566.74,434.64 L566.57,432.90 L566.96,431.18 L567.78,429.61 L569.06,428.32 L570.54,427.33Z" fill="#c4cda8" fill-opacity="0.48"/>
<path d="M556.64,448.02 L556.67,446.97 L556.84,445.91 L557.20,444.86 L557.73,443.86 L558.34,442.91 L559.07,442.09 L559.87,441.41 L560.71,440.84 L561.55,440.36 L562.40,439.92 L563.27,439.50 L564.20,439.04 L565.11,438.46 L565.99,437.90 L566.91,437.38 L567.89,436.94 L568.95,436.63 L570.06,436.48 L571.21,436.53 L572.25,436.76 L573.30,437.12 L574.34,437.82 L575.16,438.77 L575.70,439.89 L575.96,441.13 L575.95,442.43 L575.71,443.76 L575.32,445.14 L575.03,446.44 L574.78,447.55 L574.61,448.55 L574.51,449.50 L574.46,450.45 L574.41,451.46 L574.28,452.53 L574.02,453.70 L573.70,454.88 L573.22,455.93 L572.56,456.84 L571.73,457.58 L570.78,458.14 L569.73,458.51 L568.62,458.72 L567.46,458.80 L566.31,458.91 L565.27,458.98 L564.29,459.04 L563.36,459.07 L562.44,459.05 L561.52,458.97 L560.58,458.79 L559.67,458.50 L558.73,458.19 L557.82,457.71 L557.02,457.06 L556.34,456.27 L555.84,455.34 L555.53,454.31 L555.44,453.21 L555.57,452.12 L555.79,451.05 L556.15,450.00 L556.61,449.02Z" fill="#c8e0c4" fill-opacity="0.5"/>
<path d="M643.93,443.00 C644.29,443.78 644.62,444.62 644.41,445.40 C644.19,446.17 643.50,446.96 642.63,447.64 C641.76,448.32 640.36,448.90 639.20,449.46 C638.05,450.02 636.72,450.47 635.69,450.99 C634.67,451.52 633.85,452.04 633.04,452.61 C632.24,453.18 631.66,453.84 630.84,454.42 C630.03,455.01 629.19,455.64 628.15,456.13 C627.11,456.62 625.86,457.03 624.60,457.37 C623.33,457.71 621.92,457.93 620.56,458.16 C619.20,458.39 617.82,458.57 616.45,458.76 C615.07,458.96 613.71,459.18 612.30,459.34 C610.89,459.50 609.45,459.67 608.00,459.74 C606.55,459.82 605.05,459.83 603.58,459.78 C602.11,459.73 600.63,459.61 599.19,459.44 C597.75,459.27 596.30,459.06 594.92,458.78 C593.55,458.51 592.17,458.19 590.92,457.80 C589.66,457.40 588.48,456.93 587.39,456.43 C586.30,455.93 585.36,455.36 584.37,454.82 C583.37,454.28 582.46,453.73 581.41,453.20 C580.35,452.68 579.17,452.20 578.02,451.65 C576.88,451.11 575.51,450.57 574.53,449.93 C573.55,449.29 572.58,448.56 572.14,447.80 C571.70,447.05 571.68,446.18 571.88,445.38 C572.07,444.58 572.82,443.76 573.33,443.00 C573.85,442.24 574.58,441.55 574.96,440.83 C575.35,440.10 575.50,439.41 575.65,438.67 C575.80,437.92 575.63,437.11 575.86,436.34 C576.09,435.58 576.35,434.75 577.03,434.06 C577.71,433.38 578.78,432.74 579.95,432.24 C581.11,431.73 582.66,431.37 584.04,431.02 C585.42,430.66 586.89,430.42 588.22,430.11 C589.55,429.80 590.78,429.49 592.03,429.17 C593.28,428.85 594.45,428.47 595.73,428.19 C597.00,427.90 598.32,427.63 599.66,427.45 C601.01,427.27 602.43,427.17 603.81,427.10 C605.20,427.04 606.60,427.04 608.00,427.04 C609.40,427.04 610.78,427.05 612.19,427.09 C613.60,427.12 615.02,427.16 616.44,427.25 C617.86,427.34 619.30,427.47 620.73,427.63 C622.17,427.80 623.60,428.00 625.05,428.24 C626.50,428.47 627.99,428.71 629.44,429.03 C630.88,429.35 632.42,429.68 633.73,430.14 C635.03,430.59 636.33,431.14 637.27,431.77 C638.22,432.40 638.90,433.18 639.39,433.94 C639.89,434.70 639.98,435.55 640.23,436.33 C640.47,437.10 640.53,437.86 640.87,438.60 C641.20,439.33 641.73,440.01 642.24,440.75 C642.75,441.48 643.57,442.22 643.93,443.00Z" fill="#aeb096" fill-opacity="0.2"/>
<path d="M632.22,443.00 C631.97,443.53 631.60,444.03 631.40,444.54 C631.21,445.06 631.18,445.56 631.06,446.09 C630.95,446.62 631.01,447.19 630.73,447.71 C630.45,448.22 630.05,448.76 629.40,449.18 C628.74,449.59 627.75,449.93 626.81,450.22 C625.87,450.50 624.70,450.65 623.76,450.88 C622.81,451.10 621.93,451.28 621.14,451.56 C620.35,451.84 619.74,452.20 619.02,452.54 C618.30,452.89 617.63,453.32 616.81,453.64 C615.99,453.95 615.07,454.24 614.12,454.42 C613.17,454.60 612.11,454.67 611.09,454.73 C610.07,454.79 609.03,454.78 608.00,454.78 C606.97,454.78 605.94,454.79 604.91,454.75 C603.87,454.71 602.81,454.67 601.81,454.54 C600.82,454.41 599.82,454.21 598.91,453.97 C598.00,453.72 597.19,453.39 596.35,453.09 C595.52,452.79 594.76,452.47 593.91,452.18 C593.06,451.90 592.15,451.66 591.26,451.37 C590.37,451.08 589.37,450.82 588.56,450.46 C587.76,450.10 587.00,449.68 586.45,449.22 C585.91,448.76 585.59,448.22 585.28,447.71 C584.97,447.19 584.85,446.65 584.60,446.14 C584.34,445.62 584.04,445.12 583.75,444.60 C583.46,444.07 583.01,443.54 582.85,443.00 C582.69,442.46 582.57,441.87 582.78,441.34 C582.99,440.81 583.53,440.27 584.11,439.80 C584.70,439.33 585.60,438.92 586.28,438.50 C586.96,438.08 587.66,437.72 588.20,437.28 C588.73,436.85 589.05,436.37 589.49,435.90 C589.93,435.42 590.24,434.86 590.84,434.42 C591.43,433.98 592.18,433.55 593.06,433.26 C593.93,432.98 595.06,432.82 596.12,432.71 C597.17,432.59 598.32,432.62 599.36,432.57 C600.40,432.52 601.37,432.50 602.33,432.43 C603.30,432.35 604.19,432.21 605.14,432.12 C606.08,432.03 607.03,431.91 608.00,431.87 C608.97,431.82 609.95,431.84 610.93,431.87 C611.91,431.90 612.87,431.98 613.87,432.04 C614.87,432.10 615.89,432.14 616.93,432.21 C617.98,432.29 619.12,432.32 620.16,432.47 C621.21,432.61 622.31,432.80 623.23,433.08 C624.14,433.36 624.95,433.76 625.66,434.17 C626.37,434.58 626.90,435.07 627.50,435.52 C628.09,435.97 628.63,436.42 629.23,436.87 C629.83,437.32 630.54,437.74 631.10,438.22 C631.65,438.69 632.26,439.18 632.57,439.71 C632.87,440.23 632.97,440.81 632.91,441.36 C632.86,441.91 632.48,442.47 632.22,443.00Z" fill="#aeb096" fill-opacity="0.2"/>
<path d="M621.88,443.00 C621.76,443.30 621.61,443.59 621.52,443.89 C621.44,444.19 621.46,444.49 621.39,444.79 C621.32,445.10 621.29,445.42 621.09,445.71 C620.89,446.00 620.57,446.28 620.19,446.52 C619.81,446.76 619.28,446.95 618.82,447.15 C618.36,447.35 617.86,447.51 617.43,447.71 C617.00,447.92 616.64,448.14 616.23,448.36 C615.82,448.58 615.45,448.85 614.97,449.04 C614.50,449.23 613.96,449.40 613.38,449.50 C612.81,449.59 612.15,449.61 611.54,449.60 C610.93,449.60 610.30,449.52 609.71,449.48 C609.12,449.43 608.56,449.37 608.00,449.33 C607.44,449.29 606.90,449.27 606.36,449.22 C605.82,449.17 605.29,449.11 604.77,449.03 C604.25,448.94 603.77,448.82 603.26,448.72 C602.75,448.62 602.28,448.51 601.72,448.43 C601.17,448.36 600.57,448.32 599.94,448.25 C599.31,448.19 598.55,448.16 597.93,448.04 C597.30,447.92 596.63,447.76 596.17,447.54 C595.72,447.31 595.40,447.00 595.19,446.70 C594.99,446.39 595.00,446.03 594.93,445.71 C594.86,445.39 594.88,445.07 594.76,444.77 C594.64,444.47 594.42,444.20 594.24,443.91 C594.05,443.61 593.74,443.31 593.63,443.00 C593.52,442.69 593.47,442.36 593.59,442.05 C593.70,441.75 594.01,441.44 594.31,441.17 C594.60,440.89 595.03,440.64 595.36,440.38 C595.69,440.12 595.99,439.88 596.28,439.62 C596.58,439.36 596.79,439.07 597.13,438.83 C597.46,438.58 597.83,438.33 598.29,438.15 C598.76,437.96 599.35,437.84 599.92,437.73 C600.48,437.63 601.13,437.61 601.69,437.54 C602.26,437.47 602.79,437.42 603.30,437.32 C603.81,437.22 604.25,437.08 604.75,436.94 C605.25,436.81 605.75,436.63 606.29,436.51 C606.83,436.40 607.42,436.31 608.00,436.26 C608.58,436.21 609.19,436.21 609.78,436.22 C610.38,436.23 610.99,436.26 611.59,436.30 C612.20,436.34 612.83,436.37 613.42,436.46 C614.01,436.55 614.62,436.66 615.12,436.83 C615.62,437.01 616.06,437.26 616.41,437.52 C616.77,437.77 616.98,438.10 617.26,438.37 C617.54,438.64 617.73,438.91 618.07,439.13 C618.42,439.36 618.85,439.53 619.31,439.74 C619.77,439.94 620.39,440.11 620.84,440.34 C621.28,440.57 621.74,440.84 621.98,441.13 C622.21,441.41 622.26,441.75 622.25,442.06 C622.23,442.37 622.00,442.70 621.88,443.00Z" fill="#aeb096" fill-opacity="0.2"/>
<path d="M624.10,441.00 C624.01,441.27 623.95,441.53 623.90,441.80 C623.85,442.07 623.88,442.34 623.80,442.61 C623.71,442.88 623.62,443.16 623.41,443.42 C623.20,443.69 622.89,443.94 622.55,444.18 C622.22,444.42 621.79,444.64 621.40,444.86 C621.01,445.09 620.61,445.32 620.20,445.55 C619.80,445.79 619.42,446.04 618.96,446.27 C618.50,446.50 618.01,446.75 617.43,446.93 C616.86,447.12 616.20,447.28 615.52,447.39 C614.84,447.50 614.08,447.56 613.35,447.60 C612.62,447.63 611.87,447.62 611.14,447.62 C610.42,447.61 609.70,447.58 609.00,447.54 C608.30,447.51 607.60,447.46 606.93,447.39 C606.25,447.33 605.59,447.24 604.94,447.15 C604.30,447.06 603.68,446.94 603.05,446.84 C602.41,446.74 601.79,446.64 601.14,446.53 C600.50,446.42 599.82,446.33 599.18,446.20 C598.55,446.07 597.88,445.93 597.34,445.74 C596.80,445.55 596.31,445.32 595.95,445.07 C595.58,444.82 595.36,444.53 595.14,444.25 C594.92,443.98 594.82,443.69 594.63,443.42 C594.44,443.15 594.25,442.89 594.02,442.63 C593.79,442.37 593.47,442.11 593.25,441.84 C593.04,441.57 592.81,441.28 592.74,441.00 C592.67,440.72 592.72,440.42 592.86,440.14 C593.00,439.86 593.29,439.58 593.55,439.32 C593.81,439.05 594.14,438.80 594.44,438.55 C594.73,438.29 595.00,438.04 595.31,437.79 C595.63,437.54 595.94,437.28 596.34,437.05 C596.75,436.83 597.23,436.61 597.76,436.43 C598.29,436.26 598.93,436.12 599.53,435.99 C600.14,435.86 600.78,435.76 601.39,435.64 C602.00,435.53 602.58,435.41 603.17,435.28 C603.77,435.15 604.34,435.00 604.96,434.87 C605.58,434.74 606.22,434.60 606.89,434.50 C607.57,434.41 608.28,434.33 609.00,434.28 C609.72,434.24 610.46,434.22 611.19,434.23 C611.93,434.23 612.68,434.26 613.41,434.32 C614.13,434.38 614.87,434.46 615.54,434.59 C616.21,434.71 616.85,434.88 617.42,435.08 C617.98,435.27 618.46,435.52 618.92,435.75 C619.38,435.98 619.74,436.24 620.15,436.47 C620.57,436.70 620.97,436.92 621.41,437.13 C621.84,437.35 622.35,437.54 622.77,437.77 C623.20,438.00 623.66,438.23 623.95,438.48 C624.24,438.74 624.44,439.03 624.52,439.31 C624.60,439.59 624.50,439.89 624.43,440.17 C624.36,440.46 624.19,440.73 624.10,441.00Z" fill="#a07676" fill-opacity="0.33"/>
<path d="M619.10,441.00 C619.04,441.18 618.94,441.35 618.88,441.52 C618.81,441.69 618.78,441.86 618.71,442.04 C618.64,442.21 618.61,442.39 618.48,442.56 C618.36,442.73 618.20,442.90 617.97,443.05 C617.75,443.19 617.43,443.32 617.12,443.43 C616.81,443.54 616.45,443.63 616.12,443.72 C615.79,443.81 615.48,443.90 615.17,444.00 C614.87,444.09 614.60,444.21 614.30,444.31 C614.00,444.41 613.71,444.53 613.38,444.62 C613.05,444.71 612.69,444.79 612.32,444.85 C611.95,444.90 611.56,444.93 611.17,444.95 C610.78,444.97 610.39,444.98 610.00,444.98 C609.61,444.98 609.22,444.97 608.83,444.96 C608.44,444.94 608.04,444.92 607.66,444.87 C607.29,444.83 606.91,444.77 606.56,444.69 C606.21,444.61 605.88,444.51 605.56,444.42 C605.23,444.33 604.93,444.22 604.61,444.12 C604.29,444.02 603.97,443.93 603.66,443.82 C603.34,443.71 603.01,443.61 602.73,443.48 C602.46,443.35 602.20,443.21 601.99,443.05 C601.79,442.90 601.65,442.73 601.52,442.56 C601.39,442.39 601.31,442.22 601.21,442.05 C601.11,441.87 601.02,441.71 600.93,441.53 C600.84,441.36 600.73,441.18 600.69,441.00 C600.66,440.82 600.64,440.63 600.71,440.46 C600.78,440.28 600.93,440.10 601.10,439.94 C601.28,439.78 601.53,439.63 601.75,439.48 C601.96,439.33 602.19,439.19 602.39,439.05 C602.59,438.90 602.75,438.74 602.94,438.59 C603.14,438.44 603.32,438.28 603.56,438.14 C603.81,438.00 604.09,437.87 604.42,437.77 C604.74,437.67 605.13,437.60 605.50,437.54 C605.88,437.48 606.28,437.45 606.66,437.42 C607.04,437.38 607.41,437.35 607.78,437.32 C608.15,437.29 608.51,437.25 608.88,437.22 C609.25,437.19 609.62,437.16 610.00,437.15 C610.38,437.15 610.76,437.15 611.13,437.17 C611.51,437.18 611.89,437.21 612.26,437.24 C612.64,437.27 613.02,437.31 613.40,437.35 C613.79,437.39 614.19,437.43 614.56,437.49 C614.93,437.55 615.31,437.63 615.65,437.73 C615.98,437.83 616.28,437.96 616.55,438.09 C616.83,438.22 617.05,438.37 617.28,438.52 C617.51,438.66 617.72,438.81 617.93,438.96 C618.15,439.11 618.38,439.26 618.57,439.42 C618.75,439.58 618.94,439.75 619.05,439.92 C619.16,440.10 619.21,440.28 619.22,440.46 C619.23,440.64 619.15,440.82 619.10,441.00Z" fill="#805565" fill-opacity="0.38"/>
<path d="M617.05,406.20 C617.00,406.30 616.87,406.40 616.77,406.49 C616.67,406.59 616.54,406.67 616.47,406.76 C616.39,406.85 616.36,406.93 616.33,407.03 C616.30,407.13 616.32,407.24 616.29,407.35 C616.26,407.45 616.22,407.57 616.13,407.66 C616.05,407.76 615.90,407.84 615.75,407.91 C615.60,407.98 615.40,408.03 615.22,408.08 C615.04,408.13 614.86,408.17 614.68,408.22 C614.51,408.27 614.35,408.33 614.17,408.39 C613.99,408.44 613.81,408.50 613.62,408.53 C613.43,408.56 613.22,408.58 613.01,408.58 C612.81,408.58 612.60,408.55 612.40,408.52 C612.20,408.50 612.01,408.46 611.82,408.43 C611.64,408.41 611.45,408.39 611.27,408.36 C611.08,408.34 610.88,408.33 610.70,408.30 C610.52,408.27 610.33,408.23 610.17,408.18 C610.00,408.12 609.86,408.06 609.72,407.99 C609.57,407.92 609.45,407.84 609.32,407.77 C609.19,407.70 609.06,407.63 608.94,407.56 C608.81,407.48 608.68,407.41 608.58,407.33 C608.49,407.24 608.41,407.15 608.36,407.05 C608.32,406.96 608.32,406.86 608.30,406.76 C608.29,406.67 608.30,406.57 608.26,406.48 C608.23,406.38 608.16,406.30 608.09,406.20 C608.01,406.10 607.88,406.00 607.82,405.89 C607.75,405.78 607.67,405.66 607.68,405.55 C607.69,405.45 607.77,405.33 607.87,405.24 C607.98,405.15 608.17,405.07 608.32,405.00 C608.48,404.92 608.66,404.86 608.81,404.79 C608.96,404.72 609.08,404.65 609.21,404.57 C609.34,404.49 609.45,404.40 609.59,404.33 C609.73,404.26 609.89,404.18 610.07,404.14 C610.24,404.09 610.45,404.06 610.65,404.04 C610.85,404.02 611.06,404.02 611.25,404.01 C611.45,404.00 611.63,403.99 611.83,403.97 C612.02,403.95 612.20,403.92 612.40,403.91 C612.60,403.89 612.80,403.88 613.00,403.89 C613.19,403.90 613.39,403.93 613.57,403.97 C613.75,404.01 613.92,404.07 614.09,404.12 C614.25,404.17 614.41,404.23 614.57,404.28 C614.73,404.33 614.90,404.38 615.05,404.43 C615.21,404.49 615.37,404.54 615.51,404.61 C615.65,404.68 615.77,404.76 615.88,404.84 C615.99,404.92 616.07,405.00 616.18,405.09 C616.28,405.17 616.38,405.25 616.49,405.33 C616.60,405.42 616.75,405.50 616.85,405.59 C616.95,405.68 617.05,405.78 617.09,405.88 C617.12,405.99 617.11,406.10 617.05,406.20Z" fill="#d0e5d0" fill-opacity="0.95"/>
<path d="M616.70,476.70 C616.65,476.80 616.57,476.90 616.54,477.00 C616.50,477.10 616.49,477.20 616.49,477.31 C616.48,477.42 616.52,477.53 616.52,477.65 C616.52,477.76 616.52,477.89 616.48,478.01 C616.43,478.12 616.36,478.24 616.25,478.34 C616.15,478.44 616.00,478.53 615.84,478.61 C615.69,478.69 615.50,478.76 615.32,478.81 C615.13,478.87 614.93,478.91 614.73,478.95 C614.53,478.98 614.33,479.00 614.13,479.02 C613.93,479.03 613.73,479.04 613.54,479.05 C613.34,479.07 613.16,479.08 612.97,479.11 C612.78,479.13 612.60,479.17 612.40,479.19 C612.20,479.21 612.00,479.25 611.80,479.25 C611.59,479.25 611.38,479.24 611.20,479.20 C611.01,479.16 610.83,479.08 610.68,479.01 C610.52,478.94 610.39,478.84 610.25,478.77 C610.11,478.69 609.99,478.62 609.84,478.55 C609.69,478.49 609.52,478.45 609.36,478.39 C609.20,478.33 609.02,478.28 608.88,478.20 C608.73,478.13 608.61,478.04 608.52,477.95 C608.43,477.85 608.39,477.74 608.34,477.63 C608.29,477.53 608.28,477.42 608.22,477.32 C608.17,477.22 608.10,477.12 608.03,477.02 C607.95,476.92 607.84,476.81 607.77,476.70 C607.70,476.59 607.63,476.47 607.63,476.35 C607.63,476.24 607.68,476.11 607.76,476.01 C607.84,475.90 607.99,475.81 608.12,475.72 C608.26,475.63 608.43,475.55 608.57,475.47 C608.72,475.39 608.85,475.32 608.98,475.24 C609.11,475.17 609.22,475.08 609.35,475.00 C609.47,474.92 609.59,474.84 609.72,474.76 C609.85,474.68 609.99,474.60 610.14,474.52 C610.29,474.45 610.44,474.37 610.61,474.30 C610.79,474.24 610.97,474.18 611.17,474.14 C611.36,474.11 611.58,474.09 611.78,474.09 C611.99,474.09 612.20,474.12 612.40,474.15 C612.60,474.19 612.79,474.25 612.97,474.28 C613.16,474.32 613.33,474.36 613.52,474.39 C613.70,474.41 613.89,474.42 614.09,474.44 C614.28,474.45 614.50,474.46 614.69,474.50 C614.88,474.53 615.07,474.59 615.22,474.66 C615.37,474.73 615.49,474.83 615.59,474.93 C615.70,475.02 615.77,475.13 615.86,475.23 C615.95,475.32 616.04,475.41 616.14,475.50 C616.25,475.59 616.39,475.67 616.49,475.76 C616.59,475.85 616.71,475.95 616.77,476.05 C616.83,476.15 616.85,476.27 616.84,476.38 C616.83,476.48 616.75,476.60 616.70,476.70Z" fill="#cfe0c8" fill-opacity="0.95"/>
<line x1="546.70" y1="397.10" x2="546.70" y2="496.10" stroke="#333" stroke-width="1.0" />
<line x1="546.30" y1="495.70" x2="680.40" y2="495.70" stroke="#333" stroke-width="1.0" />
<line x1="544.50" y1="405.80" x2="546.70" y2="405.80" stroke="#333" stroke-width="0.7" />
<text x="544.50" y="408.60" font-size="7.9" text-anchor="end" fill="#222"  stroke="#222" stroke-width="0.2">5.0</text>
<line x1="544.50" y1="425.10" x2="546.70" y2="425.10" stroke="#333" stroke-width="0.7" />
<text x="544.50" y="427.90" font-size="7.9" text-anchor="end" fill="#222"  stroke="#222" stroke-width="0.2">2.5</text>
<line x1="544.50" y1="444.40" x2="546.70" y2="444.40" stroke="#333" stroke-width="0.7" />
<text x="544.50" y="447.20" font-size="7.9" text-anchor="end" fill="#222"  stroke="#222" stroke-width="0.2">0</text>
<line x1="544.50" y1="463.70" x2="546.70" y2="463.70" stroke="#333" stroke-width="0.7" />
<text x="544.50" y="466.50" font-size="7.9" text-anchor="end" fill="#222"  stroke="#222" stroke-width="0.2">-2.5</text>
<line x1="544.50" y1="483.00" x2="546.70" y2="483.00" stroke="#333" stroke-width="0.7" />
<text x="544.50" y="485.80" font-size="7.9" text-anchor="end" fill="#222"  stroke="#222" stroke-width="0.2">-5.0</text>
<text x="559.68" y="505.90" font-size="7.9" text-anchor="middle" fill="#222"  stroke="#222" stroke-width="0.2">-4</text>
<text x="586.74" y="505.90" font-size="7.9" text-anchor="middle" fill="#222"  stroke="#222" stroke-width="0.2">-2</text>
<text x="613.80" y="505.90" font-size="7.9" text-anchor="middle" fill="#222"  stroke="#222" stroke-width="0.2">0</text>
<text x="640.86" y="505.90" font-size="7.9" text-anchor="middle" fill="#222"  stroke="#222" stroke-width="0.2">2</text>
<text x="667.92" y="505.90" font-size="7.9" text-anchor="middle" fill="#222"  stroke="#222" stroke-width="0.2">4</text>
<text x="616.30" y="515.00" font-size="7.9" text-anchor="middle" fill="#222"  stroke="#222" stroke-width="0.2">Stimulus dimension 1</text>
<text transform="translate(531.50,441.00) rotate(-90.00)" font-size="7.9" text-anchor="middle" fill="#333" stroke="#333" stroke-width="0.2">Stimulus dimension 2</text>
<line x1="84.20" y1="240.40" x2="86.50" y2="345.00" stroke="#4a4a4a" stroke-width="1.0" />
<polyline points="86.50,345.00 212.70,367.80 279.10,328.90" stroke="#333" stroke-width="1.25" fill="none" />
<line x1="416.60" y1="237.80" x2="418.90" y2="342.00" stroke="#4a4a4a" stroke-width="1.0" />
<polyline points="418.90,342.00 544.00,365.40 610.00,327.20" stroke="#333" stroke-width="1.25" fill="none" />
<line x1="28.30" y1="412.10" x2="29.60" y2="485.70" stroke="#4a4a4a" stroke-width="1.0" />
<polyline points="29.60,485.70 117.10,501.70 164.30,474.20" stroke="#333" stroke-width="1.25" fill="none" />
<line x1="376.10" y1="413.60" x2="377.70" y2="483.70" stroke="#4a4a4a" stroke-width="1.0" />
<polyline points="377.70,483.70 462.00,499.00 508.00,472.70" stroke="#333" stroke-width="1.25" fill="none" />
<path d="M153.40,278.70 C153.17,276.82 151.88,271.17 152.00,267.40 C152.12,263.63 153.03,259.87 154.10,256.10 C155.17,252.33 157.10,247.98 158.40,244.80 C159.70,241.62 162.13,237.82 161.90,237.00 C161.67,236.18 158.58,238.65 157.00,239.90 C155.42,241.15 153.17,243.73 152.40,244.50" stroke="#5a9a66" stroke-width="1.5" fill="none" stroke-linecap="butt" stroke-dasharray="3.6 2.2" />
<path d="M164.80,243.40 C164.87,246.23 164.73,255.45 165.20,260.40 C165.67,265.35 166.38,269.57 167.60,273.10 C168.82,276.63 171.57,278.53 172.50,281.60 C173.43,284.67 173.08,289.85 173.20,291.50" stroke="#b8393f" stroke-width="1.5" fill="none" stroke-linecap="butt" stroke-dasharray="3.6 2.2" />
<path d="M189.20,286.50 C189.37,284.73 189.45,278.85 190.20,275.90 C190.95,272.95 191.70,271.50 193.70,268.80 C195.70,266.10 199.95,262.17 202.20,259.70 C204.45,257.23 206.37,254.95 207.20,254.00" stroke="#dba866" stroke-width="1.5" fill="none" stroke-linecap="butt" stroke-dasharray="3.6 2.2" />
<path d="M195.90,287.70 C197.67,287.15 204.15,286.13 206.50,284.40 C208.85,282.67 209.42,280.60 210.00,277.30 C210.58,274.00 209.65,267.78 210.00,264.60 C210.35,261.42 210.45,260.43 212.10,258.20 C213.75,255.97 219.42,253.20 219.90,251.20 C220.38,249.20 217.35,247.85 215.00,246.20 C212.65,244.55 207.33,242.12 205.80,241.30" stroke="#2e5a9a" stroke-width="1.5" fill="none" stroke-linecap="butt" stroke-dasharray="3.6 2.2" />
<path d="M152.50,298.80 C154.10,300.68 158.75,306.75 162.10,310.10 C165.45,313.45 170.18,316.50 172.60,318.90 C175.02,321.30 176.47,323.03 176.60,324.50 C176.73,325.97 175.82,326.90 173.40,327.70 C170.98,328.50 165.85,328.57 162.10,329.30 C158.35,330.03 154.12,330.88 150.90,332.10 C147.68,333.32 144.15,335.85 142.80,336.60" stroke="#5a9a66" stroke-width="1.4" fill="none" stroke-linecap="butt"  />
<path d="M172.10,306.90 C171.77,308.37 170.70,312.77 170.10,315.70 C169.50,318.63 169.17,322.23 168.50,324.50 C167.83,326.77 167.43,328.08 166.10,329.30 C164.77,330.52 161.83,330.32 160.50,331.80 C159.17,333.28 158.37,336.07 158.10,338.20 C157.83,340.33 158.23,342.47 158.90,344.60 C159.57,346.73 161.57,349.93 162.10,351.00" stroke="#b8393f" stroke-width="1.4" fill="none" stroke-linecap="butt"  />
<path d="M203.10,302.50 C202.70,304.43 200.57,310.57 200.70,314.10 C200.83,317.63 201.77,320.62 203.90,323.70 C206.03,326.78 210.30,330.40 213.50,332.60 C216.70,334.80 220.02,336.37 223.10,336.90 C226.18,337.43 230.52,335.98 232.00,335.80" stroke="#dba866" stroke-width="1.4" fill="none" stroke-linecap="butt"  />
<path d="M203.10,315.40 C203.50,316.52 205.10,319.37 205.50,322.10 C205.90,324.83 206.17,328.58 205.50,331.80 C204.83,335.02 202.17,338.73 201.50,341.40 C200.83,344.07 200.70,345.13 201.50,347.80 C202.30,350.47 205.50,355.80 206.30,357.40" stroke="#2e5a9a" stroke-width="1.4" fill="none" stroke-linecap="butt"  />
<circle cx="195.90" cy="287.70" r="1.3" fill="#2e5a9a" />
<circle cx="203.10" cy="315.40" r="1.2" fill="#2e5a9a" />
<circle cx="203.10" cy="302.50" r="1.1" fill="#dba866" />
<circle cx="152.50" cy="298.80" r="1.0" fill="#5a9a66" />
<circle cx="172.10" cy="306.90" r="1.0" fill="#d07080" />
<path d="M75.80,438.80 C75.80,436.97 75.43,431.45 75.80,427.80 C76.17,424.15 76.90,419.88 78.00,416.90 C79.10,413.92 82.77,410.27 82.40,409.90 C82.03,409.53 76.90,413.90 75.80,414.70" stroke="#5a9a66" stroke-width="1.2" fill="none" stroke-linecap="butt" stroke-dasharray="3.6 2.2" />
<path d="M84.20,414.70 C84.27,417.62 83.80,427.63 84.60,432.20 C85.40,436.77 88.08,439.53 89.00,442.10 C89.92,444.67 89.92,446.68 90.10,447.60" stroke="#b8393f" stroke-width="1.2" fill="none" stroke-linecap="butt" stroke-dasharray="3.6 2.2" />
<path d="M101.00,444.30 C101.37,442.65 101.92,436.97 103.20,434.40 C104.48,431.83 106.95,431.02 108.70,428.90 C110.45,426.78 112.87,422.90 113.70,421.70" stroke="#dba866" stroke-width="1.2" fill="none" stroke-linecap="butt" stroke-dasharray="3.6 2.2" />
<path d="M105.40,445.40 C106.68,444.85 111.28,444.12 113.10,442.10 C114.92,440.08 115.77,436.03 116.30,433.30 C116.83,430.57 115.27,428.07 116.30,425.70 C117.33,423.33 122.13,420.75 122.50,419.10 C122.87,417.45 120.07,416.90 118.50,415.80 C116.93,414.70 114.00,413.05 113.10,412.50" stroke="#2e5a9a" stroke-width="1.2" fill="none" stroke-linecap="butt" stroke-dasharray="3.6 2.2" />
<path d="M75.00,453.30 C76.92,454.87 83.52,459.73 86.50,462.70 C89.48,465.67 92.25,469.27 92.90,471.10 C93.55,472.93 92.73,472.97 90.40,473.70 C88.07,474.43 82.43,474.57 78.90,475.50 C75.37,476.43 70.82,478.67 69.20,479.30" stroke="#5a9a66" stroke-width="1.1" fill="none" stroke-linecap="butt"  />
<path d="M89.10,458.90 C88.67,461.02 87.78,468.63 86.50,471.60 C85.22,474.57 82.67,474.78 81.40,476.70 C80.13,478.62 78.68,480.88 78.90,483.10 C79.12,485.32 82.07,488.85 82.70,490.00" stroke="#b8393f" stroke-width="1.1" fill="none" stroke-linecap="butt"  />
<path d="M110.80,455.80 C110.72,457.58 109.25,463.22 110.30,466.50 C111.35,469.78 113.83,473.28 117.10,475.50 C120.37,477.72 127.77,479.08 129.90,479.80" stroke="#dba866" stroke-width="1.1" fill="none" stroke-linecap="butt"  />
<path d="M110.80,464.50 C111.13,466.12 112.80,470.88 112.80,474.20 C112.80,477.52 110.72,481.00 110.80,484.40 C110.88,487.80 112.88,492.90 113.30,494.60" stroke="#2e5a9a" stroke-width="1.1" fill="none" stroke-linecap="butt"  />
<ellipse cx="0" cy="0" rx="5.5" ry="13" transform="translate(502.5,293.5) rotate(8)" fill="none" stroke="#dba866" stroke-width="0.75" stroke-opacity="0.8"/>
<path d="M503.00,283.80 C503.95,283.42 507.03,281.63 508.70,281.50 C510.37,281.37 511.95,281.92 513.00,283.00 C514.05,284.08 514.83,286.17 515.00,288.00 C515.17,289.83 514.17,293.00 514.00,294.00" stroke="#7f90b8" stroke-width="0.9" fill="none" stroke-linecap="butt"  />
<path d="M506.00,280.00 C506.50,280.83 508.67,283.00 509.00,285.00 C509.33,287.00 507.67,290.00 508.00,292.00 C508.33,294.00 510.50,296.17 511.00,297.00" stroke="#9aa0b0" stroke-width="0.8" fill="none" stroke-linecap="butt"  />
<path d="M501.30,297.40 C502.63,297.58 507.32,297.93 509.30,298.50 C511.28,299.07 511.88,301.08 513.20,300.80 C514.52,300.52 516.73,298.98 517.20,296.80 C517.67,294.62 516.20,289.22 516.00,287.70" stroke="#b8393f" stroke-width="1.0" fill="none" stroke-linecap="butt"  />
<path d="M515.50,276.40 C516.12,277.07 518.63,278.42 519.20,280.40 C519.77,282.38 519.23,285.47 518.90,288.30 C518.57,291.13 517.48,295.88 517.20,297.40" stroke="#6a80b0" stroke-width="1.0" fill="none" stroke-linecap="butt" stroke-dasharray="3.6 2.2" />
<path d="M522.80,302.50 C522.15,303.72 519.55,308.58 518.90,309.80" stroke="#2e5a9a" stroke-width="1.2" fill="none" stroke-linecap="butt" stroke-dasharray="3.6 2.2" />
<path d="M515.50,308.70 C515.43,309.27 515.17,311.53 515.10,312.10" stroke="#2e5a9a" stroke-width="1.2" fill="none" stroke-linecap="butt"  />
<path d="M513.60,268.20 C513.43,269.17 512.90,272.37 512.60,274.00 C512.30,275.63 511.93,277.33 511.80,278.00" stroke="#5a9a66" stroke-width="1.3" fill="none" stroke-linecap="butt"  />
<path d="M511.80,278.00 C511.33,279.83 509.98,284.92 509.00,289.00 C508.02,293.08 506.42,300.25 505.90,302.50" stroke="#5a9a66" stroke-width="0.7" fill="none" stroke-linecap="butt"  />
<path d="M499.00,286.00 C499.67,285.17 501.50,282.00 503.00,281.00 C504.50,280.00 506.50,279.67 508.00,280.00 C509.50,280.33 511.17,281.50 512.00,283.00 C512.83,284.50 513.33,287.00 513.00,289.00 C512.67,291.00 510.50,294.00 510.00,295.00" stroke="#6f7fa8" stroke-width="0.7" fill="none" stroke-linecap="butt"  stroke-opacity="0.8"/>
<path d="M500.00,290.00 C500.83,289.17 503.33,285.67 505.00,285.00 C506.67,284.33 508.50,284.83 510.00,286.00 C511.50,287.17 513.33,291.00 514.00,292.00" stroke="#8890a8" stroke-width="0.7" fill="none" stroke-linecap="butt"  stroke-opacity="0.8"/>
<path d="M498.00,284.00 C498.67,283.17 500.50,280.00 502.00,279.00 C503.50,278.00 505.50,277.83 507.00,278.00 C508.50,278.17 510.33,279.67 511.00,280.00" stroke="#5a70a8" stroke-width="0.8" fill="none" stroke-linecap="butt"  stroke-opacity="0.8"/>
<path d="M503.00,292.00 C503.67,291.33 505.50,288.83 507.00,288.00 C508.50,287.17 510.50,287.67 512.00,287.00 C513.50,286.33 515.00,285.17 516.00,284.00 C517.00,282.83 517.67,280.67 518.00,280.00" stroke="#9a9aa8" stroke-width="0.6" fill="none" stroke-linecap="butt"  stroke-opacity="0.8"/>
<path d="M501.00,287.00 C501.83,287.67 504.50,290.00 506.00,291.00 C507.50,292.00 508.67,293.17 510.00,293.00 C511.33,292.83 513.33,290.50 514.00,290.00" stroke="#8088a0" stroke-width="0.6" fill="none" stroke-linecap="butt"  stroke-opacity="0.8"/>
<circle cx="513.60" cy="268.20" r="1.2" fill="#5a9a66" />
<circle cx="505.90" cy="302.50" r="1.2" fill="#5a9a66" />
<circle cx="516.00" cy="287.50" r="1.2" fill="#c02a2a" />
<circle cx="503.00" cy="283.80" r="1.2" fill="#1f4a9a" />
<circle cx="508.10" cy="281.00" r="1.0" fill="#dba866" />
<path d="M423.80,431.70 C422.45,433.93 417.05,441.07 415.70,445.10 C414.35,449.13 414.80,452.02 415.70,455.90 C416.60,459.78 419.15,465.42 421.10,468.40 C423.05,471.38 425.32,474.10 427.40,473.80 C429.48,473.50 431.37,470.18 433.60,466.60 C435.83,463.02 439.60,454.68 440.80,452.30" stroke="#dba866" stroke-width="0.9" fill="none" stroke-linecap="butt"  />
<path d="M428.30,432.60 C430.38,431.10 436.93,425.98 440.80,423.60 C444.67,421.22 448.52,418.73 451.50,418.30 C454.48,417.87 457.35,418.92 458.70,421.00 C460.05,423.08 459.75,426.18 459.60,430.80 C459.45,435.42 458.55,442.73 457.80,448.70 C457.05,454.67 455.85,461.23 455.10,466.60 C454.35,471.97 453.15,477.62 453.30,480.90 C453.45,484.18 454.50,486.60 456.00,486.30 C457.50,486.00 460.07,482.53 462.30,479.10 C464.53,475.67 468.22,467.93 469.40,465.70" stroke="#2e5a9a" stroke-width="1.2" fill="none" stroke-linecap="butt" stroke-dasharray="3.6 2.2" />
<path d="M431.90,439.80 C432.93,438.75 435.57,434.25 438.10,433.50 C440.63,432.75 444.42,433.67 447.10,435.30 C449.78,436.93 452.57,440.47 454.20,443.30 C455.83,446.13 456.45,450.80 456.90,452.30" stroke="#2e5a9a" stroke-width="1.2" fill="none" stroke-linecap="butt"  />
<path d="M415.70,448.70 C417.50,447.95 423.37,445.55 426.50,444.20 C429.63,442.85 432.12,442.83 434.50,440.60 C436.88,438.37 439.15,433.03 440.80,430.80 C442.45,428.57 443.05,426.45 444.40,427.20 C445.75,427.95 447.42,432.92 448.90,435.30 C450.38,437.68 452.57,440.47 453.30,441.50" stroke="#b8393f" stroke-width="1.2" fill="none" stroke-linecap="butt" stroke-dasharray="3.6 2.2" />
<path d="M424.70,457.70 C426.63,457.70 433.02,456.97 436.30,457.70 C439.58,458.43 441.87,461.22 444.40,462.10 C446.93,462.98 450.17,464.63 451.50,463.00 C452.83,461.37 452.10,455.58 452.40,452.30 C452.70,449.02 453.15,444.80 453.30,443.30" stroke="#b8393f" stroke-width="1.1" fill="none" stroke-linecap="butt"  />
<path d="M438.10,427.20 C441.53,427.15 457.05,425.25 458.70,426.90 C460.35,428.55 450.98,434.67 448.00,437.10 C445.02,439.53 442.00,440.77 440.80,441.50" stroke="#dba866" stroke-width="1.1" fill="none" stroke-linecap="butt" stroke-dasharray="3.6 2.2" />
<path d="M415.70,443.00 C417.80,443.05 424.87,442.95 428.30,443.30 C431.73,443.65 434.97,444.80 436.30,445.10" stroke="#5a9a66" stroke-width="1.1" fill="none" stroke-linecap="butt" stroke-dasharray="3.6 2.2" />
<circle cx="439.9" cy="446" r="2.8" fill="none" stroke="#5a9a66" stroke-width="0.9"/>
<line x1="449.40" y1="402.20" x2="443.50" y2="438.00" stroke="#5a9a66" stroke-width="1.1" />
<line x1="443.50" y1="438.00" x2="434.50" y2="466.60" stroke="#5a9a66" stroke-width="1.1" stroke-dasharray="3 2"/>
</svg>
</body></html>
